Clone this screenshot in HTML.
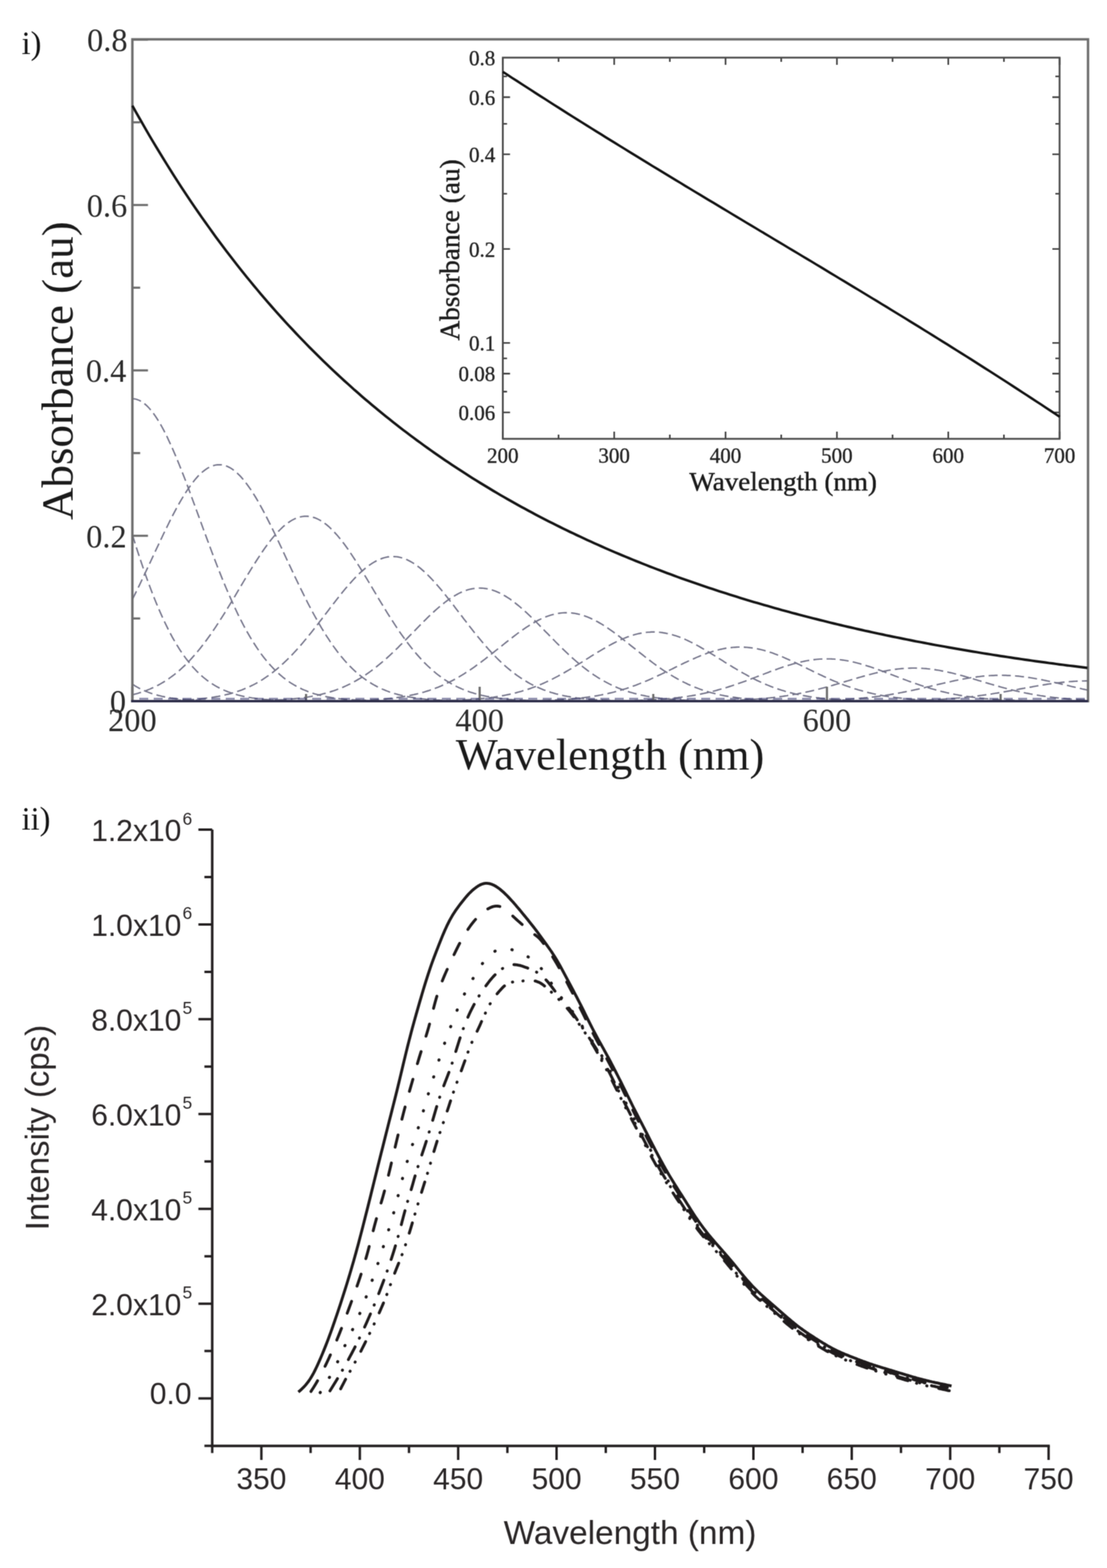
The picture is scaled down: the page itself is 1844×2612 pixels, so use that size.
<!DOCTYPE html><html><head><meta charset="utf-8"><title>Absorbance and emission spectra</title>
<style>html,body{margin:0;padding:0;background:#fff;overflow:hidden;}svg{display:block;}.sf{font-family:'Liberation Serif','Times New Roman',serif;}.ss{font-family:'Liberation Sans',Arial,sans-serif;}</style></head><body>
<svg width="1844" height="2612" viewBox="0 0 1844 2612">
<defs><filter id="soft" x="0" y="0" width="1844" height="2612" filterUnits="userSpaceOnUse" color-interpolation-filters="sRGB"><feConvolveMatrix order="3" kernelMatrix="1 2 1 2 6 2 1 2 1" divisor="18" edgeMode="duplicate"/></filter></defs>
<g filter="url(#soft)">
<rect x="0" y="0" width="1844" height="2612" fill="#fff"/>
<text class="sf" x="36" y="90" font-size="54" fill="#111">i)</text>
<g fill="none" stroke="#74748a" stroke-width="2.4" stroke-dasharray="15 7">
<path d="M220.5 1139.8L223.4 1141.6L226.3 1143.4L229.2 1145L232.1 1146.6L235 1148L237.9 1149.4L240.7 1150.7L243.6 1151.9L246.5 1153L249.4 1154.1L252.3 1155.1L255.2 1156L258.1 1156.9L261 1157.7L263.9 1158.5L266.8 1159.2L269.7 1159.9L272.6 1160.5L275.5 1161.1L278.4 1161.6L281.2 1162.1L284.1 1162.6L287 1163L289.9 1163.4L292.8 1163.8L295.7 1164.1L298.6 1164.4L301.5 1164.7L304.4 1165L307.3 1165.2L310.2 1165.5L313.1 1165.7L316 1165.9L318.8 1166.1L321.7 1166.2L324.6 1166.4L327.5 1166.5L330.4 1166.7L333.3 1166.8L336.2 1166.9L339.1 1167L342 1167.1L344.9 1167.2L347.8 1167.2L350.7 1167.3L353.6 1167.4L356.4 1167.4L359.3 1167.5L362.2 1167.5L365.1 1167.6L368 1167.6L370.9 1167.7L373.8 1167.7L376.7 1167.7L379.6 1167.8L382.5 1167.8L385.4 1167.8L388.3 1167.8L391.2 1167.8L394.1 1167.9L396.9 1167.9L399.8 1167.9L402.7 1167.9L405.6 1167.9L408.5 1167.9L411.4 1167.9L414.3 1167.9L417.2 1167.9L420.1 1167.9L423 1168L425.9 1168L428.8 1168L431.7 1168L434.5 1168L437.4 1168L440.3 1168L443.2 1168L446.1 1168L449 1168L451.9 1168L454.8 1168L457.7 1168L460.6 1168L463.5 1168L466.4 1168L469.3 1168L472.1 1168L475 1168L477.9 1168L480.8 1168L483.7 1168L486.6 1168L489.5 1168L492.4 1168L495.3 1168L498.2 1168L501.1 1168L504 1168L506.9 1168L509.8 1168L512.6 1168L515.5 1168L518.4 1168L521.3 1168L524.2 1168L527.1 1168L530 1168L532.9 1168L535.8 1168L538.7 1168L541.6 1168L544.5 1168L547.4 1168L550.2 1168L553.1 1168L556 1168L558.9 1168L561.8 1168L564.7 1168L567.6 1168L570.5 1168L573.4 1168L576.3 1168L579.2 1168L582.1 1168L585 1168L587.8 1168L590.7 1168L593.6 1168L596.5 1168L599.4 1168L602.3 1168L605.2 1168L608.1 1168L611 1168L613.9 1168L616.8 1168L619.7 1168L622.6 1168L625.5 1168L628.3 1168L631.2 1168L634.1 1168L637 1168L639.9 1168L642.8 1168L645.7 1168L648.6 1168L651.5 1168L654.4 1168L657.3 1168L660.2 1168L663.1 1168L665.9 1168L668.8 1168L671.7 1168L674.6 1168L677.5 1168L680.4 1168L683.3 1168L686.2 1168L689.1 1168L692 1168L694.9 1168L697.8 1168L700.7 1168L703.5 1168L706.4 1168L709.3 1168L712.2 1168L715.1 1168L718 1168L720.9 1168L723.8 1168L726.7 1168L729.6 1168L732.5 1168L735.4 1168L738.3 1168L741.1 1168L744 1168L746.9 1168L749.8 1168L752.7 1168L755.6 1168L758.5 1168L761.4 1168L764.3 1168L767.2 1168L770.1 1168L773 1168L775.9 1168L778.8 1168L781.6 1168L784.5 1168L787.4 1168L790.3 1168L793.2 1168L796.1 1168L799 1168L801.9 1168L804.8 1168L807.7 1168L810.6 1168L813.5 1168L816.4 1168L819.2 1168L822.1 1168L825 1168L827.9 1168L830.8 1168L833.7 1168L836.6 1168L839.5 1168L842.4 1168L845.3 1168L848.2 1168L851.1 1168L854 1168L856.9 1168L859.7 1168L862.6 1168L865.5 1168L868.4 1168L871.3 1168L874.2 1168L877.1 1168L880 1168L882.9 1168L885.8 1168L888.7 1168L891.6 1168L894.5 1168L897.3 1168L900.2 1168L903.1 1168L906 1168L908.9 1168L911.8 1168L914.7 1168L917.6 1168L920.5 1168L923.4 1168L926.3 1168L929.2 1168L932.1 1168L934.9 1168L937.8 1168L940.7 1168L943.6 1168L946.5 1168L949.4 1168L952.3 1168L955.2 1168L958.1 1168L961 1168L963.9 1168L966.8 1168L969.7 1168L972.6 1168L975.4 1168L978.3 1168L981.2 1168L984.1 1168L987 1168L989.9 1168L992.8 1168L995.7 1168L998.6 1168L1001.5 1168L1004.4 1168L1007.3 1168L1010.2 1168L1013 1168L1015.9 1168L1018.8 1168L1021.7 1168L1024.6 1168L1027.5 1168L1030.4 1168L1033.3 1168L1036.2 1168L1039.1 1168L1042 1168L1044.9 1168L1047.8 1168L1050.6 1168L1053.5 1168L1056.4 1168L1059.3 1168L1062.2 1168L1065.1 1168L1068 1168L1070.9 1168L1073.8 1168L1076.7 1168L1079.6 1168L1082.5 1168L1085.4 1168L1088.2 1168L1091.1 1168L1094 1168L1096.9 1168L1099.8 1168L1102.7 1168L1105.6 1168L1108.5 1168L1111.4 1168L1114.3 1168L1117.2 1168L1120.1 1168L1123 1168L1125.9 1168L1128.7 1168L1131.6 1168L1134.5 1168L1137.4 1168L1140.3 1168L1143.2 1168L1146.1 1168L1149 1168L1151.9 1168L1154.8 1168L1157.7 1168L1160.6 1168L1163.5 1168L1166.3 1168L1169.2 1168L1172.1 1168L1175 1168L1177.9 1168L1180.8 1168L1183.7 1168L1186.6 1168L1189.5 1168L1192.4 1168L1195.3 1168L1198.2 1168L1201.1 1168L1204 1168L1206.8 1168L1209.7 1168L1212.6 1168L1215.5 1168L1218.4 1168L1221.3 1168L1224.2 1168L1227.1 1168L1230 1168L1232.9 1168L1235.8 1168L1238.7 1168L1241.6 1168L1244.4 1168L1247.3 1168L1250.2 1168L1253.1 1168L1256 1168L1258.9 1168L1261.8 1168L1264.7 1168L1267.6 1168L1270.5 1168L1273.4 1168L1276.3 1168L1279.2 1168L1282 1168L1284.9 1168L1287.8 1168L1290.7 1168L1293.6 1168L1296.5 1168L1299.4 1168L1302.3 1168L1305.2 1168L1308.1 1168L1311 1168L1313.9 1168L1316.8 1168L1319.7 1168L1322.5 1168L1325.4 1168L1328.3 1168L1331.2 1168L1334.1 1168L1337 1168L1339.9 1168L1342.8 1168L1345.7 1168L1348.6 1168L1351.5 1168L1354.4 1168L1357.3 1168L1360.1 1168L1363 1168L1365.9 1168L1368.8 1168L1371.7 1168L1374.6 1168L1377.5 1168L1380.4 1168L1383.3 1168L1386.2 1168L1389.1 1168L1392 1168L1394.9 1168L1397.7 1168L1400.6 1168L1403.5 1168L1406.4 1168L1409.3 1168L1412.2 1168L1415.1 1168L1418 1168L1420.9 1168L1423.8 1168L1426.7 1168L1429.6 1168L1432.5 1168L1435.4 1168L1438.2 1168L1441.1 1168L1444 1168L1446.9 1168L1449.8 1168L1452.7 1168L1455.6 1168L1458.5 1168L1461.4 1168L1464.3 1168L1467.2 1168L1470.1 1168L1473 1168L1475.8 1168L1478.7 1168L1481.6 1168L1484.5 1168L1487.4 1168L1490.3 1168L1493.2 1168L1496.1 1168L1499 1168L1501.9 1168L1504.8 1168L1507.7 1168L1510.6 1168L1513.4 1168L1516.3 1168L1519.2 1168L1522.1 1168L1525 1168L1527.9 1168L1530.8 1168L1533.7 1168L1536.6 1168L1539.5 1168L1542.4 1168L1545.3 1168L1548.2 1168L1551 1168L1553.9 1168L1556.8 1168L1559.7 1168L1562.6 1168L1565.5 1168L1568.4 1168L1571.3 1168L1574.2 1168L1577.1 1168L1580 1168L1582.9 1168L1585.8 1168L1588.7 1168L1591.5 1168L1594.4 1168L1597.3 1168L1600.2 1168L1603.1 1168L1606 1168L1608.9 1168L1611.8 1168L1614.7 1168L1617.6 1168L1620.5 1168L1623.4 1168L1626.3 1168L1629.1 1168L1632 1168L1634.9 1168L1637.8 1168L1640.7 1168L1643.6 1168L1646.5 1168L1649.4 1168L1652.3 1168L1655.2 1168L1658.1 1168L1661 1168L1663.9 1168L1666.8 1168L1669.6 1168L1672.5 1168L1675.4 1168L1678.3 1168L1681.2 1168L1684.1 1168L1687 1168L1689.9 1168L1692.8 1168L1695.7 1168L1698.6 1168L1701.5 1168L1704.4 1168L1707.2 1168L1710.1 1168L1713 1168L1715.9 1168L1718.8 1168L1721.7 1168L1724.6 1168L1727.5 1168L1730.4 1168L1733.3 1168L1736.2 1168L1739.1 1168L1742 1168L1744.8 1168L1747.7 1168L1750.6 1168L1753.5 1168L1756.4 1168L1759.3 1168L1762.2 1168L1765.1 1168L1768 1168L1770.9 1168L1773.8 1168L1776.7 1168L1779.6 1168L1782.5 1168L1785.3 1168L1788.2 1168L1791.1 1168L1794 1168L1796.9 1168L1799.8 1168L1802.7 1168L1805.6 1168L1808.5 1168L1811.4 1168"/>
<path d="M220.5 890.8L223.4 900.1L226.3 909.3L229.2 918.3L232.1 927.1L235 935.8L237.9 944.3L240.7 952.7L243.6 960.9L246.5 968.9L249.4 976.7L252.3 984.4L255.2 991.9L258.1 999.1L261 1006.2L263.9 1013.1L266.8 1019.8L269.7 1026.3L272.6 1032.6L275.5 1038.7L278.4 1044.6L281.2 1050.4L284.1 1055.9L287 1061.3L289.9 1066.4L292.8 1071.4L295.7 1076.2L298.6 1080.8L301.5 1085.3L304.4 1089.5L307.3 1093.6L310.2 1097.6L313.1 1101.3L316 1104.9L318.8 1108.4L321.7 1111.7L324.6 1114.8L327.5 1117.9L330.4 1120.7L333.3 1123.5L336.2 1126.1L339.1 1128.6L342 1130.9L344.9 1133.2L347.8 1135.3L350.7 1137.3L353.6 1139.2L356.4 1141L359.3 1142.8L362.2 1144.4L365.1 1145.9L368 1147.4L370.9 1148.7L373.8 1150L376.7 1151.2L379.6 1152.4L382.5 1153.4L385.4 1154.5L388.3 1155.4L391.2 1156.3L394.1 1157.1L396.9 1157.9L399.8 1158.6L402.7 1159.3L405.6 1160L408.5 1160.6L411.4 1161.1L414.3 1161.6L417.2 1162.1L420.1 1162.6L423 1163L425.9 1163.4L428.8 1163.7L431.7 1164.1L434.5 1164.4L437.4 1164.7L440.3 1165L443.2 1165.2L446.1 1165.4L449 1165.6L451.9 1165.8L454.8 1166L457.7 1166.2L460.6 1166.3L463.5 1166.5L466.4 1166.6L469.3 1166.7L472.1 1166.9L475 1167L477.9 1167L480.8 1167.1L483.7 1167.2L486.6 1167.3L489.5 1167.3L492.4 1167.4L495.3 1167.5L498.2 1167.5L501.1 1167.6L504 1167.6L506.9 1167.6L509.8 1167.7L512.6 1167.7L515.5 1167.7L518.4 1167.8L521.3 1167.8L524.2 1167.8L527.1 1167.8L530 1167.8L532.9 1167.9L535.8 1167.9L538.7 1167.9L541.6 1167.9L544.5 1167.9L547.4 1167.9L550.2 1167.9L553.1 1167.9L556 1167.9L558.9 1167.9L561.8 1168L564.7 1168L567.6 1168L570.5 1168L573.4 1168L576.3 1168L579.2 1168L582.1 1168L585 1168L587.8 1168L590.7 1168L593.6 1168L596.5 1168L599.4 1168L602.3 1168L605.2 1168L608.1 1168L611 1168L613.9 1168L616.8 1168L619.7 1168L622.6 1168L625.5 1168L628.3 1168L631.2 1168L634.1 1168L637 1168L639.9 1168L642.8 1168L645.7 1168L648.6 1168L651.5 1168L654.4 1168L657.3 1168L660.2 1168L663.1 1168L665.9 1168L668.8 1168L671.7 1168L674.6 1168L677.5 1168L680.4 1168L683.3 1168L686.2 1168L689.1 1168L692 1168L694.9 1168L697.8 1168L700.7 1168L703.5 1168L706.4 1168L709.3 1168L712.2 1168L715.1 1168L718 1168L720.9 1168L723.8 1168L726.7 1168L729.6 1168L732.5 1168L735.4 1168L738.3 1168L741.1 1168L744 1168L746.9 1168L749.8 1168L752.7 1168L755.6 1168L758.5 1168L761.4 1168L764.3 1168L767.2 1168L770.1 1168L773 1168L775.9 1168L778.8 1168L781.6 1168L784.5 1168L787.4 1168L790.3 1168L793.2 1168L796.1 1168L799 1168L801.9 1168L804.8 1168L807.7 1168L810.6 1168L813.5 1168L816.4 1168L819.2 1168L822.1 1168L825 1168L827.9 1168L830.8 1168L833.7 1168L836.6 1168L839.5 1168L842.4 1168L845.3 1168L848.2 1168L851.1 1168L854 1168L856.9 1168L859.7 1168L862.6 1168L865.5 1168L868.4 1168L871.3 1168L874.2 1168L877.1 1168L880 1168L882.9 1168L885.8 1168L888.7 1168L891.6 1168L894.5 1168L897.3 1168L900.2 1168L903.1 1168L906 1168L908.9 1168L911.8 1168L914.7 1168L917.6 1168L920.5 1168L923.4 1168L926.3 1168L929.2 1168L932.1 1168L934.9 1168L937.8 1168L940.7 1168L943.6 1168L946.5 1168L949.4 1168L952.3 1168L955.2 1168L958.1 1168L961 1168L963.9 1168L966.8 1168L969.7 1168L972.6 1168L975.4 1168L978.3 1168L981.2 1168L984.1 1168L987 1168L989.9 1168L992.8 1168L995.7 1168L998.6 1168L1001.5 1168L1004.4 1168L1007.3 1168L1010.2 1168L1013 1168L1015.9 1168L1018.8 1168L1021.7 1168L1024.6 1168L1027.5 1168L1030.4 1168L1033.3 1168L1036.2 1168L1039.1 1168L1042 1168L1044.9 1168L1047.8 1168L1050.6 1168L1053.5 1168L1056.4 1168L1059.3 1168L1062.2 1168L1065.1 1168L1068 1168L1070.9 1168L1073.8 1168L1076.7 1168L1079.6 1168L1082.5 1168L1085.4 1168L1088.2 1168L1091.1 1168L1094 1168L1096.9 1168L1099.8 1168L1102.7 1168L1105.6 1168L1108.5 1168L1111.4 1168L1114.3 1168L1117.2 1168L1120.1 1168L1123 1168L1125.9 1168L1128.7 1168L1131.6 1168L1134.5 1168L1137.4 1168L1140.3 1168L1143.2 1168L1146.1 1168L1149 1168L1151.9 1168L1154.8 1168L1157.7 1168L1160.6 1168L1163.5 1168L1166.3 1168L1169.2 1168L1172.1 1168L1175 1168L1177.9 1168L1180.8 1168L1183.7 1168L1186.6 1168L1189.5 1168L1192.4 1168L1195.3 1168L1198.2 1168L1201.1 1168L1204 1168L1206.8 1168L1209.7 1168L1212.6 1168L1215.5 1168L1218.4 1168L1221.3 1168L1224.2 1168L1227.1 1168L1230 1168L1232.9 1168L1235.8 1168L1238.7 1168L1241.6 1168L1244.4 1168L1247.3 1168L1250.2 1168L1253.1 1168L1256 1168L1258.9 1168L1261.8 1168L1264.7 1168L1267.6 1168L1270.5 1168L1273.4 1168L1276.3 1168L1279.2 1168L1282 1168L1284.9 1168L1287.8 1168L1290.7 1168L1293.6 1168L1296.5 1168L1299.4 1168L1302.3 1168L1305.2 1168L1308.1 1168L1311 1168L1313.9 1168L1316.8 1168L1319.7 1168L1322.5 1168L1325.4 1168L1328.3 1168L1331.2 1168L1334.1 1168L1337 1168L1339.9 1168L1342.8 1168L1345.7 1168L1348.6 1168L1351.5 1168L1354.4 1168L1357.3 1168L1360.1 1168L1363 1168L1365.9 1168L1368.8 1168L1371.7 1168L1374.6 1168L1377.5 1168L1380.4 1168L1383.3 1168L1386.2 1168L1389.1 1168L1392 1168L1394.9 1168L1397.7 1168L1400.6 1168L1403.5 1168L1406.4 1168L1409.3 1168L1412.2 1168L1415.1 1168L1418 1168L1420.9 1168L1423.8 1168L1426.7 1168L1429.6 1168L1432.5 1168L1435.4 1168L1438.2 1168L1441.1 1168L1444 1168L1446.9 1168L1449.8 1168L1452.7 1168L1455.6 1168L1458.5 1168L1461.4 1168L1464.3 1168L1467.2 1168L1470.1 1168L1473 1168L1475.8 1168L1478.7 1168L1481.6 1168L1484.5 1168L1487.4 1168L1490.3 1168L1493.2 1168L1496.1 1168L1499 1168L1501.9 1168L1504.8 1168L1507.7 1168L1510.6 1168L1513.4 1168L1516.3 1168L1519.2 1168L1522.1 1168L1525 1168L1527.9 1168L1530.8 1168L1533.7 1168L1536.6 1168L1539.5 1168L1542.4 1168L1545.3 1168L1548.2 1168L1551 1168L1553.9 1168L1556.8 1168L1559.7 1168L1562.6 1168L1565.5 1168L1568.4 1168L1571.3 1168L1574.2 1168L1577.1 1168L1580 1168L1582.9 1168L1585.8 1168L1588.7 1168L1591.5 1168L1594.4 1168L1597.3 1168L1600.2 1168L1603.1 1168L1606 1168L1608.9 1168L1611.8 1168L1614.7 1168L1617.6 1168L1620.5 1168L1623.4 1168L1626.3 1168L1629.1 1168L1632 1168L1634.9 1168L1637.8 1168L1640.7 1168L1643.6 1168L1646.5 1168L1649.4 1168L1652.3 1168L1655.2 1168L1658.1 1168L1661 1168L1663.9 1168L1666.8 1168L1669.6 1168L1672.5 1168L1675.4 1168L1678.3 1168L1681.2 1168L1684.1 1168L1687 1168L1689.9 1168L1692.8 1168L1695.7 1168L1698.6 1168L1701.5 1168L1704.4 1168L1707.2 1168L1710.1 1168L1713 1168L1715.9 1168L1718.8 1168L1721.7 1168L1724.6 1168L1727.5 1168L1730.4 1168L1733.3 1168L1736.2 1168L1739.1 1168L1742 1168L1744.8 1168L1747.7 1168L1750.6 1168L1753.5 1168L1756.4 1168L1759.3 1168L1762.2 1168L1765.1 1168L1768 1168L1770.9 1168L1773.8 1168L1776.7 1168L1779.6 1168L1782.5 1168L1785.3 1168L1788.2 1168L1791.1 1168L1794 1168L1796.9 1168L1799.8 1168L1802.7 1168L1805.6 1168L1808.5 1168L1811.4 1168"/>
<path d="M220.5 664.2L223.4 664.4L226.3 664.9L229.2 665.8L232.1 667L235 668.5L237.9 670.3L240.7 672.5L243.6 675L246.5 677.8L249.4 681L252.3 684.4L255.2 688.1L258.1 692.2L261 696.5L263.9 701.1L266.8 705.9L269.7 711L272.6 716.4L275.5 722L278.4 727.8L281.2 733.9L284.1 740.1L287 746.6L289.9 753.2L292.8 760L295.7 767L298.6 774.1L301.5 781.3L304.4 788.7L307.3 796.1L310.2 803.7L313.1 811.4L316 819.1L318.8 826.9L321.7 834.8L324.6 842.6L327.5 850.6L330.4 858.5L333.3 866.4L336.2 874.4L339.1 882.3L342 890.2L344.9 898L347.8 905.8L350.7 913.6L353.6 921.3L356.4 928.9L359.3 936.4L362.2 943.9L365.1 951.2L368 958.5L370.9 965.7L373.8 972.7L376.7 979.6L379.6 986.4L382.5 993.1L385.4 999.6L388.3 1006L391.2 1012.3L394.1 1018.4L396.9 1024.4L399.8 1030.3L402.7 1035.9L405.6 1041.5L408.5 1046.9L411.4 1052.1L414.3 1057.2L417.2 1062.1L420.1 1066.9L423 1071.5L425.9 1076L428.8 1080.3L431.7 1084.5L434.5 1088.6L437.4 1092.5L440.3 1096.2L443.2 1099.8L446.1 1103.3L449 1106.6L451.9 1109.8L454.8 1112.9L457.7 1115.9L460.6 1118.7L463.5 1121.4L466.4 1124L469.3 1126.4L472.1 1128.8L475 1131L477.9 1133.2L480.8 1135.2L483.7 1137.2L486.6 1139L489.5 1140.8L492.4 1142.4L495.3 1144L498.2 1145.5L501.1 1146.9L504 1148.3L506.9 1149.5L509.8 1150.7L512.6 1151.9L515.5 1152.9L518.4 1153.9L521.3 1154.9L524.2 1155.8L527.1 1156.6L530 1157.4L532.9 1158.1L535.8 1158.8L538.7 1159.5L541.6 1160.1L544.5 1160.7L547.4 1161.2L550.2 1161.7L553.1 1162.2L556 1162.6L558.9 1163L561.8 1163.4L564.7 1163.8L567.6 1164.1L570.5 1164.4L573.4 1164.7L576.3 1164.9L579.2 1165.2L582.1 1165.4L585 1165.6L587.8 1165.8L590.7 1166L593.6 1166.2L596.5 1166.3L599.4 1166.5L602.3 1166.6L605.2 1166.7L608.1 1166.8L611 1166.9L613.9 1167L616.8 1167.1L619.7 1167.2L622.6 1167.3L625.5 1167.3L628.3 1167.4L631.2 1167.4L634.1 1167.5L637 1167.5L639.9 1167.6L642.8 1167.6L645.7 1167.7L648.6 1167.7L651.5 1167.7L654.4 1167.7L657.3 1167.8L660.2 1167.8L663.1 1167.8L665.9 1167.8L668.8 1167.8L671.7 1167.9L674.6 1167.9L677.5 1167.9L680.4 1167.9L683.3 1167.9L686.2 1167.9L689.1 1167.9L692 1167.9L694.9 1167.9L697.8 1167.9L700.7 1168L703.5 1168L706.4 1168L709.3 1168L712.2 1168L715.1 1168L718 1168L720.9 1168L723.8 1168L726.7 1168L729.6 1168L732.5 1168L735.4 1168L738.3 1168L741.1 1168L744 1168L746.9 1168L749.8 1168L752.7 1168L755.6 1168L758.5 1168L761.4 1168L764.3 1168L767.2 1168L770.1 1168L773 1168L775.9 1168L778.8 1168L781.6 1168L784.5 1168L787.4 1168L790.3 1168L793.2 1168L796.1 1168L799 1168L801.9 1168L804.8 1168L807.7 1168L810.6 1168L813.5 1168L816.4 1168L819.2 1168L822.1 1168L825 1168L827.9 1168L830.8 1168L833.7 1168L836.6 1168L839.5 1168L842.4 1168L845.3 1168L848.2 1168L851.1 1168L854 1168L856.9 1168L859.7 1168L862.6 1168L865.5 1168L868.4 1168L871.3 1168L874.2 1168L877.1 1168L880 1168L882.9 1168L885.8 1168L888.7 1168L891.6 1168L894.5 1168L897.3 1168L900.2 1168L903.1 1168L906 1168L908.9 1168L911.8 1168L914.7 1168L917.6 1168L920.5 1168L923.4 1168L926.3 1168L929.2 1168L932.1 1168L934.9 1168L937.8 1168L940.7 1168L943.6 1168L946.5 1168L949.4 1168L952.3 1168L955.2 1168L958.1 1168L961 1168L963.9 1168L966.8 1168L969.7 1168L972.6 1168L975.4 1168L978.3 1168L981.2 1168L984.1 1168L987 1168L989.9 1168L992.8 1168L995.7 1168L998.6 1168L1001.5 1168L1004.4 1168L1007.3 1168L1010.2 1168L1013 1168L1015.9 1168L1018.8 1168L1021.7 1168L1024.6 1168L1027.5 1168L1030.4 1168L1033.3 1168L1036.2 1168L1039.1 1168L1042 1168L1044.9 1168L1047.8 1168L1050.6 1168L1053.5 1168L1056.4 1168L1059.3 1168L1062.2 1168L1065.1 1168L1068 1168L1070.9 1168L1073.8 1168L1076.7 1168L1079.6 1168L1082.5 1168L1085.4 1168L1088.2 1168L1091.1 1168L1094 1168L1096.9 1168L1099.8 1168L1102.7 1168L1105.6 1168L1108.5 1168L1111.4 1168L1114.3 1168L1117.2 1168L1120.1 1168L1123 1168L1125.9 1168L1128.7 1168L1131.6 1168L1134.5 1168L1137.4 1168L1140.3 1168L1143.2 1168L1146.1 1168L1149 1168L1151.9 1168L1154.8 1168L1157.7 1168L1160.6 1168L1163.5 1168L1166.3 1168L1169.2 1168L1172.1 1168L1175 1168L1177.9 1168L1180.8 1168L1183.7 1168L1186.6 1168L1189.5 1168L1192.4 1168L1195.3 1168L1198.2 1168L1201.1 1168L1204 1168L1206.8 1168L1209.7 1168L1212.6 1168L1215.5 1168L1218.4 1168L1221.3 1168L1224.2 1168L1227.1 1168L1230 1168L1232.9 1168L1235.8 1168L1238.7 1168L1241.6 1168L1244.4 1168L1247.3 1168L1250.2 1168L1253.1 1168L1256 1168L1258.9 1168L1261.8 1168L1264.7 1168L1267.6 1168L1270.5 1168L1273.4 1168L1276.3 1168L1279.2 1168L1282 1168L1284.9 1168L1287.8 1168L1290.7 1168L1293.6 1168L1296.5 1168L1299.4 1168L1302.3 1168L1305.2 1168L1308.1 1168L1311 1168L1313.9 1168L1316.8 1168L1319.7 1168L1322.5 1168L1325.4 1168L1328.3 1168L1331.2 1168L1334.1 1168L1337 1168L1339.9 1168L1342.8 1168L1345.7 1168L1348.6 1168L1351.5 1168L1354.4 1168L1357.3 1168L1360.1 1168L1363 1168L1365.9 1168L1368.8 1168L1371.7 1168L1374.6 1168L1377.5 1168L1380.4 1168L1383.3 1168L1386.2 1168L1389.1 1168L1392 1168L1394.9 1168L1397.7 1168L1400.6 1168L1403.5 1168L1406.4 1168L1409.3 1168L1412.2 1168L1415.1 1168L1418 1168L1420.9 1168L1423.8 1168L1426.7 1168L1429.6 1168L1432.5 1168L1435.4 1168L1438.2 1168L1441.1 1168L1444 1168L1446.9 1168L1449.8 1168L1452.7 1168L1455.6 1168L1458.5 1168L1461.4 1168L1464.3 1168L1467.2 1168L1470.1 1168L1473 1168L1475.8 1168L1478.7 1168L1481.6 1168L1484.5 1168L1487.4 1168L1490.3 1168L1493.2 1168L1496.1 1168L1499 1168L1501.9 1168L1504.8 1168L1507.7 1168L1510.6 1168L1513.4 1168L1516.3 1168L1519.2 1168L1522.1 1168L1525 1168L1527.9 1168L1530.8 1168L1533.7 1168L1536.6 1168L1539.5 1168L1542.4 1168L1545.3 1168L1548.2 1168L1551 1168L1553.9 1168L1556.8 1168L1559.7 1168L1562.6 1168L1565.5 1168L1568.4 1168L1571.3 1168L1574.2 1168L1577.1 1168L1580 1168L1582.9 1168L1585.8 1168L1588.7 1168L1591.5 1168L1594.4 1168L1597.3 1168L1600.2 1168L1603.1 1168L1606 1168L1608.9 1168L1611.8 1168L1614.7 1168L1617.6 1168L1620.5 1168L1623.4 1168L1626.3 1168L1629.1 1168L1632 1168L1634.9 1168L1637.8 1168L1640.7 1168L1643.6 1168L1646.5 1168L1649.4 1168L1652.3 1168L1655.2 1168L1658.1 1168L1661 1168L1663.9 1168L1666.8 1168L1669.6 1168L1672.5 1168L1675.4 1168L1678.3 1168L1681.2 1168L1684.1 1168L1687 1168L1689.9 1168L1692.8 1168L1695.7 1168L1698.6 1168L1701.5 1168L1704.4 1168L1707.2 1168L1710.1 1168L1713 1168L1715.9 1168L1718.8 1168L1721.7 1168L1724.6 1168L1727.5 1168L1730.4 1168L1733.3 1168L1736.2 1168L1739.1 1168L1742 1168L1744.8 1168L1747.7 1168L1750.6 1168L1753.5 1168L1756.4 1168L1759.3 1168L1762.2 1168L1765.1 1168L1768 1168L1770.9 1168L1773.8 1168L1776.7 1168L1779.6 1168L1782.5 1168L1785.3 1168L1788.2 1168L1791.1 1168L1794 1168L1796.9 1168L1799.8 1168L1802.7 1168L1805.6 1168L1808.5 1168L1811.4 1168"/>
<path d="M220.5 998.5L223.4 992.7L226.3 986.9L229.2 981L232.1 975.1L235 969L237.9 963L240.7 956.9L243.6 950.7L246.5 944.6L249.4 938.4L252.3 932.2L255.2 926L258.1 919.8L261 913.6L263.9 907.4L266.8 901.3L269.7 895.2L272.6 889.1L275.5 883.1L278.4 877.2L281.2 871.4L284.1 865.6L287 859.9L289.9 854.4L292.8 848.9L295.7 843.6L298.6 838.4L301.5 833.4L304.4 828.5L307.3 823.8L310.2 819.2L313.1 814.9L316 810.7L318.8 806.7L321.7 802.9L324.6 799.3L327.5 795.9L330.4 792.7L333.3 789.8L336.2 787.1L339.1 784.7L342 782.5L344.9 780.5L347.8 778.8L350.7 777.4L353.6 776.2L356.4 775.3L359.3 774.6L362.2 774.2L365.1 774.1L368 774.2L370.9 774.6L373.8 775.3L376.7 776.2L379.6 777.4L382.5 778.8L385.4 780.5L388.3 782.5L391.2 784.7L394.1 787.1L396.9 789.8L399.8 792.7L402.7 795.9L405.6 799.3L408.5 802.9L411.4 806.7L414.3 810.7L417.2 814.9L420.1 819.2L423 823.8L425.9 828.5L428.8 833.4L431.7 838.4L434.5 843.6L437.4 848.9L440.3 854.4L443.2 859.9L446.1 865.6L449 871.4L451.9 877.2L454.8 883.1L457.7 889.1L460.6 895.2L463.5 901.3L466.4 907.4L469.3 913.6L472.1 919.8L475 926L477.9 932.2L480.8 938.4L483.7 944.6L486.6 950.7L489.5 956.9L492.4 963L495.3 969L498.2 975.1L501.1 981L504 986.9L506.9 992.7L509.8 998.5L512.6 1004.2L515.5 1009.8L518.4 1015.3L521.3 1020.7L524.2 1026L527.1 1031.2L530 1036.3L532.9 1041.4L535.8 1046.3L538.7 1051L541.6 1055.7L544.5 1060.3L547.4 1064.7L550.2 1069.1L553.1 1073.3L556 1077.4L558.9 1081.3L561.8 1085.2L564.7 1088.9L567.6 1092.6L570.5 1096.1L573.4 1099.5L576.3 1102.7L579.2 1105.9L582.1 1108.9L585 1111.9L587.8 1114.7L590.7 1117.4L593.6 1120L596.5 1122.5L599.4 1124.9L602.3 1127.2L605.2 1129.4L608.1 1131.5L611 1133.6L613.9 1135.5L616.8 1137.3L619.7 1139.1L622.6 1140.8L625.5 1142.4L628.3 1143.9L631.2 1145.3L634.1 1146.7L637 1148L639.9 1149.2L642.8 1150.4L645.7 1151.5L648.6 1152.6L651.5 1153.6L654.4 1154.5L657.3 1155.4L660.2 1156.2L663.1 1157L665.9 1157.7L668.8 1158.4L671.7 1159.1L674.6 1159.7L677.5 1160.3L680.4 1160.8L683.3 1161.4L686.2 1161.8L689.1 1162.3L692 1162.7L694.9 1163.1L697.8 1163.5L700.7 1163.8L703.5 1164.1L706.4 1164.4L709.3 1164.7L712.2 1164.9L715.1 1165.2L718 1165.4L720.9 1165.6L723.8 1165.8L726.7 1166L729.6 1166.1L732.5 1166.3L735.4 1166.4L738.3 1166.6L741.1 1166.7L744 1166.8L746.9 1166.9L749.8 1167L752.7 1167.1L755.6 1167.2L758.5 1167.2L761.4 1167.3L764.3 1167.4L767.2 1167.4L770.1 1167.5L773 1167.5L775.9 1167.6L778.8 1167.6L781.6 1167.6L784.5 1167.7L787.4 1167.7L790.3 1167.7L793.2 1167.8L796.1 1167.8L799 1167.8L801.9 1167.8L804.8 1167.8L807.7 1167.9L810.6 1167.9L813.5 1167.9L816.4 1167.9L819.2 1167.9L822.1 1167.9L825 1167.9L827.9 1167.9L830.8 1167.9L833.7 1167.9L836.6 1167.9L839.5 1168L842.4 1168L845.3 1168L848.2 1168L851.1 1168L854 1168L856.9 1168L859.7 1168L862.6 1168L865.5 1168L868.4 1168L871.3 1168L874.2 1168L877.1 1168L880 1168L882.9 1168L885.8 1168L888.7 1168L891.6 1168L894.5 1168L897.3 1168L900.2 1168L903.1 1168L906 1168L908.9 1168L911.8 1168L914.7 1168L917.6 1168L920.5 1168L923.4 1168L926.3 1168L929.2 1168L932.1 1168L934.9 1168L937.8 1168L940.7 1168L943.6 1168L946.5 1168L949.4 1168L952.3 1168L955.2 1168L958.1 1168L961 1168L963.9 1168L966.8 1168L969.7 1168L972.6 1168L975.4 1168L978.3 1168L981.2 1168L984.1 1168L987 1168L989.9 1168L992.8 1168L995.7 1168L998.6 1168L1001.5 1168L1004.4 1168L1007.3 1168L1010.2 1168L1013 1168L1015.9 1168L1018.8 1168L1021.7 1168L1024.6 1168L1027.5 1168L1030.4 1168L1033.3 1168L1036.2 1168L1039.1 1168L1042 1168L1044.9 1168L1047.8 1168L1050.6 1168L1053.5 1168L1056.4 1168L1059.3 1168L1062.2 1168L1065.1 1168L1068 1168L1070.9 1168L1073.8 1168L1076.7 1168L1079.6 1168L1082.5 1168L1085.4 1168L1088.2 1168L1091.1 1168L1094 1168L1096.9 1168L1099.8 1168L1102.7 1168L1105.6 1168L1108.5 1168L1111.4 1168L1114.3 1168L1117.2 1168L1120.1 1168L1123 1168L1125.9 1168L1128.7 1168L1131.6 1168L1134.5 1168L1137.4 1168L1140.3 1168L1143.2 1168L1146.1 1168L1149 1168L1151.9 1168L1154.8 1168L1157.7 1168L1160.6 1168L1163.5 1168L1166.3 1168L1169.2 1168L1172.1 1168L1175 1168L1177.9 1168L1180.8 1168L1183.7 1168L1186.6 1168L1189.5 1168L1192.4 1168L1195.3 1168L1198.2 1168L1201.1 1168L1204 1168L1206.8 1168L1209.7 1168L1212.6 1168L1215.5 1168L1218.4 1168L1221.3 1168L1224.2 1168L1227.1 1168L1230 1168L1232.9 1168L1235.8 1168L1238.7 1168L1241.6 1168L1244.4 1168L1247.3 1168L1250.2 1168L1253.1 1168L1256 1168L1258.9 1168L1261.8 1168L1264.7 1168L1267.6 1168L1270.5 1168L1273.4 1168L1276.3 1168L1279.2 1168L1282 1168L1284.9 1168L1287.8 1168L1290.7 1168L1293.6 1168L1296.5 1168L1299.4 1168L1302.3 1168L1305.2 1168L1308.1 1168L1311 1168L1313.9 1168L1316.8 1168L1319.7 1168L1322.5 1168L1325.4 1168L1328.3 1168L1331.2 1168L1334.1 1168L1337 1168L1339.9 1168L1342.8 1168L1345.7 1168L1348.6 1168L1351.5 1168L1354.4 1168L1357.3 1168L1360.1 1168L1363 1168L1365.9 1168L1368.8 1168L1371.7 1168L1374.6 1168L1377.5 1168L1380.4 1168L1383.3 1168L1386.2 1168L1389.1 1168L1392 1168L1394.9 1168L1397.7 1168L1400.6 1168L1403.5 1168L1406.4 1168L1409.3 1168L1412.2 1168L1415.1 1168L1418 1168L1420.9 1168L1423.8 1168L1426.7 1168L1429.6 1168L1432.5 1168L1435.4 1168L1438.2 1168L1441.1 1168L1444 1168L1446.9 1168L1449.8 1168L1452.7 1168L1455.6 1168L1458.5 1168L1461.4 1168L1464.3 1168L1467.2 1168L1470.1 1168L1473 1168L1475.8 1168L1478.7 1168L1481.6 1168L1484.5 1168L1487.4 1168L1490.3 1168L1493.2 1168L1496.1 1168L1499 1168L1501.9 1168L1504.8 1168L1507.7 1168L1510.6 1168L1513.4 1168L1516.3 1168L1519.2 1168L1522.1 1168L1525 1168L1527.9 1168L1530.8 1168L1533.7 1168L1536.6 1168L1539.5 1168L1542.4 1168L1545.3 1168L1548.2 1168L1551 1168L1553.9 1168L1556.8 1168L1559.7 1168L1562.6 1168L1565.5 1168L1568.4 1168L1571.3 1168L1574.2 1168L1577.1 1168L1580 1168L1582.9 1168L1585.8 1168L1588.7 1168L1591.5 1168L1594.4 1168L1597.3 1168L1600.2 1168L1603.1 1168L1606 1168L1608.9 1168L1611.8 1168L1614.7 1168L1617.6 1168L1620.5 1168L1623.4 1168L1626.3 1168L1629.1 1168L1632 1168L1634.9 1168L1637.8 1168L1640.7 1168L1643.6 1168L1646.5 1168L1649.4 1168L1652.3 1168L1655.2 1168L1658.1 1168L1661 1168L1663.9 1168L1666.8 1168L1669.6 1168L1672.5 1168L1675.4 1168L1678.3 1168L1681.2 1168L1684.1 1168L1687 1168L1689.9 1168L1692.8 1168L1695.7 1168L1698.6 1168L1701.5 1168L1704.4 1168L1707.2 1168L1710.1 1168L1713 1168L1715.9 1168L1718.8 1168L1721.7 1168L1724.6 1168L1727.5 1168L1730.4 1168L1733.3 1168L1736.2 1168L1739.1 1168L1742 1168L1744.8 1168L1747.7 1168L1750.6 1168L1753.5 1168L1756.4 1168L1759.3 1168L1762.2 1168L1765.1 1168L1768 1168L1770.9 1168L1773.8 1168L1776.7 1168L1779.6 1168L1782.5 1168L1785.3 1168L1788.2 1168L1791.1 1168L1794 1168L1796.9 1168L1799.8 1168L1802.7 1168L1805.6 1168L1808.5 1168L1811.4 1168"/>
<path d="M220.5 1157.4L223.4 1156.7L226.3 1155.9L229.2 1155.1L232.1 1154.2L235 1153.3L237.9 1152.4L240.7 1151.3L243.6 1150.3L246.5 1149.1L249.4 1148L252.3 1146.7L255.2 1145.4L258.1 1144L261 1142.6L263.9 1141.1L266.8 1139.5L269.7 1137.8L272.6 1136.1L275.5 1134.3L278.4 1132.4L281.2 1130.5L284.1 1128.4L287 1126.3L289.9 1124.1L292.8 1121.8L295.7 1119.4L298.6 1117L301.5 1114.4L304.4 1111.7L307.3 1109L310.2 1106.2L313.1 1103.3L316 1100.2L318.8 1097.1L321.7 1093.9L324.6 1090.6L327.5 1087.2L330.4 1083.8L333.3 1080.2L336.2 1076.5L339.1 1072.8L342 1069L344.9 1065L347.8 1061L350.7 1057L353.6 1052.8L356.4 1048.6L359.3 1044.3L362.2 1039.9L365.1 1035.4L368 1030.9L370.9 1026.4L373.8 1021.8L376.7 1017.1L379.6 1012.4L382.5 1007.7L385.4 1002.9L388.3 998.1L391.2 993.3L394.1 988.4L396.9 983.6L399.8 978.7L402.7 973.9L405.6 969L408.5 964.2L411.4 959.4L414.3 954.6L417.2 949.9L420.1 945.2L423 940.6L425.9 936L428.8 931.5L431.7 927.1L434.5 922.8L437.4 918.5L440.3 914.3L443.2 910.3L446.1 906.3L449 902.5L451.9 898.8L454.8 895.3L457.7 891.8L460.6 888.6L463.5 885.4L466.4 882.5L469.3 879.7L472.1 877L475 874.5L477.9 872.3L480.8 870.2L483.7 868.2L486.6 866.5L489.5 865L492.4 863.7L495.3 862.5L498.2 861.6L501.1 860.9L504 860.4L506.9 860L509.8 859.9L512.6 860L515.5 860.4L518.4 860.9L521.3 861.6L524.2 862.5L527.1 863.7L530 865L532.9 866.5L535.8 868.2L538.7 870.2L541.6 872.3L544.5 874.5L547.4 877L550.2 879.7L553.1 882.5L556 885.4L558.9 888.6L561.8 891.8L564.7 895.3L567.6 898.8L570.5 902.5L573.4 906.3L576.3 910.3L579.2 914.3L582.1 918.5L585 922.8L587.8 927.1L590.7 931.5L593.6 936L596.5 940.6L599.4 945.2L602.3 949.9L605.2 954.6L608.1 959.4L611 964.2L613.9 969L616.8 973.9L619.7 978.7L622.6 983.6L625.5 988.4L628.3 993.3L631.2 998.1L634.1 1002.9L637 1007.7L639.9 1012.4L642.8 1017.1L645.7 1021.8L648.6 1026.4L651.5 1030.9L654.4 1035.4L657.3 1039.9L660.2 1044.3L663.1 1048.6L665.9 1052.8L668.8 1057L671.7 1061L674.6 1065L677.5 1069L680.4 1072.8L683.3 1076.5L686.2 1080.2L689.1 1083.8L692 1087.2L694.9 1090.6L697.8 1093.9L700.7 1097.1L703.5 1100.2L706.4 1103.3L709.3 1106.2L712.2 1109L715.1 1111.7L718 1114.4L720.9 1117L723.8 1119.4L726.7 1121.8L729.6 1124.1L732.5 1126.3L735.4 1128.4L738.3 1130.5L741.1 1132.4L744 1134.3L746.9 1136.1L749.8 1137.8L752.7 1139.5L755.6 1141.1L758.5 1142.6L761.4 1144L764.3 1145.4L767.2 1146.7L770.1 1148L773 1149.1L775.9 1150.3L778.8 1151.3L781.6 1152.4L784.5 1153.3L787.4 1154.2L790.3 1155.1L793.2 1155.9L796.1 1156.7L799 1157.4L801.9 1158.1L804.8 1158.8L807.7 1159.4L810.6 1160L813.5 1160.5L816.4 1161L819.2 1161.5L822.1 1162L825 1162.4L827.9 1162.8L830.8 1163.2L833.7 1163.5L836.6 1163.9L839.5 1164.2L842.4 1164.4L845.3 1164.7L848.2 1165L851.1 1165.2L854 1165.4L856.9 1165.6L859.7 1165.8L862.6 1166L865.5 1166.1L868.4 1166.3L871.3 1166.4L874.2 1166.5L877.1 1166.7L880 1166.8L882.9 1166.9L885.8 1167L888.7 1167.1L891.6 1167.1L894.5 1167.2L897.3 1167.3L900.2 1167.3L903.1 1167.4L906 1167.5L908.9 1167.5L911.8 1167.5L914.7 1167.6L917.6 1167.6L920.5 1167.7L923.4 1167.7L926.3 1167.7L929.2 1167.7L932.1 1167.8L934.9 1167.8L937.8 1167.8L940.7 1167.8L943.6 1167.8L946.5 1167.9L949.4 1167.9L952.3 1167.9L955.2 1167.9L958.1 1167.9L961 1167.9L963.9 1167.9L966.8 1167.9L969.7 1167.9L972.6 1167.9L975.4 1168L978.3 1168L981.2 1168L984.1 1168L987 1168L989.9 1168L992.8 1168L995.7 1168L998.6 1168L1001.5 1168L1004.4 1168L1007.3 1168L1010.2 1168L1013 1168L1015.9 1168L1018.8 1168L1021.7 1168L1024.6 1168L1027.5 1168L1030.4 1168L1033.3 1168L1036.2 1168L1039.1 1168L1042 1168L1044.9 1168L1047.8 1168L1050.6 1168L1053.5 1168L1056.4 1168L1059.3 1168L1062.2 1168L1065.1 1168L1068 1168L1070.9 1168L1073.8 1168L1076.7 1168L1079.6 1168L1082.5 1168L1085.4 1168L1088.2 1168L1091.1 1168L1094 1168L1096.9 1168L1099.8 1168L1102.7 1168L1105.6 1168L1108.5 1168L1111.4 1168L1114.3 1168L1117.2 1168L1120.1 1168L1123 1168L1125.9 1168L1128.7 1168L1131.6 1168L1134.5 1168L1137.4 1168L1140.3 1168L1143.2 1168L1146.1 1168L1149 1168L1151.9 1168L1154.8 1168L1157.7 1168L1160.6 1168L1163.5 1168L1166.3 1168L1169.2 1168L1172.1 1168L1175 1168L1177.9 1168L1180.8 1168L1183.7 1168L1186.6 1168L1189.5 1168L1192.4 1168L1195.3 1168L1198.2 1168L1201.1 1168L1204 1168L1206.8 1168L1209.7 1168L1212.6 1168L1215.5 1168L1218.4 1168L1221.3 1168L1224.2 1168L1227.1 1168L1230 1168L1232.9 1168L1235.8 1168L1238.7 1168L1241.6 1168L1244.4 1168L1247.3 1168L1250.2 1168L1253.1 1168L1256 1168L1258.9 1168L1261.8 1168L1264.7 1168L1267.6 1168L1270.5 1168L1273.4 1168L1276.3 1168L1279.2 1168L1282 1168L1284.9 1168L1287.8 1168L1290.7 1168L1293.6 1168L1296.5 1168L1299.4 1168L1302.3 1168L1305.2 1168L1308.1 1168L1311 1168L1313.9 1168L1316.8 1168L1319.7 1168L1322.5 1168L1325.4 1168L1328.3 1168L1331.2 1168L1334.1 1168L1337 1168L1339.9 1168L1342.8 1168L1345.7 1168L1348.6 1168L1351.5 1168L1354.4 1168L1357.3 1168L1360.1 1168L1363 1168L1365.9 1168L1368.8 1168L1371.7 1168L1374.6 1168L1377.5 1168L1380.4 1168L1383.3 1168L1386.2 1168L1389.1 1168L1392 1168L1394.9 1168L1397.7 1168L1400.6 1168L1403.5 1168L1406.4 1168L1409.3 1168L1412.2 1168L1415.1 1168L1418 1168L1420.9 1168L1423.8 1168L1426.7 1168L1429.6 1168L1432.5 1168L1435.4 1168L1438.2 1168L1441.1 1168L1444 1168L1446.9 1168L1449.8 1168L1452.7 1168L1455.6 1168L1458.5 1168L1461.4 1168L1464.3 1168L1467.2 1168L1470.1 1168L1473 1168L1475.8 1168L1478.7 1168L1481.6 1168L1484.5 1168L1487.4 1168L1490.3 1168L1493.2 1168L1496.1 1168L1499 1168L1501.9 1168L1504.8 1168L1507.7 1168L1510.6 1168L1513.4 1168L1516.3 1168L1519.2 1168L1522.1 1168L1525 1168L1527.9 1168L1530.8 1168L1533.7 1168L1536.6 1168L1539.5 1168L1542.4 1168L1545.3 1168L1548.2 1168L1551 1168L1553.9 1168L1556.8 1168L1559.7 1168L1562.6 1168L1565.5 1168L1568.4 1168L1571.3 1168L1574.2 1168L1577.1 1168L1580 1168L1582.9 1168L1585.8 1168L1588.7 1168L1591.5 1168L1594.4 1168L1597.3 1168L1600.2 1168L1603.1 1168L1606 1168L1608.9 1168L1611.8 1168L1614.7 1168L1617.6 1168L1620.5 1168L1623.4 1168L1626.3 1168L1629.1 1168L1632 1168L1634.9 1168L1637.8 1168L1640.7 1168L1643.6 1168L1646.5 1168L1649.4 1168L1652.3 1168L1655.2 1168L1658.1 1168L1661 1168L1663.9 1168L1666.8 1168L1669.6 1168L1672.5 1168L1675.4 1168L1678.3 1168L1681.2 1168L1684.1 1168L1687 1168L1689.9 1168L1692.8 1168L1695.7 1168L1698.6 1168L1701.5 1168L1704.4 1168L1707.2 1168L1710.1 1168L1713 1168L1715.9 1168L1718.8 1168L1721.7 1168L1724.6 1168L1727.5 1168L1730.4 1168L1733.3 1168L1736.2 1168L1739.1 1168L1742 1168L1744.8 1168L1747.7 1168L1750.6 1168L1753.5 1168L1756.4 1168L1759.3 1168L1762.2 1168L1765.1 1168L1768 1168L1770.9 1168L1773.8 1168L1776.7 1168L1779.6 1168L1782.5 1168L1785.3 1168L1788.2 1168L1791.1 1168L1794 1168L1796.9 1168L1799.8 1168L1802.7 1168L1805.6 1168L1808.5 1168L1811.4 1168"/>
<path d="M220.5 1167.9L223.4 1167.9L226.3 1167.9L229.2 1167.8L232.1 1167.8L235 1167.8L237.9 1167.8L240.7 1167.8L243.6 1167.7L246.5 1167.7L249.4 1167.7L252.3 1167.6L255.2 1167.6L258.1 1167.6L261 1167.5L263.9 1167.5L266.8 1167.4L269.7 1167.4L272.6 1167.3L275.5 1167.3L278.4 1167.2L281.2 1167.1L284.1 1167L287 1167L289.9 1166.9L292.8 1166.8L295.7 1166.7L298.6 1166.5L301.5 1166.4L304.4 1166.3L307.3 1166.1L310.2 1166L313.1 1165.8L316 1165.6L318.8 1165.4L321.7 1165.2L324.6 1165L327.5 1164.8L330.4 1164.5L333.3 1164.2L336.2 1163.9L339.1 1163.6L342 1163.3L344.9 1162.9L347.8 1162.6L350.7 1162.2L353.6 1161.7L356.4 1161.3L359.3 1160.8L362.2 1160.3L365.1 1159.7L368 1159.2L370.9 1158.6L373.8 1157.9L376.7 1157.2L379.6 1156.5L382.5 1155.8L385.4 1155L388.3 1154.1L391.2 1153.3L394.1 1152.3L396.9 1151.3L399.8 1150.3L402.7 1149.3L405.6 1148.1L408.5 1146.9L411.4 1145.7L414.3 1144.4L417.2 1143.1L420.1 1141.7L423 1140.2L425.9 1138.7L428.8 1137.1L431.7 1135.4L434.5 1133.7L437.4 1131.9L440.3 1130L443.2 1128.1L446.1 1126.1L449 1124L451.9 1121.9L454.8 1119.7L457.7 1117.4L460.6 1115L463.5 1112.6L466.4 1110.1L469.3 1107.5L472.1 1104.8L475 1102.1L477.9 1099.3L480.8 1096.5L483.7 1093.5L486.6 1090.6L489.5 1087.5L492.4 1084.4L495.3 1081.2L498.2 1077.9L501.1 1074.6L504 1071.2L506.9 1067.8L509.8 1064.3L512.6 1060.8L515.5 1057.3L518.4 1053.7L521.3 1050L524.2 1046.3L527.1 1042.6L530 1038.9L532.9 1035.1L535.8 1031.4L538.7 1027.6L541.6 1023.8L544.5 1020L547.4 1016.2L550.2 1012.4L553.1 1008.6L556 1004.9L558.9 1001.2L561.8 997.5L564.7 993.8L567.6 990.2L570.5 986.6L573.4 983.1L576.3 979.6L579.2 976.2L582.1 972.9L585 969.6L587.8 966.5L590.7 963.4L593.6 960.4L596.5 957.5L599.4 954.7L602.3 952L605.2 949.5L608.1 947L611 944.7L613.9 942.5L616.8 940.4L619.7 938.5L622.6 936.7L625.5 935.1L628.3 933.6L631.2 932.2L634.1 931L637 930L639.9 929.1L642.8 928.4L645.7 927.8L648.6 927.4L651.5 927.2L654.4 927.1L657.3 927.2L660.2 927.4L663.1 927.8L665.9 928.4L668.8 929.1L671.7 930L674.6 931L677.5 932.2L680.4 933.6L683.3 935.1L686.2 936.7L689.1 938.5L692 940.4L694.9 942.5L697.8 944.7L700.7 947L703.5 949.5L706.4 952L709.3 954.7L712.2 957.5L715.1 960.4L718 963.4L720.9 966.5L723.8 969.6L726.7 972.9L729.6 976.2L732.5 979.6L735.4 983.1L738.3 986.6L741.1 990.2L744 993.8L746.9 997.5L749.8 1001.2L752.7 1004.9L755.6 1008.6L758.5 1012.4L761.4 1016.2L764.3 1020L767.2 1023.8L770.1 1027.6L773 1031.4L775.9 1035.1L778.8 1038.9L781.6 1042.6L784.5 1046.3L787.4 1050L790.3 1053.7L793.2 1057.3L796.1 1060.8L799 1064.3L801.9 1067.8L804.8 1071.2L807.7 1074.6L810.6 1077.9L813.5 1081.2L816.4 1084.4L819.2 1087.5L822.1 1090.6L825 1093.5L827.9 1096.5L830.8 1099.3L833.7 1102.1L836.6 1104.8L839.5 1107.5L842.4 1110.1L845.3 1112.6L848.2 1115L851.1 1117.4L854 1119.7L856.9 1121.9L859.7 1124L862.6 1126.1L865.5 1128.1L868.4 1130L871.3 1131.9L874.2 1133.7L877.1 1135.4L880 1137.1L882.9 1138.7L885.8 1140.2L888.7 1141.7L891.6 1143.1L894.5 1144.4L897.3 1145.7L900.2 1146.9L903.1 1148.1L906 1149.3L908.9 1150.3L911.8 1151.3L914.7 1152.3L917.6 1153.3L920.5 1154.1L923.4 1155L926.3 1155.8L929.2 1156.5L932.1 1157.2L934.9 1157.9L937.8 1158.6L940.7 1159.2L943.6 1159.7L946.5 1160.3L949.4 1160.8L952.3 1161.3L955.2 1161.7L958.1 1162.2L961 1162.6L963.9 1162.9L966.8 1163.3L969.7 1163.6L972.6 1163.9L975.4 1164.2L978.3 1164.5L981.2 1164.8L984.1 1165L987 1165.2L989.9 1165.4L992.8 1165.6L995.7 1165.8L998.6 1166L1001.5 1166.1L1004.4 1166.3L1007.3 1166.4L1010.2 1166.5L1013 1166.7L1015.9 1166.8L1018.8 1166.9L1021.7 1167L1024.6 1167L1027.5 1167.1L1030.4 1167.2L1033.3 1167.3L1036.2 1167.3L1039.1 1167.4L1042 1167.4L1044.9 1167.5L1047.8 1167.5L1050.6 1167.6L1053.5 1167.6L1056.4 1167.6L1059.3 1167.7L1062.2 1167.7L1065.1 1167.7L1068 1167.8L1070.9 1167.8L1073.8 1167.8L1076.7 1167.8L1079.6 1167.8L1082.5 1167.9L1085.4 1167.9L1088.2 1167.9L1091.1 1167.9L1094 1167.9L1096.9 1167.9L1099.8 1167.9L1102.7 1167.9L1105.6 1167.9L1108.5 1167.9L1111.4 1167.9L1114.3 1168L1117.2 1168L1120.1 1168L1123 1168L1125.9 1168L1128.7 1168L1131.6 1168L1134.5 1168L1137.4 1168L1140.3 1168L1143.2 1168L1146.1 1168L1149 1168L1151.9 1168L1154.8 1168L1157.7 1168L1160.6 1168L1163.5 1168L1166.3 1168L1169.2 1168L1172.1 1168L1175 1168L1177.9 1168L1180.8 1168L1183.7 1168L1186.6 1168L1189.5 1168L1192.4 1168L1195.3 1168L1198.2 1168L1201.1 1168L1204 1168L1206.8 1168L1209.7 1168L1212.6 1168L1215.5 1168L1218.4 1168L1221.3 1168L1224.2 1168L1227.1 1168L1230 1168L1232.9 1168L1235.8 1168L1238.7 1168L1241.6 1168L1244.4 1168L1247.3 1168L1250.2 1168L1253.1 1168L1256 1168L1258.9 1168L1261.8 1168L1264.7 1168L1267.6 1168L1270.5 1168L1273.4 1168L1276.3 1168L1279.2 1168L1282 1168L1284.9 1168L1287.8 1168L1290.7 1168L1293.6 1168L1296.5 1168L1299.4 1168L1302.3 1168L1305.2 1168L1308.1 1168L1311 1168L1313.9 1168L1316.8 1168L1319.7 1168L1322.5 1168L1325.4 1168L1328.3 1168L1331.2 1168L1334.1 1168L1337 1168L1339.9 1168L1342.8 1168L1345.7 1168L1348.6 1168L1351.5 1168L1354.4 1168L1357.3 1168L1360.1 1168L1363 1168L1365.9 1168L1368.8 1168L1371.7 1168L1374.6 1168L1377.5 1168L1380.4 1168L1383.3 1168L1386.2 1168L1389.1 1168L1392 1168L1394.9 1168L1397.7 1168L1400.6 1168L1403.5 1168L1406.4 1168L1409.3 1168L1412.2 1168L1415.1 1168L1418 1168L1420.9 1168L1423.8 1168L1426.7 1168L1429.6 1168L1432.5 1168L1435.4 1168L1438.2 1168L1441.1 1168L1444 1168L1446.9 1168L1449.8 1168L1452.7 1168L1455.6 1168L1458.5 1168L1461.4 1168L1464.3 1168L1467.2 1168L1470.1 1168L1473 1168L1475.8 1168L1478.7 1168L1481.6 1168L1484.5 1168L1487.4 1168L1490.3 1168L1493.2 1168L1496.1 1168L1499 1168L1501.9 1168L1504.8 1168L1507.7 1168L1510.6 1168L1513.4 1168L1516.3 1168L1519.2 1168L1522.1 1168L1525 1168L1527.9 1168L1530.8 1168L1533.7 1168L1536.6 1168L1539.5 1168L1542.4 1168L1545.3 1168L1548.2 1168L1551 1168L1553.9 1168L1556.8 1168L1559.7 1168L1562.6 1168L1565.5 1168L1568.4 1168L1571.3 1168L1574.2 1168L1577.1 1168L1580 1168L1582.9 1168L1585.8 1168L1588.7 1168L1591.5 1168L1594.4 1168L1597.3 1168L1600.2 1168L1603.1 1168L1606 1168L1608.9 1168L1611.8 1168L1614.7 1168L1617.6 1168L1620.5 1168L1623.4 1168L1626.3 1168L1629.1 1168L1632 1168L1634.9 1168L1637.8 1168L1640.7 1168L1643.6 1168L1646.5 1168L1649.4 1168L1652.3 1168L1655.2 1168L1658.1 1168L1661 1168L1663.9 1168L1666.8 1168L1669.6 1168L1672.5 1168L1675.4 1168L1678.3 1168L1681.2 1168L1684.1 1168L1687 1168L1689.9 1168L1692.8 1168L1695.7 1168L1698.6 1168L1701.5 1168L1704.4 1168L1707.2 1168L1710.1 1168L1713 1168L1715.9 1168L1718.8 1168L1721.7 1168L1724.6 1168L1727.5 1168L1730.4 1168L1733.3 1168L1736.2 1168L1739.1 1168L1742 1168L1744.8 1168L1747.7 1168L1750.6 1168L1753.5 1168L1756.4 1168L1759.3 1168L1762.2 1168L1765.1 1168L1768 1168L1770.9 1168L1773.8 1168L1776.7 1168L1779.6 1168L1782.5 1168L1785.3 1168L1788.2 1168L1791.1 1168L1794 1168L1796.9 1168L1799.8 1168L1802.7 1168L1805.6 1168L1808.5 1168L1811.4 1168"/>
<path d="M220.5 1168L223.4 1168L226.3 1168L229.2 1168L232.1 1168L235 1168L237.9 1168L240.7 1168L243.6 1168L246.5 1168L249.4 1168L252.3 1168L255.2 1168L258.1 1168L261 1168L263.9 1168L266.8 1168L269.7 1168L272.6 1168L275.5 1168L278.4 1168L281.2 1168L284.1 1168L287 1168L289.9 1168L292.8 1168L295.7 1168L298.6 1168L301.5 1168L304.4 1168L307.3 1168L310.2 1168L313.1 1168L316 1168L318.8 1168L321.7 1168L324.6 1168L327.5 1168L330.4 1168L333.3 1168L336.2 1168L339.1 1168L342 1168L344.9 1168L347.8 1167.9L350.7 1167.9L353.6 1167.9L356.4 1167.9L359.3 1167.9L362.2 1167.9L365.1 1167.9L368 1167.9L370.9 1167.9L373.8 1167.9L376.7 1167.9L379.6 1167.8L382.5 1167.8L385.4 1167.8L388.3 1167.8L391.2 1167.8L394.1 1167.7L396.9 1167.7L399.8 1167.7L402.7 1167.7L405.6 1167.6L408.5 1167.6L411.4 1167.6L414.3 1167.5L417.2 1167.5L420.1 1167.4L423 1167.4L425.9 1167.3L428.8 1167.3L431.7 1167.2L434.5 1167.1L437.4 1167L440.3 1166.9L443.2 1166.9L446.1 1166.8L449 1166.7L451.9 1166.5L454.8 1166.4L457.7 1166.3L460.6 1166.1L463.5 1166L466.4 1165.8L469.3 1165.6L472.1 1165.5L475 1165.3L477.9 1165L480.8 1164.8L483.7 1164.6L486.6 1164.3L489.5 1164L492.4 1163.7L495.3 1163.4L498.2 1163.1L501.1 1162.7L504 1162.4L506.9 1162L509.8 1161.5L512.6 1161.1L515.5 1160.6L518.4 1160.1L521.3 1159.6L524.2 1159L527.1 1158.4L530 1157.8L532.9 1157.2L535.8 1156.5L538.7 1155.7L541.6 1155L544.5 1154.2L547.4 1153.3L550.2 1152.5L553.1 1151.5L556 1150.6L558.9 1149.6L561.8 1148.5L564.7 1147.4L567.6 1146.3L570.5 1145.1L573.4 1143.8L576.3 1142.5L579.2 1141.2L582.1 1139.8L585 1138.3L587.8 1136.8L590.7 1135.2L593.6 1133.6L596.5 1131.9L599.4 1130.2L602.3 1128.4L605.2 1126.6L608.1 1124.7L611 1122.7L613.9 1120.7L616.8 1118.6L619.7 1116.5L622.6 1114.3L625.5 1112.1L628.3 1109.8L631.2 1107.4L634.1 1105L637 1102.6L639.9 1100.1L642.8 1097.6L645.7 1095L648.6 1092.3L651.5 1089.7L654.4 1086.9L657.3 1084.2L660.2 1081.4L663.1 1078.6L665.9 1075.7L668.8 1072.9L671.7 1070L674.6 1067L677.5 1064.1L680.4 1061.1L683.3 1058.2L686.2 1055.2L689.1 1052.3L692 1049.3L694.9 1046.3L697.8 1043.4L700.7 1040.4L703.5 1037.5L706.4 1034.6L709.3 1031.8L712.2 1028.9L715.1 1026.1L718 1023.4L720.9 1020.7L723.8 1018L726.7 1015.4L729.6 1012.9L732.5 1010.4L735.4 1008L738.3 1005.7L741.1 1003.4L744 1001.2L746.9 999.1L749.8 997.1L752.7 995.2L755.6 993.4L758.5 991.7L761.4 990.1L764.3 988.5L767.2 987.2L770.1 985.9L773 984.7L775.9 983.6L778.8 982.7L781.6 981.9L784.5 981.2L787.4 980.6L790.3 980.2L793.2 979.9L796.1 979.7L799 979.6L801.9 979.7L804.8 979.9L807.7 980.2L810.6 980.6L813.5 981.2L816.4 981.9L819.2 982.7L822.1 983.6L825 984.7L827.9 985.9L830.8 987.2L833.7 988.5L836.6 990.1L839.5 991.7L842.4 993.4L845.3 995.2L848.2 997.1L851.1 999.1L854 1001.2L856.9 1003.4L859.7 1005.7L862.6 1008L865.5 1010.4L868.4 1012.9L871.3 1015.4L874.2 1018L877.1 1020.7L880 1023.4L882.9 1026.1L885.8 1028.9L888.7 1031.8L891.6 1034.6L894.5 1037.5L897.3 1040.4L900.2 1043.4L903.1 1046.3L906 1049.3L908.9 1052.3L911.8 1055.2L914.7 1058.2L917.6 1061.1L920.5 1064.1L923.4 1067L926.3 1070L929.2 1072.9L932.1 1075.7L934.9 1078.6L937.8 1081.4L940.7 1084.2L943.6 1086.9L946.5 1089.7L949.4 1092.3L952.3 1095L955.2 1097.6L958.1 1100.1L961 1102.6L963.9 1105L966.8 1107.4L969.7 1109.8L972.6 1112.1L975.4 1114.3L978.3 1116.5L981.2 1118.6L984.1 1120.7L987 1122.7L989.9 1124.7L992.8 1126.6L995.7 1128.4L998.6 1130.2L1001.5 1131.9L1004.4 1133.6L1007.3 1135.2L1010.2 1136.8L1013 1138.3L1015.9 1139.8L1018.8 1141.2L1021.7 1142.5L1024.6 1143.8L1027.5 1145.1L1030.4 1146.3L1033.3 1147.4L1036.2 1148.5L1039.1 1149.6L1042 1150.6L1044.9 1151.5L1047.8 1152.5L1050.6 1153.3L1053.5 1154.2L1056.4 1155L1059.3 1155.7L1062.2 1156.5L1065.1 1157.2L1068 1157.8L1070.9 1158.4L1073.8 1159L1076.7 1159.6L1079.6 1160.1L1082.5 1160.6L1085.4 1161.1L1088.2 1161.5L1091.1 1162L1094 1162.4L1096.9 1162.7L1099.8 1163.1L1102.7 1163.4L1105.6 1163.7L1108.5 1164L1111.4 1164.3L1114.3 1164.6L1117.2 1164.8L1120.1 1165L1123 1165.3L1125.9 1165.5L1128.7 1165.6L1131.6 1165.8L1134.5 1166L1137.4 1166.1L1140.3 1166.3L1143.2 1166.4L1146.1 1166.5L1149 1166.7L1151.9 1166.8L1154.8 1166.9L1157.7 1166.9L1160.6 1167L1163.5 1167.1L1166.3 1167.2L1169.2 1167.3L1172.1 1167.3L1175 1167.4L1177.9 1167.4L1180.8 1167.5L1183.7 1167.5L1186.6 1167.6L1189.5 1167.6L1192.4 1167.6L1195.3 1167.7L1198.2 1167.7L1201.1 1167.7L1204 1167.7L1206.8 1167.8L1209.7 1167.8L1212.6 1167.8L1215.5 1167.8L1218.4 1167.8L1221.3 1167.9L1224.2 1167.9L1227.1 1167.9L1230 1167.9L1232.9 1167.9L1235.8 1167.9L1238.7 1167.9L1241.6 1167.9L1244.4 1167.9L1247.3 1167.9L1250.2 1167.9L1253.1 1168L1256 1168L1258.9 1168L1261.8 1168L1264.7 1168L1267.6 1168L1270.5 1168L1273.4 1168L1276.3 1168L1279.2 1168L1282 1168L1284.9 1168L1287.8 1168L1290.7 1168L1293.6 1168L1296.5 1168L1299.4 1168L1302.3 1168L1305.2 1168L1308.1 1168L1311 1168L1313.9 1168L1316.8 1168L1319.7 1168L1322.5 1168L1325.4 1168L1328.3 1168L1331.2 1168L1334.1 1168L1337 1168L1339.9 1168L1342.8 1168L1345.7 1168L1348.6 1168L1351.5 1168L1354.4 1168L1357.3 1168L1360.1 1168L1363 1168L1365.9 1168L1368.8 1168L1371.7 1168L1374.6 1168L1377.5 1168L1380.4 1168L1383.3 1168L1386.2 1168L1389.1 1168L1392 1168L1394.9 1168L1397.7 1168L1400.6 1168L1403.5 1168L1406.4 1168L1409.3 1168L1412.2 1168L1415.1 1168L1418 1168L1420.9 1168L1423.8 1168L1426.7 1168L1429.6 1168L1432.5 1168L1435.4 1168L1438.2 1168L1441.1 1168L1444 1168L1446.9 1168L1449.8 1168L1452.7 1168L1455.6 1168L1458.5 1168L1461.4 1168L1464.3 1168L1467.2 1168L1470.1 1168L1473 1168L1475.8 1168L1478.7 1168L1481.6 1168L1484.5 1168L1487.4 1168L1490.3 1168L1493.2 1168L1496.1 1168L1499 1168L1501.9 1168L1504.8 1168L1507.7 1168L1510.6 1168L1513.4 1168L1516.3 1168L1519.2 1168L1522.1 1168L1525 1168L1527.9 1168L1530.8 1168L1533.7 1168L1536.6 1168L1539.5 1168L1542.4 1168L1545.3 1168L1548.2 1168L1551 1168L1553.9 1168L1556.8 1168L1559.7 1168L1562.6 1168L1565.5 1168L1568.4 1168L1571.3 1168L1574.2 1168L1577.1 1168L1580 1168L1582.9 1168L1585.8 1168L1588.7 1168L1591.5 1168L1594.4 1168L1597.3 1168L1600.2 1168L1603.1 1168L1606 1168L1608.9 1168L1611.8 1168L1614.7 1168L1617.6 1168L1620.5 1168L1623.4 1168L1626.3 1168L1629.1 1168L1632 1168L1634.9 1168L1637.8 1168L1640.7 1168L1643.6 1168L1646.5 1168L1649.4 1168L1652.3 1168L1655.2 1168L1658.1 1168L1661 1168L1663.9 1168L1666.8 1168L1669.6 1168L1672.5 1168L1675.4 1168L1678.3 1168L1681.2 1168L1684.1 1168L1687 1168L1689.9 1168L1692.8 1168L1695.7 1168L1698.6 1168L1701.5 1168L1704.4 1168L1707.2 1168L1710.1 1168L1713 1168L1715.9 1168L1718.8 1168L1721.7 1168L1724.6 1168L1727.5 1168L1730.4 1168L1733.3 1168L1736.2 1168L1739.1 1168L1742 1168L1744.8 1168L1747.7 1168L1750.6 1168L1753.5 1168L1756.4 1168L1759.3 1168L1762.2 1168L1765.1 1168L1768 1168L1770.9 1168L1773.8 1168L1776.7 1168L1779.6 1168L1782.5 1168L1785.3 1168L1788.2 1168L1791.1 1168L1794 1168L1796.9 1168L1799.8 1168L1802.7 1168L1805.6 1168L1808.5 1168L1811.4 1168"/>
<path d="M220.5 1168L223.4 1168L226.3 1168L229.2 1168L232.1 1168L235 1168L237.9 1168L240.7 1168L243.6 1168L246.5 1168L249.4 1168L252.3 1168L255.2 1168L258.1 1168L261 1168L263.9 1168L266.8 1168L269.7 1168L272.6 1168L275.5 1168L278.4 1168L281.2 1168L284.1 1168L287 1168L289.9 1168L292.8 1168L295.7 1168L298.6 1168L301.5 1168L304.4 1168L307.3 1168L310.2 1168L313.1 1168L316 1168L318.8 1168L321.7 1168L324.6 1168L327.5 1168L330.4 1168L333.3 1168L336.2 1168L339.1 1168L342 1168L344.9 1168L347.8 1168L350.7 1168L353.6 1168L356.4 1168L359.3 1168L362.2 1168L365.1 1168L368 1168L370.9 1168L373.8 1168L376.7 1168L379.6 1168L382.5 1168L385.4 1168L388.3 1168L391.2 1168L394.1 1168L396.9 1168L399.8 1168L402.7 1168L405.6 1168L408.5 1168L411.4 1168L414.3 1168L417.2 1168L420.1 1168L423 1168L425.9 1168L428.8 1168L431.7 1168L434.5 1168L437.4 1168L440.3 1168L443.2 1168L446.1 1168L449 1168L451.9 1168L454.8 1168L457.7 1168L460.6 1168L463.5 1168L466.4 1168L469.3 1168L472.1 1168L475 1168L477.9 1168L480.8 1168L483.7 1168L486.6 1168L489.5 1168L492.4 1168L495.3 1168L498.2 1168L501.1 1167.9L504 1167.9L506.9 1167.9L509.8 1167.9L512.6 1167.9L515.5 1167.9L518.4 1167.9L521.3 1167.9L524.2 1167.9L527.1 1167.9L530 1167.9L532.9 1167.8L535.8 1167.8L538.7 1167.8L541.6 1167.8L544.5 1167.8L547.4 1167.7L550.2 1167.7L553.1 1167.7L556 1167.7L558.9 1167.6L561.8 1167.6L564.7 1167.5L567.6 1167.5L570.5 1167.5L573.4 1167.4L576.3 1167.4L579.2 1167.3L582.1 1167.2L585 1167.2L587.8 1167.1L590.7 1167L593.6 1166.9L596.5 1166.9L599.4 1166.8L602.3 1166.7L605.2 1166.5L608.1 1166.4L611 1166.3L613.9 1166.2L616.8 1166L619.7 1165.9L622.6 1165.7L625.5 1165.5L628.3 1165.3L631.2 1165.1L634.1 1164.9L637 1164.7L639.9 1164.4L642.8 1164.2L645.7 1163.9L648.6 1163.6L651.5 1163.3L654.4 1163L657.3 1162.6L660.2 1162.2L663.1 1161.8L665.9 1161.4L668.8 1161L671.7 1160.5L674.6 1160L677.5 1159.5L680.4 1159L683.3 1158.4L686.2 1157.8L689.1 1157.2L692 1156.5L694.9 1155.8L697.8 1155.1L700.7 1154.4L703.5 1153.6L706.4 1152.8L709.3 1151.9L712.2 1151L715.1 1150.1L718 1149.1L720.9 1148.1L723.8 1147L726.7 1145.9L729.6 1144.8L732.5 1143.6L735.4 1142.4L738.3 1141.1L741.1 1139.8L744 1138.4L746.9 1137L749.8 1135.6L752.7 1134.1L755.6 1132.6L758.5 1131L761.4 1129.4L764.3 1127.7L767.2 1126L770.1 1124.3L773 1122.5L775.9 1120.6L778.8 1118.8L781.6 1116.9L784.5 1114.9L787.4 1112.9L790.3 1110.9L793.2 1108.8L796.1 1106.7L799 1104.6L801.9 1102.5L804.8 1100.3L807.7 1098.1L810.6 1095.8L813.5 1093.6L816.4 1091.3L819.2 1089L822.1 1086.7L825 1084.4L827.9 1082.1L830.8 1079.8L833.7 1077.5L836.6 1075.2L839.5 1072.9L842.4 1070.5L845.3 1068.3L848.2 1066L851.1 1063.7L854 1061.5L856.9 1059.3L859.7 1057.1L862.6 1054.9L865.5 1052.8L868.4 1050.7L871.3 1048.7L874.2 1046.7L877.1 1044.8L880 1042.9L882.9 1041L885.8 1039.3L888.7 1037.6L891.6 1035.9L894.5 1034.4L897.3 1032.9L900.2 1031.5L903.1 1030.1L906 1028.8L908.9 1027.7L911.8 1026.6L914.7 1025.6L917.6 1024.7L920.5 1023.8L923.4 1023.1L926.3 1022.5L929.2 1021.9L932.1 1021.5L934.9 1021.1L937.8 1020.9L940.7 1020.7L943.6 1020.7L946.5 1020.7L949.4 1020.9L952.3 1021.1L955.2 1021.5L958.1 1021.9L961 1022.5L963.9 1023.1L966.8 1023.8L969.7 1024.7L972.6 1025.6L975.4 1026.6L978.3 1027.7L981.2 1028.8L984.1 1030.1L987 1031.5L989.9 1032.9L992.8 1034.4L995.7 1035.9L998.6 1037.6L1001.5 1039.3L1004.4 1041L1007.3 1042.9L1010.2 1044.8L1013 1046.7L1015.9 1048.7L1018.8 1050.7L1021.7 1052.8L1024.6 1054.9L1027.5 1057.1L1030.4 1059.3L1033.3 1061.5L1036.2 1063.7L1039.1 1066L1042 1068.3L1044.9 1070.5L1047.8 1072.9L1050.6 1075.2L1053.5 1077.5L1056.4 1079.8L1059.3 1082.1L1062.2 1084.4L1065.1 1086.7L1068 1089L1070.9 1091.3L1073.8 1093.6L1076.7 1095.8L1079.6 1098.1L1082.5 1100.3L1085.4 1102.5L1088.2 1104.6L1091.1 1106.7L1094 1108.8L1096.9 1110.9L1099.8 1112.9L1102.7 1114.9L1105.6 1116.9L1108.5 1118.8L1111.4 1120.6L1114.3 1122.5L1117.2 1124.3L1120.1 1126L1123 1127.7L1125.9 1129.4L1128.7 1131L1131.6 1132.6L1134.5 1134.1L1137.4 1135.6L1140.3 1137L1143.2 1138.4L1146.1 1139.8L1149 1141.1L1151.9 1142.4L1154.8 1143.6L1157.7 1144.8L1160.6 1145.9L1163.5 1147L1166.3 1148.1L1169.2 1149.1L1172.1 1150.1L1175 1151L1177.9 1151.9L1180.8 1152.8L1183.7 1153.6L1186.6 1154.4L1189.5 1155.1L1192.4 1155.8L1195.3 1156.5L1198.2 1157.2L1201.1 1157.8L1204 1158.4L1206.8 1159L1209.7 1159.5L1212.6 1160L1215.5 1160.5L1218.4 1161L1221.3 1161.4L1224.2 1161.8L1227.1 1162.2L1230 1162.6L1232.9 1163L1235.8 1163.3L1238.7 1163.6L1241.6 1163.9L1244.4 1164.2L1247.3 1164.4L1250.2 1164.7L1253.1 1164.9L1256 1165.1L1258.9 1165.3L1261.8 1165.5L1264.7 1165.7L1267.6 1165.9L1270.5 1166L1273.4 1166.2L1276.3 1166.3L1279.2 1166.4L1282 1166.5L1284.9 1166.7L1287.8 1166.8L1290.7 1166.9L1293.6 1166.9L1296.5 1167L1299.4 1167.1L1302.3 1167.2L1305.2 1167.2L1308.1 1167.3L1311 1167.4L1313.9 1167.4L1316.8 1167.5L1319.7 1167.5L1322.5 1167.5L1325.4 1167.6L1328.3 1167.6L1331.2 1167.7L1334.1 1167.7L1337 1167.7L1339.9 1167.7L1342.8 1167.8L1345.7 1167.8L1348.6 1167.8L1351.5 1167.8L1354.4 1167.8L1357.3 1167.9L1360.1 1167.9L1363 1167.9L1365.9 1167.9L1368.8 1167.9L1371.7 1167.9L1374.6 1167.9L1377.5 1167.9L1380.4 1167.9L1383.3 1167.9L1386.2 1167.9L1389.1 1168L1392 1168L1394.9 1168L1397.7 1168L1400.6 1168L1403.5 1168L1406.4 1168L1409.3 1168L1412.2 1168L1415.1 1168L1418 1168L1420.9 1168L1423.8 1168L1426.7 1168L1429.6 1168L1432.5 1168L1435.4 1168L1438.2 1168L1441.1 1168L1444 1168L1446.9 1168L1449.8 1168L1452.7 1168L1455.6 1168L1458.5 1168L1461.4 1168L1464.3 1168L1467.2 1168L1470.1 1168L1473 1168L1475.8 1168L1478.7 1168L1481.6 1168L1484.5 1168L1487.4 1168L1490.3 1168L1493.2 1168L1496.1 1168L1499 1168L1501.9 1168L1504.8 1168L1507.7 1168L1510.6 1168L1513.4 1168L1516.3 1168L1519.2 1168L1522.1 1168L1525 1168L1527.9 1168L1530.8 1168L1533.7 1168L1536.6 1168L1539.5 1168L1542.4 1168L1545.3 1168L1548.2 1168L1551 1168L1553.9 1168L1556.8 1168L1559.7 1168L1562.6 1168L1565.5 1168L1568.4 1168L1571.3 1168L1574.2 1168L1577.1 1168L1580 1168L1582.9 1168L1585.8 1168L1588.7 1168L1591.5 1168L1594.4 1168L1597.3 1168L1600.2 1168L1603.1 1168L1606 1168L1608.9 1168L1611.8 1168L1614.7 1168L1617.6 1168L1620.5 1168L1623.4 1168L1626.3 1168L1629.1 1168L1632 1168L1634.9 1168L1637.8 1168L1640.7 1168L1643.6 1168L1646.5 1168L1649.4 1168L1652.3 1168L1655.2 1168L1658.1 1168L1661 1168L1663.9 1168L1666.8 1168L1669.6 1168L1672.5 1168L1675.4 1168L1678.3 1168L1681.2 1168L1684.1 1168L1687 1168L1689.9 1168L1692.8 1168L1695.7 1168L1698.6 1168L1701.5 1168L1704.4 1168L1707.2 1168L1710.1 1168L1713 1168L1715.9 1168L1718.8 1168L1721.7 1168L1724.6 1168L1727.5 1168L1730.4 1168L1733.3 1168L1736.2 1168L1739.1 1168L1742 1168L1744.8 1168L1747.7 1168L1750.6 1168L1753.5 1168L1756.4 1168L1759.3 1168L1762.2 1168L1765.1 1168L1768 1168L1770.9 1168L1773.8 1168L1776.7 1168L1779.6 1168L1782.5 1168L1785.3 1168L1788.2 1168L1791.1 1168L1794 1168L1796.9 1168L1799.8 1168L1802.7 1168L1805.6 1168L1808.5 1168L1811.4 1168"/>
<path d="M220.5 1168L223.4 1168L226.3 1168L229.2 1168L232.1 1168L235 1168L237.9 1168L240.7 1168L243.6 1168L246.5 1168L249.4 1168L252.3 1168L255.2 1168L258.1 1168L261 1168L263.9 1168L266.8 1168L269.7 1168L272.6 1168L275.5 1168L278.4 1168L281.2 1168L284.1 1168L287 1168L289.9 1168L292.8 1168L295.7 1168L298.6 1168L301.5 1168L304.4 1168L307.3 1168L310.2 1168L313.1 1168L316 1168L318.8 1168L321.7 1168L324.6 1168L327.5 1168L330.4 1168L333.3 1168L336.2 1168L339.1 1168L342 1168L344.9 1168L347.8 1168L350.7 1168L353.6 1168L356.4 1168L359.3 1168L362.2 1168L365.1 1168L368 1168L370.9 1168L373.8 1168L376.7 1168L379.6 1168L382.5 1168L385.4 1168L388.3 1168L391.2 1168L394.1 1168L396.9 1168L399.8 1168L402.7 1168L405.6 1168L408.5 1168L411.4 1168L414.3 1168L417.2 1168L420.1 1168L423 1168L425.9 1168L428.8 1168L431.7 1168L434.5 1168L437.4 1168L440.3 1168L443.2 1168L446.1 1168L449 1168L451.9 1168L454.8 1168L457.7 1168L460.6 1168L463.5 1168L466.4 1168L469.3 1168L472.1 1168L475 1168L477.9 1168L480.8 1168L483.7 1168L486.6 1168L489.5 1168L492.4 1168L495.3 1168L498.2 1168L501.1 1168L504 1168L506.9 1168L509.8 1168L512.6 1168L515.5 1168L518.4 1168L521.3 1168L524.2 1168L527.1 1168L530 1168L532.9 1168L535.8 1168L538.7 1168L541.6 1168L544.5 1168L547.4 1168L550.2 1168L553.1 1168L556 1168L558.9 1168L561.8 1168L564.7 1168L567.6 1168L570.5 1168L573.4 1168L576.3 1168L579.2 1168L582.1 1168L585 1168L587.8 1168L590.7 1168L593.6 1168L596.5 1168L599.4 1168L602.3 1168L605.2 1168L608.1 1168L611 1168L613.9 1168L616.8 1168L619.7 1168L622.6 1168L625.5 1168L628.3 1168L631.2 1168L634.1 1168L637 1168L639.9 1168L642.8 1168L645.7 1168L648.6 1168L651.5 1167.9L654.4 1167.9L657.3 1167.9L660.2 1167.9L663.1 1167.9L665.9 1167.9L668.8 1167.9L671.7 1167.9L674.6 1167.9L677.5 1167.9L680.4 1167.9L683.3 1167.8L686.2 1167.8L689.1 1167.8L692 1167.8L694.9 1167.8L697.8 1167.8L700.7 1167.7L703.5 1167.7L706.4 1167.7L709.3 1167.6L712.2 1167.6L715.1 1167.6L718 1167.5L720.9 1167.5L723.8 1167.5L726.7 1167.4L729.6 1167.4L732.5 1167.3L735.4 1167.2L738.3 1167.2L741.1 1167.1L744 1167L746.9 1166.9L749.8 1166.9L752.7 1166.8L755.6 1166.7L758.5 1166.6L761.4 1166.4L764.3 1166.3L767.2 1166.2L770.1 1166.1L773 1165.9L775.9 1165.7L778.8 1165.6L781.6 1165.4L784.5 1165.2L787.4 1165L790.3 1164.8L793.2 1164.6L796.1 1164.3L799 1164.1L801.9 1163.8L804.8 1163.5L807.7 1163.2L810.6 1162.9L813.5 1162.5L816.4 1162.2L819.2 1161.8L822.1 1161.4L825 1160.9L827.9 1160.5L830.8 1160L833.7 1159.5L836.6 1159L839.5 1158.5L842.4 1157.9L845.3 1157.3L848.2 1156.7L851.1 1156.1L854 1155.4L856.9 1154.7L859.7 1154L862.6 1153.2L865.5 1152.4L868.4 1151.6L871.3 1150.7L874.2 1149.8L877.1 1148.9L880 1148L882.9 1147L885.8 1145.9L888.7 1144.9L891.6 1143.8L894.5 1142.7L897.3 1141.5L900.2 1140.3L903.1 1139.1L906 1137.8L908.9 1136.5L911.8 1135.2L914.7 1133.8L917.6 1132.4L920.5 1131L923.4 1129.5L926.3 1128L929.2 1126.5L932.1 1124.9L934.9 1123.3L937.8 1121.7L940.7 1120.1L943.6 1118.4L946.5 1116.7L949.4 1115L952.3 1113.3L955.2 1111.6L958.1 1109.8L961 1108L963.9 1106.3L966.8 1104.5L969.7 1102.7L972.6 1100.8L975.4 1099L978.3 1097.2L981.2 1095.4L984.1 1093.6L987 1091.8L989.9 1090L992.8 1088.2L995.7 1086.4L998.6 1084.7L1001.5 1083L1004.4 1081.3L1007.3 1079.6L1010.2 1077.9L1013 1076.3L1015.9 1074.7L1018.8 1073.1L1021.7 1071.6L1024.6 1070.2L1027.5 1068.7L1030.4 1067.3L1033.3 1066L1036.2 1064.7L1039.1 1063.5L1042 1062.3L1044.9 1061.2L1047.8 1060.2L1050.6 1059.2L1053.5 1058.3L1056.4 1057.4L1059.3 1056.6L1062.2 1055.9L1065.1 1055.3L1068 1054.7L1070.9 1054.2L1073.8 1053.8L1076.7 1053.4L1079.6 1053.1L1082.5 1053L1085.4 1052.8L1088.2 1052.8L1091.1 1052.8L1094 1053L1096.9 1053.1L1099.8 1053.4L1102.7 1053.8L1105.6 1054.2L1108.5 1054.7L1111.4 1055.3L1114.3 1055.9L1117.2 1056.6L1120.1 1057.4L1123 1058.3L1125.9 1059.2L1128.7 1060.2L1131.6 1061.2L1134.5 1062.3L1137.4 1063.5L1140.3 1064.7L1143.2 1066L1146.1 1067.3L1149 1068.7L1151.9 1070.2L1154.8 1071.6L1157.7 1073.1L1160.6 1074.7L1163.5 1076.3L1166.3 1077.9L1169.2 1079.6L1172.1 1081.3L1175 1083L1177.9 1084.7L1180.8 1086.4L1183.7 1088.2L1186.6 1090L1189.5 1091.8L1192.4 1093.6L1195.3 1095.4L1198.2 1097.2L1201.1 1099L1204 1100.8L1206.8 1102.7L1209.7 1104.5L1212.6 1106.3L1215.5 1108L1218.4 1109.8L1221.3 1111.6L1224.2 1113.3L1227.1 1115L1230 1116.7L1232.9 1118.4L1235.8 1120.1L1238.7 1121.7L1241.6 1123.3L1244.4 1124.9L1247.3 1126.5L1250.2 1128L1253.1 1129.5L1256 1131L1258.9 1132.4L1261.8 1133.8L1264.7 1135.2L1267.6 1136.5L1270.5 1137.8L1273.4 1139.1L1276.3 1140.3L1279.2 1141.5L1282 1142.7L1284.9 1143.8L1287.8 1144.9L1290.7 1145.9L1293.6 1147L1296.5 1148L1299.4 1148.9L1302.3 1149.8L1305.2 1150.7L1308.1 1151.6L1311 1152.4L1313.9 1153.2L1316.8 1154L1319.7 1154.7L1322.5 1155.4L1325.4 1156.1L1328.3 1156.7L1331.2 1157.3L1334.1 1157.9L1337 1158.5L1339.9 1159L1342.8 1159.5L1345.7 1160L1348.6 1160.5L1351.5 1160.9L1354.4 1161.4L1357.3 1161.8L1360.1 1162.2L1363 1162.5L1365.9 1162.9L1368.8 1163.2L1371.7 1163.5L1374.6 1163.8L1377.5 1164.1L1380.4 1164.3L1383.3 1164.6L1386.2 1164.8L1389.1 1165L1392 1165.2L1394.9 1165.4L1397.7 1165.6L1400.6 1165.7L1403.5 1165.9L1406.4 1166.1L1409.3 1166.2L1412.2 1166.3L1415.1 1166.4L1418 1166.6L1420.9 1166.7L1423.8 1166.8L1426.7 1166.9L1429.6 1166.9L1432.5 1167L1435.4 1167.1L1438.2 1167.2L1441.1 1167.2L1444 1167.3L1446.9 1167.4L1449.8 1167.4L1452.7 1167.5L1455.6 1167.5L1458.5 1167.5L1461.4 1167.6L1464.3 1167.6L1467.2 1167.6L1470.1 1167.7L1473 1167.7L1475.8 1167.7L1478.7 1167.8L1481.6 1167.8L1484.5 1167.8L1487.4 1167.8L1490.3 1167.8L1493.2 1167.8L1496.1 1167.9L1499 1167.9L1501.9 1167.9L1504.8 1167.9L1507.7 1167.9L1510.6 1167.9L1513.4 1167.9L1516.3 1167.9L1519.2 1167.9L1522.1 1167.9L1525 1167.9L1527.9 1168L1530.8 1168L1533.7 1168L1536.6 1168L1539.5 1168L1542.4 1168L1545.3 1168L1548.2 1168L1551 1168L1553.9 1168L1556.8 1168L1559.7 1168L1562.6 1168L1565.5 1168L1568.4 1168L1571.3 1168L1574.2 1168L1577.1 1168L1580 1168L1582.9 1168L1585.8 1168L1588.7 1168L1591.5 1168L1594.4 1168L1597.3 1168L1600.2 1168L1603.1 1168L1606 1168L1608.9 1168L1611.8 1168L1614.7 1168L1617.6 1168L1620.5 1168L1623.4 1168L1626.3 1168L1629.1 1168L1632 1168L1634.9 1168L1637.8 1168L1640.7 1168L1643.6 1168L1646.5 1168L1649.4 1168L1652.3 1168L1655.2 1168L1658.1 1168L1661 1168L1663.9 1168L1666.8 1168L1669.6 1168L1672.5 1168L1675.4 1168L1678.3 1168L1681.2 1168L1684.1 1168L1687 1168L1689.9 1168L1692.8 1168L1695.7 1168L1698.6 1168L1701.5 1168L1704.4 1168L1707.2 1168L1710.1 1168L1713 1168L1715.9 1168L1718.8 1168L1721.7 1168L1724.6 1168L1727.5 1168L1730.4 1168L1733.3 1168L1736.2 1168L1739.1 1168L1742 1168L1744.8 1168L1747.7 1168L1750.6 1168L1753.5 1168L1756.4 1168L1759.3 1168L1762.2 1168L1765.1 1168L1768 1168L1770.9 1168L1773.8 1168L1776.7 1168L1779.6 1168L1782.5 1168L1785.3 1168L1788.2 1168L1791.1 1168L1794 1168L1796.9 1168L1799.8 1168L1802.7 1168L1805.6 1168L1808.5 1168L1811.4 1168"/>
<path d="M220.5 1168L223.4 1168L226.3 1168L229.2 1168L232.1 1168L235 1168L237.9 1168L240.7 1168L243.6 1168L246.5 1168L249.4 1168L252.3 1168L255.2 1168L258.1 1168L261 1168L263.9 1168L266.8 1168L269.7 1168L272.6 1168L275.5 1168L278.4 1168L281.2 1168L284.1 1168L287 1168L289.9 1168L292.8 1168L295.7 1168L298.6 1168L301.5 1168L304.4 1168L307.3 1168L310.2 1168L313.1 1168L316 1168L318.8 1168L321.7 1168L324.6 1168L327.5 1168L330.4 1168L333.3 1168L336.2 1168L339.1 1168L342 1168L344.9 1168L347.8 1168L350.7 1168L353.6 1168L356.4 1168L359.3 1168L362.2 1168L365.1 1168L368 1168L370.9 1168L373.8 1168L376.7 1168L379.6 1168L382.5 1168L385.4 1168L388.3 1168L391.2 1168L394.1 1168L396.9 1168L399.8 1168L402.7 1168L405.6 1168L408.5 1168L411.4 1168L414.3 1168L417.2 1168L420.1 1168L423 1168L425.9 1168L428.8 1168L431.7 1168L434.5 1168L437.4 1168L440.3 1168L443.2 1168L446.1 1168L449 1168L451.9 1168L454.8 1168L457.7 1168L460.6 1168L463.5 1168L466.4 1168L469.3 1168L472.1 1168L475 1168L477.9 1168L480.8 1168L483.7 1168L486.6 1168L489.5 1168L492.4 1168L495.3 1168L498.2 1168L501.1 1168L504 1168L506.9 1168L509.8 1168L512.6 1168L515.5 1168L518.4 1168L521.3 1168L524.2 1168L527.1 1168L530 1168L532.9 1168L535.8 1168L538.7 1168L541.6 1168L544.5 1168L547.4 1168L550.2 1168L553.1 1168L556 1168L558.9 1168L561.8 1168L564.7 1168L567.6 1168L570.5 1168L573.4 1168L576.3 1168L579.2 1168L582.1 1168L585 1168L587.8 1168L590.7 1168L593.6 1168L596.5 1168L599.4 1168L602.3 1168L605.2 1168L608.1 1168L611 1168L613.9 1168L616.8 1168L619.7 1168L622.6 1168L625.5 1168L628.3 1168L631.2 1168L634.1 1168L637 1168L639.9 1168L642.8 1168L645.7 1168L648.6 1168L651.5 1168L654.4 1168L657.3 1168L660.2 1168L663.1 1168L665.9 1168L668.8 1168L671.7 1168L674.6 1168L677.5 1168L680.4 1168L683.3 1168L686.2 1168L689.1 1168L692 1168L694.9 1168L697.8 1168L700.7 1168L703.5 1168L706.4 1168L709.3 1168L712.2 1168L715.1 1168L718 1168L720.9 1168L723.8 1168L726.7 1168L729.6 1168L732.5 1168L735.4 1168L738.3 1168L741.1 1168L744 1168L746.9 1168L749.8 1168L752.7 1168L755.6 1168L758.5 1168L761.4 1168L764.3 1168L767.2 1168L770.1 1168L773 1168L775.9 1168L778.8 1168L781.6 1168L784.5 1168L787.4 1168L790.3 1168L793.2 1168L796.1 1168L799 1168L801.9 1167.9L804.8 1167.9L807.7 1167.9L810.6 1167.9L813.5 1167.9L816.4 1167.9L819.2 1167.9L822.1 1167.9L825 1167.9L827.9 1167.9L830.8 1167.9L833.7 1167.9L836.6 1167.8L839.5 1167.8L842.4 1167.8L845.3 1167.8L848.2 1167.8L851.1 1167.7L854 1167.7L856.9 1167.7L859.7 1167.7L862.6 1167.6L865.5 1167.6L868.4 1167.6L871.3 1167.5L874.2 1167.5L877.1 1167.5L880 1167.4L882.9 1167.4L885.8 1167.3L888.7 1167.2L891.6 1167.2L894.5 1167.1L897.3 1167L900.2 1167L903.1 1166.9L906 1166.8L908.9 1166.7L911.8 1166.6L914.7 1166.5L917.6 1166.4L920.5 1166.2L923.4 1166.1L926.3 1166L929.2 1165.8L932.1 1165.7L934.9 1165.5L937.8 1165.3L940.7 1165.1L943.6 1164.9L946.5 1164.7L949.4 1164.5L952.3 1164.2L955.2 1164L958.1 1163.7L961 1163.4L963.9 1163.1L966.8 1162.8L969.7 1162.5L972.6 1162.1L975.4 1161.8L978.3 1161.4L981.2 1161L984.1 1160.6L987 1160.1L989.9 1159.7L992.8 1159.2L995.7 1158.7L998.6 1158.1L1001.5 1157.6L1004.4 1157L1007.3 1156.4L1010.2 1155.8L1013 1155.2L1015.9 1154.5L1018.8 1153.8L1021.7 1153.1L1024.6 1152.3L1027.5 1151.6L1030.4 1150.7L1033.3 1149.9L1036.2 1149.1L1039.1 1148.2L1042 1147.3L1044.9 1146.3L1047.8 1145.4L1050.6 1144.4L1053.5 1143.4L1056.4 1142.3L1059.3 1141.3L1062.2 1140.2L1065.1 1139L1068 1137.9L1070.9 1136.7L1073.8 1135.5L1076.7 1134.3L1079.6 1133.1L1082.5 1131.8L1085.4 1130.5L1088.2 1129.2L1091.1 1127.9L1094 1126.6L1096.9 1125.2L1099.8 1123.9L1102.7 1122.5L1105.6 1121.1L1108.5 1119.7L1111.4 1118.3L1114.3 1116.9L1117.2 1115.5L1120.1 1114.1L1123 1112.6L1125.9 1111.2L1128.7 1109.8L1131.6 1108.4L1134.5 1107L1137.4 1105.6L1140.3 1104.2L1143.2 1102.9L1146.1 1101.5L1149 1100.2L1151.9 1098.8L1154.8 1097.6L1157.7 1096.3L1160.6 1095L1163.5 1093.8L1166.3 1092.6L1169.2 1091.5L1172.1 1090.4L1175 1089.3L1177.9 1088.2L1180.8 1087.2L1183.7 1086.3L1186.6 1085.4L1189.5 1084.5L1192.4 1083.7L1195.3 1082.9L1198.2 1082.2L1201.1 1081.5L1204 1080.9L1206.8 1080.3L1209.7 1079.8L1212.6 1079.4L1215.5 1079L1218.4 1078.7L1221.3 1078.4L1224.2 1078.2L1227.1 1078L1230 1077.9L1232.9 1077.9L1235.8 1077.9L1238.7 1078L1241.6 1078.2L1244.4 1078.4L1247.3 1078.7L1250.2 1079L1253.1 1079.4L1256 1079.8L1258.9 1080.3L1261.8 1080.9L1264.7 1081.5L1267.6 1082.2L1270.5 1082.9L1273.4 1083.7L1276.3 1084.5L1279.2 1085.4L1282 1086.3L1284.9 1087.2L1287.8 1088.2L1290.7 1089.3L1293.6 1090.4L1296.5 1091.5L1299.4 1092.6L1302.3 1093.8L1305.2 1095L1308.1 1096.3L1311 1097.6L1313.9 1098.8L1316.8 1100.2L1319.7 1101.5L1322.5 1102.9L1325.4 1104.2L1328.3 1105.6L1331.2 1107L1334.1 1108.4L1337 1109.8L1339.9 1111.2L1342.8 1112.6L1345.7 1114.1L1348.6 1115.5L1351.5 1116.9L1354.4 1118.3L1357.3 1119.7L1360.1 1121.1L1363 1122.5L1365.9 1123.9L1368.8 1125.2L1371.7 1126.6L1374.6 1127.9L1377.5 1129.2L1380.4 1130.5L1383.3 1131.8L1386.2 1133.1L1389.1 1134.3L1392 1135.5L1394.9 1136.7L1397.7 1137.9L1400.6 1139L1403.5 1140.2L1406.4 1141.3L1409.3 1142.3L1412.2 1143.4L1415.1 1144.4L1418 1145.4L1420.9 1146.3L1423.8 1147.3L1426.7 1148.2L1429.6 1149.1L1432.5 1149.9L1435.4 1150.7L1438.2 1151.6L1441.1 1152.3L1444 1153.1L1446.9 1153.8L1449.8 1154.5L1452.7 1155.2L1455.6 1155.8L1458.5 1156.4L1461.4 1157L1464.3 1157.6L1467.2 1158.1L1470.1 1158.7L1473 1159.2L1475.8 1159.7L1478.7 1160.1L1481.6 1160.6L1484.5 1161L1487.4 1161.4L1490.3 1161.8L1493.2 1162.1L1496.1 1162.5L1499 1162.8L1501.9 1163.1L1504.8 1163.4L1507.7 1163.7L1510.6 1164L1513.4 1164.2L1516.3 1164.5L1519.2 1164.7L1522.1 1164.9L1525 1165.1L1527.9 1165.3L1530.8 1165.5L1533.7 1165.7L1536.6 1165.8L1539.5 1166L1542.4 1166.1L1545.3 1166.2L1548.2 1166.4L1551 1166.5L1553.9 1166.6L1556.8 1166.7L1559.7 1166.8L1562.6 1166.9L1565.5 1167L1568.4 1167L1571.3 1167.1L1574.2 1167.2L1577.1 1167.2L1580 1167.3L1582.9 1167.4L1585.8 1167.4L1588.7 1167.5L1591.5 1167.5L1594.4 1167.5L1597.3 1167.6L1600.2 1167.6L1603.1 1167.6L1606 1167.7L1608.9 1167.7L1611.8 1167.7L1614.7 1167.7L1617.6 1167.8L1620.5 1167.8L1623.4 1167.8L1626.3 1167.8L1629.1 1167.8L1632 1167.9L1634.9 1167.9L1637.8 1167.9L1640.7 1167.9L1643.6 1167.9L1646.5 1167.9L1649.4 1167.9L1652.3 1167.9L1655.2 1167.9L1658.1 1167.9L1661 1167.9L1663.9 1167.9L1666.8 1168L1669.6 1168L1672.5 1168L1675.4 1168L1678.3 1168L1681.2 1168L1684.1 1168L1687 1168L1689.9 1168L1692.8 1168L1695.7 1168L1698.6 1168L1701.5 1168L1704.4 1168L1707.2 1168L1710.1 1168L1713 1168L1715.9 1168L1718.8 1168L1721.7 1168L1724.6 1168L1727.5 1168L1730.4 1168L1733.3 1168L1736.2 1168L1739.1 1168L1742 1168L1744.8 1168L1747.7 1168L1750.6 1168L1753.5 1168L1756.4 1168L1759.3 1168L1762.2 1168L1765.1 1168L1768 1168L1770.9 1168L1773.8 1168L1776.7 1168L1779.6 1168L1782.5 1168L1785.3 1168L1788.2 1168L1791.1 1168L1794 1168L1796.9 1168L1799.8 1168L1802.7 1168L1805.6 1168L1808.5 1168L1811.4 1168"/>
<path d="M220.5 1168L223.4 1168L226.3 1168L229.2 1168L232.1 1168L235 1168L237.9 1168L240.7 1168L243.6 1168L246.5 1168L249.4 1168L252.3 1168L255.2 1168L258.1 1168L261 1168L263.9 1168L266.8 1168L269.7 1168L272.6 1168L275.5 1168L278.4 1168L281.2 1168L284.1 1168L287 1168L289.9 1168L292.8 1168L295.7 1168L298.6 1168L301.5 1168L304.4 1168L307.3 1168L310.2 1168L313.1 1168L316 1168L318.8 1168L321.7 1168L324.6 1168L327.5 1168L330.4 1168L333.3 1168L336.2 1168L339.1 1168L342 1168L344.9 1168L347.8 1168L350.7 1168L353.6 1168L356.4 1168L359.3 1168L362.2 1168L365.1 1168L368 1168L370.9 1168L373.8 1168L376.7 1168L379.6 1168L382.5 1168L385.4 1168L388.3 1168L391.2 1168L394.1 1168L396.9 1168L399.8 1168L402.7 1168L405.6 1168L408.5 1168L411.4 1168L414.3 1168L417.2 1168L420.1 1168L423 1168L425.9 1168L428.8 1168L431.7 1168L434.5 1168L437.4 1168L440.3 1168L443.2 1168L446.1 1168L449 1168L451.9 1168L454.8 1168L457.7 1168L460.6 1168L463.5 1168L466.4 1168L469.3 1168L472.1 1168L475 1168L477.9 1168L480.8 1168L483.7 1168L486.6 1168L489.5 1168L492.4 1168L495.3 1168L498.2 1168L501.1 1168L504 1168L506.9 1168L509.8 1168L512.6 1168L515.5 1168L518.4 1168L521.3 1168L524.2 1168L527.1 1168L530 1168L532.9 1168L535.8 1168L538.7 1168L541.6 1168L544.5 1168L547.4 1168L550.2 1168L553.1 1168L556 1168L558.9 1168L561.8 1168L564.7 1168L567.6 1168L570.5 1168L573.4 1168L576.3 1168L579.2 1168L582.1 1168L585 1168L587.8 1168L590.7 1168L593.6 1168L596.5 1168L599.4 1168L602.3 1168L605.2 1168L608.1 1168L611 1168L613.9 1168L616.8 1168L619.7 1168L622.6 1168L625.5 1168L628.3 1168L631.2 1168L634.1 1168L637 1168L639.9 1168L642.8 1168L645.7 1168L648.6 1168L651.5 1168L654.4 1168L657.3 1168L660.2 1168L663.1 1168L665.9 1168L668.8 1168L671.7 1168L674.6 1168L677.5 1168L680.4 1168L683.3 1168L686.2 1168L689.1 1168L692 1168L694.9 1168L697.8 1168L700.7 1168L703.5 1168L706.4 1168L709.3 1168L712.2 1168L715.1 1168L718 1168L720.9 1168L723.8 1168L726.7 1168L729.6 1168L732.5 1168L735.4 1168L738.3 1168L741.1 1168L744 1168L746.9 1168L749.8 1168L752.7 1168L755.6 1168L758.5 1168L761.4 1168L764.3 1168L767.2 1168L770.1 1168L773 1168L775.9 1168L778.8 1168L781.6 1168L784.5 1168L787.4 1168L790.3 1168L793.2 1168L796.1 1168L799 1168L801.9 1168L804.8 1168L807.7 1168L810.6 1168L813.5 1168L816.4 1168L819.2 1168L822.1 1168L825 1168L827.9 1168L830.8 1168L833.7 1168L836.6 1168L839.5 1168L842.4 1168L845.3 1168L848.2 1168L851.1 1168L854 1168L856.9 1168L859.7 1168L862.6 1168L865.5 1168L868.4 1168L871.3 1168L874.2 1168L877.1 1168L880 1168L882.9 1168L885.8 1168L888.7 1168L891.6 1168L894.5 1168L897.3 1168L900.2 1168L903.1 1168L906 1168L908.9 1168L911.8 1168L914.7 1168L917.6 1168L920.5 1168L923.4 1168L926.3 1168L929.2 1168L932.1 1168L934.9 1168L937.8 1168L940.7 1168L943.6 1168L946.5 1168L949.4 1168L952.3 1168L955.2 1167.9L958.1 1167.9L961 1167.9L963.9 1167.9L966.8 1167.9L969.7 1167.9L972.6 1167.9L975.4 1167.9L978.3 1167.9L981.2 1167.9L984.1 1167.9L987 1167.8L989.9 1167.8L992.8 1167.8L995.7 1167.8L998.6 1167.8L1001.5 1167.8L1004.4 1167.7L1007.3 1167.7L1010.2 1167.7L1013 1167.7L1015.9 1167.6L1018.8 1167.6L1021.7 1167.6L1024.6 1167.5L1027.5 1167.5L1030.4 1167.5L1033.3 1167.4L1036.2 1167.4L1039.1 1167.3L1042 1167.2L1044.9 1167.2L1047.8 1167.1L1050.6 1167.1L1053.5 1167L1056.4 1166.9L1059.3 1166.8L1062.2 1166.7L1065.1 1166.6L1068 1166.5L1070.9 1166.4L1073.8 1166.3L1076.7 1166.2L1079.6 1166L1082.5 1165.9L1085.4 1165.7L1088.2 1165.6L1091.1 1165.4L1094 1165.2L1096.9 1165.1L1099.8 1164.9L1102.7 1164.6L1105.6 1164.4L1108.5 1164.2L1111.4 1163.9L1114.3 1163.7L1117.2 1163.4L1120.1 1163.1L1123 1162.8L1125.9 1162.5L1128.7 1162.2L1131.6 1161.8L1134.5 1161.5L1137.4 1161.1L1140.3 1160.7L1143.2 1160.3L1146.1 1159.9L1149 1159.4L1151.9 1159L1154.8 1158.5L1157.7 1158L1160.6 1157.4L1163.5 1156.9L1166.3 1156.3L1169.2 1155.7L1172.1 1155.1L1175 1154.5L1177.9 1153.9L1180.8 1153.2L1183.7 1152.5L1186.6 1151.8L1189.5 1151.1L1192.4 1150.3L1195.3 1149.5L1198.2 1148.7L1201.1 1147.9L1204 1147.1L1206.8 1146.2L1209.7 1145.4L1212.6 1144.5L1215.5 1143.5L1218.4 1142.6L1221.3 1141.7L1224.2 1140.7L1227.1 1139.7L1230 1138.7L1232.9 1137.7L1235.8 1136.7L1238.7 1135.6L1241.6 1134.6L1244.4 1133.5L1247.3 1132.4L1250.2 1131.3L1253.1 1130.2L1256 1129.1L1258.9 1128L1261.8 1126.9L1264.7 1125.8L1267.6 1124.7L1270.5 1123.6L1273.4 1122.5L1276.3 1121.4L1279.2 1120.3L1282 1119.2L1284.9 1118.1L1287.8 1117.1L1290.7 1116L1293.6 1115L1296.5 1113.9L1299.4 1112.9L1302.3 1111.9L1305.2 1110.9L1308.1 1110L1311 1109.1L1313.9 1108.2L1316.8 1107.3L1319.7 1106.4L1322.5 1105.6L1325.4 1104.8L1328.3 1104.1L1331.2 1103.4L1334.1 1102.7L1337 1102.1L1339.9 1101.5L1342.8 1100.9L1345.7 1100.4L1348.6 1099.9L1351.5 1099.5L1354.4 1099.1L1357.3 1098.7L1360.1 1098.4L1363 1098.1L1365.9 1097.9L1368.8 1097.8L1371.7 1097.6L1374.6 1097.6L1377.5 1097.6L1380.4 1097.6L1383.3 1097.6L1386.2 1097.8L1389.1 1097.9L1392 1098.1L1394.9 1098.4L1397.7 1098.7L1400.6 1099.1L1403.5 1099.5L1406.4 1099.9L1409.3 1100.4L1412.2 1100.9L1415.1 1101.5L1418 1102.1L1420.9 1102.7L1423.8 1103.4L1426.7 1104.1L1429.6 1104.8L1432.5 1105.6L1435.4 1106.4L1438.2 1107.3L1441.1 1108.2L1444 1109.1L1446.9 1110L1449.8 1110.9L1452.7 1111.9L1455.6 1112.9L1458.5 1113.9L1461.4 1115L1464.3 1116L1467.2 1117.1L1470.1 1118.1L1473 1119.2L1475.8 1120.3L1478.7 1121.4L1481.6 1122.5L1484.5 1123.6L1487.4 1124.7L1490.3 1125.8L1493.2 1126.9L1496.1 1128L1499 1129.1L1501.9 1130.2L1504.8 1131.3L1507.7 1132.4L1510.6 1133.5L1513.4 1134.6L1516.3 1135.6L1519.2 1136.7L1522.1 1137.7L1525 1138.7L1527.9 1139.7L1530.8 1140.7L1533.7 1141.7L1536.6 1142.6L1539.5 1143.5L1542.4 1144.5L1545.3 1145.4L1548.2 1146.2L1551 1147.1L1553.9 1147.9L1556.8 1148.7L1559.7 1149.5L1562.6 1150.3L1565.5 1151.1L1568.4 1151.8L1571.3 1152.5L1574.2 1153.2L1577.1 1153.9L1580 1154.5L1582.9 1155.1L1585.8 1155.7L1588.7 1156.3L1591.5 1156.9L1594.4 1157.4L1597.3 1158L1600.2 1158.5L1603.1 1159L1606 1159.4L1608.9 1159.9L1611.8 1160.3L1614.7 1160.7L1617.6 1161.1L1620.5 1161.5L1623.4 1161.8L1626.3 1162.2L1629.1 1162.5L1632 1162.8L1634.9 1163.1L1637.8 1163.4L1640.7 1163.7L1643.6 1163.9L1646.5 1164.2L1649.4 1164.4L1652.3 1164.6L1655.2 1164.9L1658.1 1165.1L1661 1165.2L1663.9 1165.4L1666.8 1165.6L1669.6 1165.7L1672.5 1165.9L1675.4 1166L1678.3 1166.2L1681.2 1166.3L1684.1 1166.4L1687 1166.5L1689.9 1166.6L1692.8 1166.7L1695.7 1166.8L1698.6 1166.9L1701.5 1167L1704.4 1167.1L1707.2 1167.1L1710.1 1167.2L1713 1167.2L1715.9 1167.3L1718.8 1167.4L1721.7 1167.4L1724.6 1167.5L1727.5 1167.5L1730.4 1167.5L1733.3 1167.6L1736.2 1167.6L1739.1 1167.6L1742 1167.7L1744.8 1167.7L1747.7 1167.7L1750.6 1167.7L1753.5 1167.8L1756.4 1167.8L1759.3 1167.8L1762.2 1167.8L1765.1 1167.8L1768 1167.8L1770.9 1167.9L1773.8 1167.9L1776.7 1167.9L1779.6 1167.9L1782.5 1167.9L1785.3 1167.9L1788.2 1167.9L1791.1 1167.9L1794 1167.9L1796.9 1167.9L1799.8 1167.9L1802.7 1168L1805.6 1168L1808.5 1168L1811.4 1168"/>
<path d="M220.5 1168L223.4 1168L226.3 1168L229.2 1168L232.1 1168L235 1168L237.9 1168L240.7 1168L243.6 1168L246.5 1168L249.4 1168L252.3 1168L255.2 1168L258.1 1168L261 1168L263.9 1168L266.8 1168L269.7 1168L272.6 1168L275.5 1168L278.4 1168L281.2 1168L284.1 1168L287 1168L289.9 1168L292.8 1168L295.7 1168L298.6 1168L301.5 1168L304.4 1168L307.3 1168L310.2 1168L313.1 1168L316 1168L318.8 1168L321.7 1168L324.6 1168L327.5 1168L330.4 1168L333.3 1168L336.2 1168L339.1 1168L342 1168L344.9 1168L347.8 1168L350.7 1168L353.6 1168L356.4 1168L359.3 1168L362.2 1168L365.1 1168L368 1168L370.9 1168L373.8 1168L376.7 1168L379.6 1168L382.5 1168L385.4 1168L388.3 1168L391.2 1168L394.1 1168L396.9 1168L399.8 1168L402.7 1168L405.6 1168L408.5 1168L411.4 1168L414.3 1168L417.2 1168L420.1 1168L423 1168L425.9 1168L428.8 1168L431.7 1168L434.5 1168L437.4 1168L440.3 1168L443.2 1168L446.1 1168L449 1168L451.9 1168L454.8 1168L457.7 1168L460.6 1168L463.5 1168L466.4 1168L469.3 1168L472.1 1168L475 1168L477.9 1168L480.8 1168L483.7 1168L486.6 1168L489.5 1168L492.4 1168L495.3 1168L498.2 1168L501.1 1168L504 1168L506.9 1168L509.8 1168L512.6 1168L515.5 1168L518.4 1168L521.3 1168L524.2 1168L527.1 1168L530 1168L532.9 1168L535.8 1168L538.7 1168L541.6 1168L544.5 1168L547.4 1168L550.2 1168L553.1 1168L556 1168L558.9 1168L561.8 1168L564.7 1168L567.6 1168L570.5 1168L573.4 1168L576.3 1168L579.2 1168L582.1 1168L585 1168L587.8 1168L590.7 1168L593.6 1168L596.5 1168L599.4 1168L602.3 1168L605.2 1168L608.1 1168L611 1168L613.9 1168L616.8 1168L619.7 1168L622.6 1168L625.5 1168L628.3 1168L631.2 1168L634.1 1168L637 1168L639.9 1168L642.8 1168L645.7 1168L648.6 1168L651.5 1168L654.4 1168L657.3 1168L660.2 1168L663.1 1168L665.9 1168L668.8 1168L671.7 1168L674.6 1168L677.5 1168L680.4 1168L683.3 1168L686.2 1168L689.1 1168L692 1168L694.9 1168L697.8 1168L700.7 1168L703.5 1168L706.4 1168L709.3 1168L712.2 1168L715.1 1168L718 1168L720.9 1168L723.8 1168L726.7 1168L729.6 1168L732.5 1168L735.4 1168L738.3 1168L741.1 1168L744 1168L746.9 1168L749.8 1168L752.7 1168L755.6 1168L758.5 1168L761.4 1168L764.3 1168L767.2 1168L770.1 1168L773 1168L775.9 1168L778.8 1168L781.6 1168L784.5 1168L787.4 1168L790.3 1168L793.2 1168L796.1 1168L799 1168L801.9 1168L804.8 1168L807.7 1168L810.6 1168L813.5 1168L816.4 1168L819.2 1168L822.1 1168L825 1168L827.9 1168L830.8 1168L833.7 1168L836.6 1168L839.5 1168L842.4 1168L845.3 1168L848.2 1168L851.1 1168L854 1168L856.9 1168L859.7 1168L862.6 1168L865.5 1168L868.4 1168L871.3 1168L874.2 1168L877.1 1168L880 1168L882.9 1168L885.8 1168L888.7 1168L891.6 1168L894.5 1168L897.3 1168L900.2 1168L903.1 1168L906 1168L908.9 1168L911.8 1168L914.7 1168L917.6 1168L920.5 1168L923.4 1168L926.3 1168L929.2 1168L932.1 1168L934.9 1168L937.8 1168L940.7 1168L943.6 1168L946.5 1168L949.4 1168L952.3 1168L955.2 1168L958.1 1168L961 1168L963.9 1168L966.8 1168L969.7 1168L972.6 1168L975.4 1168L978.3 1168L981.2 1168L984.1 1168L987 1168L989.9 1168L992.8 1168L995.7 1168L998.6 1168L1001.5 1168L1004.4 1168L1007.3 1168L1010.2 1168L1013 1168L1015.9 1168L1018.8 1168L1021.7 1168L1024.6 1168L1027.5 1168L1030.4 1168L1033.3 1168L1036.2 1168L1039.1 1168L1042 1168L1044.9 1168L1047.8 1168L1050.6 1168L1053.5 1168L1056.4 1168L1059.3 1168L1062.2 1168L1065.1 1168L1068 1168L1070.9 1168L1073.8 1168L1076.7 1168L1079.6 1168L1082.5 1168L1085.4 1168L1088.2 1168L1091.1 1168L1094 1168L1096.9 1168L1099.8 1168L1102.7 1168L1105.6 1167.9L1108.5 1167.9L1111.4 1167.9L1114.3 1167.9L1117.2 1167.9L1120.1 1167.9L1123 1167.9L1125.9 1167.9L1128.7 1167.9L1131.6 1167.9L1134.5 1167.9L1137.4 1167.9L1140.3 1167.8L1143.2 1167.8L1146.1 1167.8L1149 1167.8L1151.9 1167.8L1154.8 1167.8L1157.7 1167.7L1160.6 1167.7L1163.5 1167.7L1166.3 1167.7L1169.2 1167.6L1172.1 1167.6L1175 1167.6L1177.9 1167.5L1180.8 1167.5L1183.7 1167.5L1186.6 1167.4L1189.5 1167.4L1192.4 1167.3L1195.3 1167.3L1198.2 1167.2L1201.1 1167.1L1204 1167.1L1206.8 1167L1209.7 1166.9L1212.6 1166.8L1215.5 1166.8L1218.4 1166.7L1221.3 1166.6L1224.2 1166.5L1227.1 1166.4L1230 1166.2L1232.9 1166.1L1235.8 1166L1238.7 1165.8L1241.6 1165.7L1244.4 1165.5L1247.3 1165.4L1250.2 1165.2L1253.1 1165L1256 1164.8L1258.9 1164.6L1261.8 1164.4L1264.7 1164.2L1267.6 1164L1270.5 1163.7L1273.4 1163.5L1276.3 1163.2L1279.2 1162.9L1282 1162.6L1284.9 1162.3L1287.8 1162L1290.7 1161.6L1293.6 1161.3L1296.5 1160.9L1299.4 1160.5L1302.3 1160.1L1305.2 1159.7L1308.1 1159.3L1311 1158.9L1313.9 1158.4L1316.8 1157.9L1319.7 1157.5L1322.5 1156.9L1325.4 1156.4L1328.3 1155.9L1331.2 1155.3L1334.1 1154.8L1337 1154.2L1339.9 1153.6L1342.8 1152.9L1345.7 1152.3L1348.6 1151.6L1351.5 1151L1354.4 1150.3L1357.3 1149.6L1360.1 1148.9L1363 1148.1L1365.9 1147.4L1368.8 1146.6L1371.7 1145.9L1374.6 1145.1L1377.5 1144.3L1380.4 1143.5L1383.3 1142.7L1386.2 1141.9L1389.1 1141L1392 1140.2L1394.9 1139.3L1397.7 1138.5L1400.6 1137.6L1403.5 1136.8L1406.4 1135.9L1409.3 1135L1412.2 1134.2L1415.1 1133.3L1418 1132.4L1420.9 1131.6L1423.8 1130.7L1426.7 1129.8L1429.6 1129L1432.5 1128.2L1435.4 1127.3L1438.2 1126.5L1441.1 1125.7L1444 1124.9L1446.9 1124.1L1449.8 1123.4L1452.7 1122.6L1455.6 1121.9L1458.5 1121.2L1461.4 1120.5L1464.3 1119.9L1467.2 1119.2L1470.1 1118.6L1473 1118L1475.8 1117.5L1478.7 1116.9L1481.6 1116.4L1484.5 1116L1487.4 1115.5L1490.3 1115.1L1493.2 1114.7L1496.1 1114.4L1499 1114.1L1501.9 1113.8L1504.8 1113.6L1507.7 1113.4L1510.6 1113.2L1513.4 1113.1L1516.3 1113L1519.2 1112.9L1522.1 1112.9L1525 1112.9L1527.9 1113L1530.8 1113.1L1533.7 1113.2L1536.6 1113.4L1539.5 1113.6L1542.4 1113.8L1545.3 1114.1L1548.2 1114.4L1551 1114.7L1553.9 1115.1L1556.8 1115.5L1559.7 1116L1562.6 1116.4L1565.5 1116.9L1568.4 1117.5L1571.3 1118L1574.2 1118.6L1577.1 1119.2L1580 1119.9L1582.9 1120.5L1585.8 1121.2L1588.7 1121.9L1591.5 1122.6L1594.4 1123.4L1597.3 1124.1L1600.2 1124.9L1603.1 1125.7L1606 1126.5L1608.9 1127.3L1611.8 1128.2L1614.7 1129L1617.6 1129.8L1620.5 1130.7L1623.4 1131.6L1626.3 1132.4L1629.1 1133.3L1632 1134.2L1634.9 1135L1637.8 1135.9L1640.7 1136.8L1643.6 1137.6L1646.5 1138.5L1649.4 1139.3L1652.3 1140.2L1655.2 1141L1658.1 1141.9L1661 1142.7L1663.9 1143.5L1666.8 1144.3L1669.6 1145.1L1672.5 1145.9L1675.4 1146.6L1678.3 1147.4L1681.2 1148.1L1684.1 1148.9L1687 1149.6L1689.9 1150.3L1692.8 1151L1695.7 1151.6L1698.6 1152.3L1701.5 1152.9L1704.4 1153.6L1707.2 1154.2L1710.1 1154.8L1713 1155.3L1715.9 1155.9L1718.8 1156.4L1721.7 1156.9L1724.6 1157.5L1727.5 1157.9L1730.4 1158.4L1733.3 1158.9L1736.2 1159.3L1739.1 1159.7L1742 1160.1L1744.8 1160.5L1747.7 1160.9L1750.6 1161.3L1753.5 1161.6L1756.4 1162L1759.3 1162.3L1762.2 1162.6L1765.1 1162.9L1768 1163.2L1770.9 1163.5L1773.8 1163.7L1776.7 1164L1779.6 1164.2L1782.5 1164.4L1785.3 1164.6L1788.2 1164.8L1791.1 1165L1794 1165.2L1796.9 1165.4L1799.8 1165.5L1802.7 1165.7L1805.6 1165.8L1808.5 1166L1811.4 1166.1"/>
<path d="M220.5 1168L223.4 1168L226.3 1168L229.2 1168L232.1 1168L235 1168L237.9 1168L240.7 1168L243.6 1168L246.5 1168L249.4 1168L252.3 1168L255.2 1168L258.1 1168L261 1168L263.9 1168L266.8 1168L269.7 1168L272.6 1168L275.5 1168L278.4 1168L281.2 1168L284.1 1168L287 1168L289.9 1168L292.8 1168L295.7 1168L298.6 1168L301.5 1168L304.4 1168L307.3 1168L310.2 1168L313.1 1168L316 1168L318.8 1168L321.7 1168L324.6 1168L327.5 1168L330.4 1168L333.3 1168L336.2 1168L339.1 1168L342 1168L344.9 1168L347.8 1168L350.7 1168L353.6 1168L356.4 1168L359.3 1168L362.2 1168L365.1 1168L368 1168L370.9 1168L373.8 1168L376.7 1168L379.6 1168L382.5 1168L385.4 1168L388.3 1168L391.2 1168L394.1 1168L396.9 1168L399.8 1168L402.7 1168L405.6 1168L408.5 1168L411.4 1168L414.3 1168L417.2 1168L420.1 1168L423 1168L425.9 1168L428.8 1168L431.7 1168L434.5 1168L437.4 1168L440.3 1168L443.2 1168L446.1 1168L449 1168L451.9 1168L454.8 1168L457.7 1168L460.6 1168L463.5 1168L466.4 1168L469.3 1168L472.1 1168L475 1168L477.9 1168L480.8 1168L483.7 1168L486.6 1168L489.5 1168L492.4 1168L495.3 1168L498.2 1168L501.1 1168L504 1168L506.9 1168L509.8 1168L512.6 1168L515.5 1168L518.4 1168L521.3 1168L524.2 1168L527.1 1168L530 1168L532.9 1168L535.8 1168L538.7 1168L541.6 1168L544.5 1168L547.4 1168L550.2 1168L553.1 1168L556 1168L558.9 1168L561.8 1168L564.7 1168L567.6 1168L570.5 1168L573.4 1168L576.3 1168L579.2 1168L582.1 1168L585 1168L587.8 1168L590.7 1168L593.6 1168L596.5 1168L599.4 1168L602.3 1168L605.2 1168L608.1 1168L611 1168L613.9 1168L616.8 1168L619.7 1168L622.6 1168L625.5 1168L628.3 1168L631.2 1168L634.1 1168L637 1168L639.9 1168L642.8 1168L645.7 1168L648.6 1168L651.5 1168L654.4 1168L657.3 1168L660.2 1168L663.1 1168L665.9 1168L668.8 1168L671.7 1168L674.6 1168L677.5 1168L680.4 1168L683.3 1168L686.2 1168L689.1 1168L692 1168L694.9 1168L697.8 1168L700.7 1168L703.5 1168L706.4 1168L709.3 1168L712.2 1168L715.1 1168L718 1168L720.9 1168L723.8 1168L726.7 1168L729.6 1168L732.5 1168L735.4 1168L738.3 1168L741.1 1168L744 1168L746.9 1168L749.8 1168L752.7 1168L755.6 1168L758.5 1168L761.4 1168L764.3 1168L767.2 1168L770.1 1168L773 1168L775.9 1168L778.8 1168L781.6 1168L784.5 1168L787.4 1168L790.3 1168L793.2 1168L796.1 1168L799 1168L801.9 1168L804.8 1168L807.7 1168L810.6 1168L813.5 1168L816.4 1168L819.2 1168L822.1 1168L825 1168L827.9 1168L830.8 1168L833.7 1168L836.6 1168L839.5 1168L842.4 1168L845.3 1168L848.2 1168L851.1 1168L854 1168L856.9 1168L859.7 1168L862.6 1168L865.5 1168L868.4 1168L871.3 1168L874.2 1168L877.1 1168L880 1168L882.9 1168L885.8 1168L888.7 1168L891.6 1168L894.5 1168L897.3 1168L900.2 1168L903.1 1168L906 1168L908.9 1168L911.8 1168L914.7 1168L917.6 1168L920.5 1168L923.4 1168L926.3 1168L929.2 1168L932.1 1168L934.9 1168L937.8 1168L940.7 1168L943.6 1168L946.5 1168L949.4 1168L952.3 1168L955.2 1168L958.1 1168L961 1168L963.9 1168L966.8 1168L969.7 1168L972.6 1168L975.4 1168L978.3 1168L981.2 1168L984.1 1168L987 1168L989.9 1168L992.8 1168L995.7 1168L998.6 1168L1001.5 1168L1004.4 1168L1007.3 1168L1010.2 1168L1013 1168L1015.9 1168L1018.8 1168L1021.7 1168L1024.6 1168L1027.5 1168L1030.4 1168L1033.3 1168L1036.2 1168L1039.1 1168L1042 1168L1044.9 1168L1047.8 1168L1050.6 1168L1053.5 1168L1056.4 1168L1059.3 1168L1062.2 1168L1065.1 1168L1068 1168L1070.9 1168L1073.8 1168L1076.7 1168L1079.6 1168L1082.5 1168L1085.4 1168L1088.2 1168L1091.1 1168L1094 1168L1096.9 1168L1099.8 1168L1102.7 1168L1105.6 1168L1108.5 1168L1111.4 1168L1114.3 1168L1117.2 1168L1120.1 1168L1123 1168L1125.9 1168L1128.7 1168L1131.6 1168L1134.5 1168L1137.4 1168L1140.3 1168L1143.2 1168L1146.1 1168L1149 1168L1151.9 1168L1154.8 1168L1157.7 1168L1160.6 1168L1163.5 1168L1166.3 1168L1169.2 1168L1172.1 1168L1175 1168L1177.9 1168L1180.8 1168L1183.7 1168L1186.6 1168L1189.5 1168L1192.4 1168L1195.3 1168L1198.2 1168L1201.1 1168L1204 1168L1206.8 1168L1209.7 1168L1212.6 1168L1215.5 1168L1218.4 1168L1221.3 1168L1224.2 1168L1227.1 1168L1230 1168L1232.9 1168L1235.8 1168L1238.7 1168L1241.6 1168L1244.4 1168L1247.3 1168L1250.2 1168L1253.1 1168L1256 1168L1258.9 1167.9L1261.8 1167.9L1264.7 1167.9L1267.6 1167.9L1270.5 1167.9L1273.4 1167.9L1276.3 1167.9L1279.2 1167.9L1282 1167.9L1284.9 1167.9L1287.8 1167.9L1290.7 1167.9L1293.6 1167.8L1296.5 1167.8L1299.4 1167.8L1302.3 1167.8L1305.2 1167.8L1308.1 1167.8L1311 1167.7L1313.9 1167.7L1316.8 1167.7L1319.7 1167.7L1322.5 1167.6L1325.4 1167.6L1328.3 1167.6L1331.2 1167.5L1334.1 1167.5L1337 1167.5L1339.9 1167.4L1342.8 1167.4L1345.7 1167.3L1348.6 1167.3L1351.5 1167.2L1354.4 1167.2L1357.3 1167.1L1360.1 1167L1363 1167L1365.9 1166.9L1368.8 1166.8L1371.7 1166.7L1374.6 1166.6L1377.5 1166.5L1380.4 1166.4L1383.3 1166.3L1386.2 1166.2L1389.1 1166.1L1392 1165.9L1394.9 1165.8L1397.7 1165.7L1400.6 1165.5L1403.5 1165.4L1406.4 1165.2L1409.3 1165L1412.2 1164.8L1415.1 1164.6L1418 1164.4L1420.9 1164.2L1423.8 1164L1426.7 1163.8L1429.6 1163.5L1432.5 1163.3L1435.4 1163L1438.2 1162.8L1441.1 1162.5L1444 1162.2L1446.9 1161.9L1449.8 1161.5L1452.7 1161.2L1455.6 1160.9L1458.5 1160.5L1461.4 1160.1L1464.3 1159.8L1467.2 1159.4L1470.1 1158.9L1473 1158.5L1475.8 1158.1L1478.7 1157.6L1481.6 1157.2L1484.5 1156.7L1487.4 1156.2L1490.3 1155.7L1493.2 1155.2L1496.1 1154.7L1499 1154.1L1501.9 1153.6L1504.8 1153L1507.7 1152.5L1510.6 1151.9L1513.4 1151.3L1516.3 1150.7L1519.2 1150.1L1522.1 1149.5L1525 1148.8L1527.9 1148.2L1530.8 1147.6L1533.7 1146.9L1536.6 1146.2L1539.5 1145.6L1542.4 1144.9L1545.3 1144.2L1548.2 1143.6L1551 1142.9L1553.9 1142.2L1556.8 1141.5L1559.7 1140.9L1562.6 1140.2L1565.5 1139.5L1568.4 1138.8L1571.3 1138.2L1574.2 1137.5L1577.1 1136.8L1580 1136.2L1582.9 1135.6L1585.8 1134.9L1588.7 1134.3L1591.5 1133.7L1594.4 1133.1L1597.3 1132.5L1600.2 1132L1603.1 1131.4L1606 1130.9L1608.9 1130.4L1611.8 1129.9L1614.7 1129.4L1617.6 1128.9L1620.5 1128.5L1623.4 1128.1L1626.3 1127.7L1629.1 1127.3L1632 1127L1634.9 1126.6L1637.8 1126.3L1640.7 1126.1L1643.6 1125.8L1646.5 1125.6L1649.4 1125.4L1652.3 1125.3L1655.2 1125.2L1658.1 1125L1661 1125L1663.9 1124.9L1666.8 1124.9L1669.6 1124.9L1672.5 1125L1675.4 1125L1678.3 1125.2L1681.2 1125.3L1684.1 1125.4L1687 1125.6L1689.9 1125.8L1692.8 1126.1L1695.7 1126.3L1698.6 1126.6L1701.5 1127L1704.4 1127.3L1707.2 1127.7L1710.1 1128.1L1713 1128.5L1715.9 1128.9L1718.8 1129.4L1721.7 1129.9L1724.6 1130.4L1727.5 1130.9L1730.4 1131.4L1733.3 1132L1736.2 1132.5L1739.1 1133.1L1742 1133.7L1744.8 1134.3L1747.7 1134.9L1750.6 1135.6L1753.5 1136.2L1756.4 1136.8L1759.3 1137.5L1762.2 1138.2L1765.1 1138.8L1768 1139.5L1770.9 1140.2L1773.8 1140.9L1776.7 1141.5L1779.6 1142.2L1782.5 1142.9L1785.3 1143.6L1788.2 1144.2L1791.1 1144.9L1794 1145.6L1796.9 1146.2L1799.8 1146.9L1802.7 1147.6L1805.6 1148.2L1808.5 1148.8L1811.4 1149.5"/>
<path d="M220.5 1168L223.4 1168L226.3 1168L229.2 1168L232.1 1168L235 1168L237.9 1168L240.7 1168L243.6 1168L246.5 1168L249.4 1168L252.3 1168L255.2 1168L258.1 1168L261 1168L263.9 1168L266.8 1168L269.7 1168L272.6 1168L275.5 1168L278.4 1168L281.2 1168L284.1 1168L287 1168L289.9 1168L292.8 1168L295.7 1168L298.6 1168L301.5 1168L304.4 1168L307.3 1168L310.2 1168L313.1 1168L316 1168L318.8 1168L321.7 1168L324.6 1168L327.5 1168L330.4 1168L333.3 1168L336.2 1168L339.1 1168L342 1168L344.9 1168L347.8 1168L350.7 1168L353.6 1168L356.4 1168L359.3 1168L362.2 1168L365.1 1168L368 1168L370.9 1168L373.8 1168L376.7 1168L379.6 1168L382.5 1168L385.4 1168L388.3 1168L391.2 1168L394.1 1168L396.9 1168L399.8 1168L402.7 1168L405.6 1168L408.5 1168L411.4 1168L414.3 1168L417.2 1168L420.1 1168L423 1168L425.9 1168L428.8 1168L431.7 1168L434.5 1168L437.4 1168L440.3 1168L443.2 1168L446.1 1168L449 1168L451.9 1168L454.8 1168L457.7 1168L460.6 1168L463.5 1168L466.4 1168L469.3 1168L472.1 1168L475 1168L477.9 1168L480.8 1168L483.7 1168L486.6 1168L489.5 1168L492.4 1168L495.3 1168L498.2 1168L501.1 1168L504 1168L506.9 1168L509.8 1168L512.6 1168L515.5 1168L518.4 1168L521.3 1168L524.2 1168L527.1 1168L530 1168L532.9 1168L535.8 1168L538.7 1168L541.6 1168L544.5 1168L547.4 1168L550.2 1168L553.1 1168L556 1168L558.9 1168L561.8 1168L564.7 1168L567.6 1168L570.5 1168L573.4 1168L576.3 1168L579.2 1168L582.1 1168L585 1168L587.8 1168L590.7 1168L593.6 1168L596.5 1168L599.4 1168L602.3 1168L605.2 1168L608.1 1168L611 1168L613.9 1168L616.8 1168L619.7 1168L622.6 1168L625.5 1168L628.3 1168L631.2 1168L634.1 1168L637 1168L639.9 1168L642.8 1168L645.7 1168L648.6 1168L651.5 1168L654.4 1168L657.3 1168L660.2 1168L663.1 1168L665.9 1168L668.8 1168L671.7 1168L674.6 1168L677.5 1168L680.4 1168L683.3 1168L686.2 1168L689.1 1168L692 1168L694.9 1168L697.8 1168L700.7 1168L703.5 1168L706.4 1168L709.3 1168L712.2 1168L715.1 1168L718 1168L720.9 1168L723.8 1168L726.7 1168L729.6 1168L732.5 1168L735.4 1168L738.3 1168L741.1 1168L744 1168L746.9 1168L749.8 1168L752.7 1168L755.6 1168L758.5 1168L761.4 1168L764.3 1168L767.2 1168L770.1 1168L773 1168L775.9 1168L778.8 1168L781.6 1168L784.5 1168L787.4 1168L790.3 1168L793.2 1168L796.1 1168L799 1168L801.9 1168L804.8 1168L807.7 1168L810.6 1168L813.5 1168L816.4 1168L819.2 1168L822.1 1168L825 1168L827.9 1168L830.8 1168L833.7 1168L836.6 1168L839.5 1168L842.4 1168L845.3 1168L848.2 1168L851.1 1168L854 1168L856.9 1168L859.7 1168L862.6 1168L865.5 1168L868.4 1168L871.3 1168L874.2 1168L877.1 1168L880 1168L882.9 1168L885.8 1168L888.7 1168L891.6 1168L894.5 1168L897.3 1168L900.2 1168L903.1 1168L906 1168L908.9 1168L911.8 1168L914.7 1168L917.6 1168L920.5 1168L923.4 1168L926.3 1168L929.2 1168L932.1 1168L934.9 1168L937.8 1168L940.7 1168L943.6 1168L946.5 1168L949.4 1168L952.3 1168L955.2 1168L958.1 1168L961 1168L963.9 1168L966.8 1168L969.7 1168L972.6 1168L975.4 1168L978.3 1168L981.2 1168L984.1 1168L987 1168L989.9 1168L992.8 1168L995.7 1168L998.6 1168L1001.5 1168L1004.4 1168L1007.3 1168L1010.2 1168L1013 1168L1015.9 1168L1018.8 1168L1021.7 1168L1024.6 1168L1027.5 1168L1030.4 1168L1033.3 1168L1036.2 1168L1039.1 1168L1042 1168L1044.9 1168L1047.8 1168L1050.6 1168L1053.5 1168L1056.4 1168L1059.3 1168L1062.2 1168L1065.1 1168L1068 1168L1070.9 1168L1073.8 1168L1076.7 1168L1079.6 1168L1082.5 1168L1085.4 1168L1088.2 1168L1091.1 1168L1094 1168L1096.9 1168L1099.8 1168L1102.7 1168L1105.6 1168L1108.5 1168L1111.4 1168L1114.3 1168L1117.2 1168L1120.1 1168L1123 1168L1125.9 1168L1128.7 1168L1131.6 1168L1134.5 1168L1137.4 1168L1140.3 1168L1143.2 1168L1146.1 1168L1149 1168L1151.9 1168L1154.8 1168L1157.7 1168L1160.6 1168L1163.5 1168L1166.3 1168L1169.2 1168L1172.1 1168L1175 1168L1177.9 1168L1180.8 1168L1183.7 1168L1186.6 1168L1189.5 1168L1192.4 1168L1195.3 1168L1198.2 1168L1201.1 1168L1204 1168L1206.8 1168L1209.7 1168L1212.6 1168L1215.5 1168L1218.4 1168L1221.3 1168L1224.2 1168L1227.1 1168L1230 1168L1232.9 1168L1235.8 1168L1238.7 1168L1241.6 1168L1244.4 1168L1247.3 1168L1250.2 1168L1253.1 1168L1256 1168L1258.9 1168L1261.8 1168L1264.7 1168L1267.6 1168L1270.5 1168L1273.4 1168L1276.3 1168L1279.2 1168L1282 1168L1284.9 1168L1287.8 1168L1290.7 1168L1293.6 1168L1296.5 1168L1299.4 1168L1302.3 1168L1305.2 1168L1308.1 1168L1311 1168L1313.9 1168L1316.8 1168L1319.7 1168L1322.5 1168L1325.4 1168L1328.3 1168L1331.2 1168L1334.1 1168L1337 1168L1339.9 1168L1342.8 1168L1345.7 1168L1348.6 1168L1351.5 1168L1354.4 1168L1357.3 1168L1360.1 1168L1363 1168L1365.9 1168L1368.8 1168L1371.7 1168L1374.6 1168L1377.5 1168L1380.4 1168L1383.3 1168L1386.2 1168L1389.1 1168L1392 1168L1394.9 1168L1397.7 1168L1400.6 1168L1403.5 1168L1406.4 1168L1409.3 1168L1412.2 1167.9L1415.1 1167.9L1418 1167.9L1420.9 1167.9L1423.8 1167.9L1426.7 1167.9L1429.6 1167.9L1432.5 1167.9L1435.4 1167.9L1438.2 1167.9L1441.1 1167.9L1444 1167.9L1446.9 1167.8L1449.8 1167.8L1452.7 1167.8L1455.6 1167.8L1458.5 1167.8L1461.4 1167.8L1464.3 1167.7L1467.2 1167.7L1470.1 1167.7L1473 1167.7L1475.8 1167.6L1478.7 1167.6L1481.6 1167.6L1484.5 1167.5L1487.4 1167.5L1490.3 1167.5L1493.2 1167.4L1496.1 1167.4L1499 1167.3L1501.9 1167.3L1504.8 1167.2L1507.7 1167.2L1510.6 1167.1L1513.4 1167.1L1516.3 1167L1519.2 1166.9L1522.1 1166.8L1525 1166.8L1527.9 1166.7L1530.8 1166.6L1533.7 1166.5L1536.6 1166.4L1539.5 1166.3L1542.4 1166.2L1545.3 1166.1L1548.2 1165.9L1551 1165.8L1553.9 1165.7L1556.8 1165.5L1559.7 1165.4L1562.6 1165.2L1565.5 1165.1L1568.4 1164.9L1571.3 1164.7L1574.2 1164.5L1577.1 1164.3L1580 1164.1L1582.9 1163.9L1585.8 1163.7L1588.7 1163.4L1591.5 1163.2L1594.4 1162.9L1597.3 1162.7L1600.2 1162.4L1603.1 1162.1L1606 1161.8L1608.9 1161.5L1611.8 1161.2L1614.7 1160.9L1617.6 1160.6L1620.5 1160.2L1623.4 1159.9L1626.3 1159.5L1629.1 1159.2L1632 1158.8L1634.9 1158.4L1637.8 1158L1640.7 1157.6L1643.6 1157.2L1646.5 1156.7L1649.4 1156.3L1652.3 1155.9L1655.2 1155.4L1658.1 1154.9L1661 1154.5L1663.9 1154L1666.8 1153.5L1669.6 1153L1672.5 1152.5L1675.4 1152L1678.3 1151.5L1681.2 1151L1684.1 1150.5L1687 1149.9L1689.9 1149.4L1692.8 1148.9L1695.7 1148.4L1698.6 1147.8L1701.5 1147.3L1704.4 1146.8L1707.2 1146.2L1710.1 1145.7L1713 1145.2L1715.9 1144.7L1718.8 1144.2L1721.7 1143.6L1724.6 1143.1L1727.5 1142.6L1730.4 1142.1L1733.3 1141.7L1736.2 1141.2L1739.1 1140.7L1742 1140.3L1744.8 1139.8L1747.7 1139.4L1750.6 1139L1753.5 1138.6L1756.4 1138.2L1759.3 1137.8L1762.2 1137.4L1765.1 1137.1L1768 1136.8L1770.9 1136.5L1773.8 1136.2L1776.7 1135.9L1779.6 1135.7L1782.5 1135.4L1785.3 1135.2L1788.2 1135L1791.1 1134.9L1794 1134.7L1796.9 1134.6L1799.8 1134.5L1802.7 1134.4L1805.6 1134.4L1808.5 1134.3L1811.4 1134.3"/>
</g>
<rect x="220.5" y="65.5" width="1591.9" height="1102.5" fill="none" stroke="#6c6c6c" stroke-width="4"/>
<path d="M220.5 1168 h26M220.5 1030.2 h13M220.5 892.5 h26M220.5 754.8 h13M220.5 617 h26M220.5 479.2 h13M220.5 341.5 h26M220.5 203.7 h13M220.5 66 h26M220.5 1168 v-24M509.8 1168 v-12M799 1168 v-24M1088.2 1168 v-12M1377.5 1168 v-24M1666.8 1168 v-12" stroke="#6c6c6c" stroke-width="3.6" fill="none"/>
<line x1="218.5" y1="1168" x2="1812.4" y2="1168" stroke="#2c2c48" stroke-width="4"/>
<path d="M232 1164 H1809" stroke="#35356c" stroke-width="3.2" stroke-dasharray="15 9" stroke-opacity="0.6" fill="none"/>
<text class="sf" x="212.5" y="85" font-size="54" fill="#2a2a2a" text-anchor="end">0.8</text>
<text class="sf" x="212" y="360.5" font-size="54" fill="#2a2a2a" text-anchor="end">0.6</text>
<text class="sf" x="210.5" y="636" font-size="54" fill="#2a2a2a" text-anchor="end">0.4</text>
<text class="sf" x="211" y="911.5" font-size="54" fill="#2a2a2a" text-anchor="end">0.2</text>
<text class="sf" x="210" y="1187" font-size="54" fill="#2a2a2a" text-anchor="end">0</text>
<text class="sf" x="220.5" y="1217.5" font-size="54" fill="#2a2a2a" text-anchor="middle">200</text>
<text class="sf" x="799" y="1217.5" font-size="54" fill="#2a2a2a" text-anchor="middle">400</text>
<text class="sf" x="1377.5" y="1217.5" font-size="54" fill="#2a2a2a" text-anchor="middle">600</text>
<text class="sf" x="1016.3" y="1282" font-size="74" fill="#1a1a1a" text-anchor="middle">Wavelength (nm)</text>
<text class="sf" transform="translate(121 617.5) rotate(-90)" x="0" y="0" font-size="75" fill="#1a1a1a" text-anchor="middle">Absorbance (au)</text>
<path d="M220.5 176L226.3 186.4L232.1 196.6L237.9 206.8L243.6 216.8L249.4 226.7L255.2 236.5L261 246.2L266.8 255.7L272.6 265.2L278.4 274.5L284.1 283.7L289.9 292.8L295.7 301.9L301.5 310.8L307.3 319.6L313.1 328.3L318.8 336.9L324.6 345.4L330.4 353.8L336.2 362.1L342 370.3L347.8 378.4L353.6 386.5L359.3 394.4L365.1 402.3L370.9 410L376.7 417.7L382.5 425.3L388.3 432.8L394.1 440.2L399.8 447.5L405.6 454.8L411.4 462L417.2 469L423 476.1L428.8 483L434.5 489.9L440.3 496.6L446.1 503.4L451.9 510L457.7 516.6L463.5 523.1L469.3 529.5L475 535.8L480.8 542.1L486.6 548.3L492.4 554.5L498.2 560.6L504 566.6L509.8 572.6L515.5 578.5L521.3 584.3L527.1 590.1L532.9 595.8L538.7 601.4L544.5 607L550.2 612.5L556 618L561.8 623.4L567.6 628.8L573.4 634.1L579.2 639.3L585 644.5L590.7 649.7L596.5 654.7L602.3 659.8L608.1 664.8L613.9 669.7L619.7 674.6L625.5 679.4L631.2 684.2L637 688.9L642.8 693.6L648.6 698.2L654.4 702.8L660.2 707.4L665.9 711.9L671.7 716.3L677.5 720.7L683.3 725.1L689.1 729.4L694.9 733.7L700.7 737.9L706.4 742.1L712.2 746.3L718 750.4L723.8 754.5L729.6 758.5L735.4 762.5L741.1 766.4L746.9 770.3L752.7 774.2L758.5 778L764.3 781.8L770.1 785.6L775.9 789.3L781.6 793L787.4 796.7L793.2 800.3L799 803.9L804.8 807.4L810.6 810.9L816.4 814.4L822.1 817.9L827.9 821.3L833.7 824.7L839.5 828L845.3 831.3L851.1 834.6L856.9 837.9L862.6 841.1L868.4 844.3L874.2 847.4L880 850.6L885.8 853.7L891.6 856.8L897.3 859.8L903.1 862.8L908.9 865.8L914.7 868.8L920.5 871.7L926.3 874.6L932.1 877.5L937.8 880.3L943.6 883.2L949.4 886L955.2 888.7L961 891.5L966.8 894.2L972.6 896.9L978.3 899.6L984.1 902.2L989.9 904.8L995.7 907.4L1001.5 910L1007.3 912.6L1013 915.1L1018.8 917.6L1024.6 920.1L1030.4 922.5L1036.2 925L1042 927.4L1047.8 929.8L1053.5 932.1L1059.3 934.5L1065.1 936.8L1070.9 939.1L1076.7 941.4L1082.5 943.7L1088.2 945.9L1094 948.1L1099.8 950.3L1105.6 952.5L1111.4 954.7L1117.2 956.8L1123 959L1128.7 961.1L1134.5 963.2L1140.3 965.2L1146.1 967.3L1151.9 969.3L1157.7 971.3L1163.5 973.3L1169.2 975.3L1175 977.2L1180.8 979.2L1186.6 981.1L1192.4 983L1198.2 984.9L1204 986.8L1209.7 988.6L1215.5 990.5L1221.3 992.3L1227.1 994.1L1232.9 995.9L1238.7 997.7L1244.4 999.4L1250.2 1001.2L1256 1002.9L1261.8 1004.6L1267.6 1006.3L1273.4 1008L1279.2 1009.6L1284.9 1011.3L1290.7 1012.9L1296.5 1014.5L1302.3 1016.2L1308.1 1017.7L1313.9 1019.3L1319.7 1020.9L1325.4 1022.4L1331.2 1024L1337 1025.5L1342.8 1027L1348.6 1028.5L1354.4 1030L1360.1 1031.4L1365.9 1032.9L1371.7 1034.3L1377.5 1035.8L1383.3 1037.2L1389.1 1038.6L1394.9 1040L1400.6 1041.4L1406.4 1042.7L1412.2 1044.1L1418 1045.4L1423.8 1046.7L1429.6 1048.1L1435.4 1049.4L1441.1 1050.7L1446.9 1051.9L1452.7 1053.2L1458.5 1054.5L1464.3 1055.7L1470.1 1056.9L1475.8 1058.2L1481.6 1059.4L1487.4 1060.6L1493.2 1061.8L1499 1062.9L1504.8 1064.1L1510.6 1065.3L1516.3 1066.4L1522.1 1067.6L1527.9 1068.7L1533.7 1069.8L1539.5 1070.9L1545.3 1072L1551 1073.1L1556.8 1074.2L1562.6 1075.2L1568.4 1076.3L1574.2 1077.3L1580 1078.4L1585.8 1079.4L1591.5 1080.4L1597.3 1081.4L1603.1 1082.4L1608.9 1083.4L1614.7 1084.4L1620.5 1085.3L1626.3 1086.3L1632 1087.2L1637.8 1088.2L1643.6 1089.1L1649.4 1090L1655.2 1091L1661 1091.9L1666.8 1092.8L1672.5 1093.6L1678.3 1094.5L1684.1 1095.4L1689.9 1096.3L1695.7 1097.1L1701.5 1098L1707.2 1098.8L1713 1099.6L1718.8 1100.5L1724.6 1101.3L1730.4 1102.1L1736.2 1102.9L1742 1103.7L1747.7 1104.5L1753.5 1105.2L1759.3 1106L1765.1 1106.8L1770.9 1107.5L1776.7 1108.3L1782.5 1109L1788.2 1109.7L1794 1110.4L1799.8 1111.2L1805.6 1111.9L1811.4 1112.6" fill="none" stroke="#141414" stroke-width="4.2" stroke-linejoin="round"/>
<rect x="837.6" y="96" width="927.4" height="635" fill="#fff" stroke="none"/>
<path d="M837.6 731 v-12M837.6 96 v12M930.4 731 v-7M930.4 96 v7M1023.1 731 v-12M1023.1 96 v12M1115.8 731 v-7M1115.8 96 v7M1208.6 731 v-12M1208.6 96 v12M1301.3 731 v-7M1301.3 96 v7M1394.1 731 v-12M1394.1 96 v12M1486.8 731 v-7M1486.8 96 v7M1579.6 731 v-12M1579.6 96 v12M1672.3 731 v-7M1672.3 96 v7M1765.1 731 v-12M1765.1 96 v12M837.6 127.2 h7M1765 127.2 h-7M837.6 161.9 h12M1765 161.9 h-12M837.6 206.2 h7M1765 206.2 h-7M837.6 257 h12M1765 257 h-12M837.6 322.8 h7M1765 322.8 h-7M837.6 414.7 h12M1765 414.7 h-12M837.6 571.3 h12M1765 571.3 h-12M837.6 597 h7M1765 597 h-7M837.6 622.4 h12M1765 622.4 h-12M837.6 652.4 h7M1765 652.4 h-7M837.6 687 h12M1765 687 h-12" stroke="#3a3a3a" stroke-width="2.6" fill="none"/>
<rect x="837.6" y="96" width="927.4" height="635" fill="none" stroke="#484848" stroke-width="3"/>
<text class="sf" x="825" y="109" font-size="35" fill="#222" text-anchor="end" stroke="#222" stroke-width="0.5">0.8</text>
<text class="sf" x="825" y="174.9" font-size="35" fill="#222" text-anchor="end" stroke="#222" stroke-width="0.5">0.6</text>
<text class="sf" x="825" y="270" font-size="35" fill="#222" text-anchor="end" stroke="#222" stroke-width="0.5">0.4</text>
<text class="sf" x="825" y="427.7" font-size="35" fill="#222" text-anchor="end" stroke="#222" stroke-width="0.5">0.2</text>
<text class="sf" x="825" y="584.3" font-size="35" fill="#222" text-anchor="end" stroke="#222" stroke-width="0.5">0.1</text>
<text class="sf" x="825" y="635.4" font-size="35" fill="#222" text-anchor="end" stroke="#222" stroke-width="0.5">0.08</text>
<text class="sf" x="825" y="700" font-size="35" fill="#222" text-anchor="end" stroke="#222" stroke-width="0.5">0.06</text>
<text class="sf" x="837.6" y="770.5" font-size="35" fill="#222" text-anchor="middle" stroke="#222" stroke-width="0.5">200</text>
<text class="sf" x="1023.1" y="770.5" font-size="35" fill="#222" text-anchor="middle" stroke="#222" stroke-width="0.5">300</text>
<text class="sf" x="1208.6" y="770.5" font-size="35" fill="#222" text-anchor="middle" stroke="#222" stroke-width="0.5">400</text>
<text class="sf" x="1394.1" y="770.5" font-size="35" fill="#222" text-anchor="middle" stroke="#222" stroke-width="0.5">500</text>
<text class="sf" x="1579.6" y="770.5" font-size="35" fill="#222" text-anchor="middle" stroke="#222" stroke-width="0.5">600</text>
<text class="sf" x="1765.1" y="770.5" font-size="35" fill="#222" text-anchor="middle" stroke="#222" stroke-width="0.5">700</text>
<text class="sf" x="1304.6" y="816.5" font-size="45" fill="#1a1a1a" text-anchor="middle" stroke="#1a1a1a" stroke-width="0.7">Wavelength (nm)</text>
<text class="sf" transform="translate(764.5 416.4) rotate(-90)" x="0" y="0" font-size="45.5" fill="#1a1a1a" text-anchor="middle" stroke="#1a1a1a" stroke-width="0.7">Absorbance (au)</text>
<path d="M837.6 119.6L845.4 124.7L853.2 129.8L861 134.8L868.8 139.9L876.6 144.9L884.4 149.9L892.2 155L900 160L907.8 164.9L915.5 169.9L923.3 174.9L931.1 179.8L938.9 184.8L946.7 189.7L954.5 194.6L962.3 199.5L970.1 204.4L977.9 209.3L985.7 214.1L993.5 219L1001.3 223.8L1009.1 228.7L1016.9 233.5L1024.7 238.3L1032.5 243.1L1040.3 247.9L1048.1 252.7L1055.9 257.5L1063.7 262.3L1071.4 267L1079.2 271.8L1087 276.6L1094.8 281.3L1102.6 286L1110.4 290.8L1118.2 295.5L1126 300.2L1133.8 304.9L1141.6 309.7L1149.4 314.4L1157.2 319.1L1165 323.8L1172.8 328.5L1180.6 333.2L1188.4 337.8L1196.2 342.5L1204 347.2L1211.8 351.9L1219.6 356.6L1227.3 361.2L1235.1 365.9L1242.9 370.6L1250.7 375.2L1258.5 379.9L1266.3 384.6L1274.1 389.2L1281.9 393.9L1289.7 398.6L1297.5 403.2L1305.3 407.9L1313.1 412.6L1320.9 417.2L1328.7 421.9L1336.5 426.6L1344.3 431.3L1352.1 435.9L1359.9 440.6L1367.7 445.3L1375.5 450L1383.2 454.7L1391 459.4L1398.8 464.1L1406.6 468.8L1414.4 473.5L1422.2 478.2L1430 482.9L1437.8 487.6L1445.6 492.4L1453.4 497.1L1461.2 501.8L1469 506.6L1476.8 511.3L1484.6 516.1L1492.4 520.9L1500.2 525.6L1508 530.4L1515.8 535.2L1523.6 540L1531.4 544.8L1539.1 549.6L1546.9 554.4L1554.7 559.3L1562.5 564.1L1570.3 569L1578.1 573.8L1585.9 578.7L1593.7 583.6L1601.5 588.5L1609.3 593.4L1617.1 598.3L1624.9 603.3L1632.7 608.2L1640.5 613.2L1648.3 618.1L1656.1 623.1L1663.9 628.1L1671.7 633.1L1679.5 638.2L1687.3 643.2L1695 648.2L1702.8 653.3L1710.6 658.4L1718.4 663.5L1726.2 668.6L1734 673.7L1741.8 678.9L1749.6 684L1757.4 689.2L1765.2 694.4" fill="none" stroke="#111" stroke-width="4" stroke-linejoin="round"/>
<text class="sf" x="36" y="1382" font-size="54" fill="#111">ii)</text>
<path d="M353.5 2408.6 h-13M353.5 2329.6 h-23M353.5 2250.6 h-13M353.5 2171.7 h-23M353.5 2092.7 h-13M353.5 2013.7 h-23M353.5 1934.8 h-13M353.5 1855.8 h-23M353.5 1776.8 h-13M353.5 1697.8 h-23M353.5 1618.9 h-13M353.5 1539.9 h-23M353.5 1460.9 h-13M353.5 1382 h-23M353.5 2408.6 v12M435.4 2408.6 v23.5M517.4 2408.6 v12M599.4 2408.6 v23.5M681.3 2408.6 v12M763.2 2408.6 v23.5M845.2 2408.6 v12M927.1 2408.6 v23.5M1009.1 2408.6 v12M1091 2408.6 v23.5M1173 2408.6 v12M1255 2408.6 v23.5M1336.9 2408.6 v12M1418.8 2408.6 v23.5M1500.8 2408.6 v12M1582.8 2408.6 v23.5M1664.7 2408.6 v12M1746.7 2408.6 v23.5" stroke="#231f20" stroke-width="4" fill="none"/>
<path d="M353.5 1382 V2408.6 M351.5 2408.6 H1748.7" stroke="#231f20" stroke-width="4.2" fill="none"/>
<text class="ss" x="302" y="1401" font-size="50" fill="#2a2627" text-anchor="end">1.2x10</text>
<text class="ss" x="304" y="1373.5" font-size="29" fill="#2a2627">6</text>
<text class="ss" x="302" y="1558.9" font-size="50" fill="#2a2627" text-anchor="end">1.0x10</text>
<text class="ss" x="304" y="1531.4" font-size="29" fill="#2a2627">6</text>
<text class="ss" x="302" y="1716.8" font-size="50" fill="#2a2627" text-anchor="end">8.0x10</text>
<text class="ss" x="304" y="1689.3" font-size="29" fill="#2a2627">5</text>
<text class="ss" x="302" y="1874.8" font-size="50" fill="#2a2627" text-anchor="end">6.0x10</text>
<text class="ss" x="304" y="1847.3" font-size="29" fill="#2a2627">5</text>
<text class="ss" x="302" y="2032.7" font-size="50" fill="#2a2627" text-anchor="end">4.0x10</text>
<text class="ss" x="304" y="2005.2" font-size="29" fill="#2a2627">5</text>
<text class="ss" x="302" y="2190.7" font-size="50" fill="#2a2627" text-anchor="end">2.0x10</text>
<text class="ss" x="304" y="2163.2" font-size="29" fill="#2a2627">5</text>
<text class="ss" x="319" y="2339.1" font-size="50" fill="#2a2627" text-anchor="end">0.0</text>
<text class="ss" x="435.4" y="2481" font-size="50" fill="#2a2627" text-anchor="middle">350</text>
<text class="ss" x="599.4" y="2481" font-size="50" fill="#2a2627" text-anchor="middle">400</text>
<text class="ss" x="763.2" y="2481" font-size="50" fill="#2a2627" text-anchor="middle">450</text>
<text class="ss" x="927.1" y="2481" font-size="50" fill="#2a2627" text-anchor="middle">500</text>
<text class="ss" x="1091" y="2481" font-size="50" fill="#2a2627" text-anchor="middle">550</text>
<text class="ss" x="1255" y="2481" font-size="50" fill="#2a2627" text-anchor="middle">600</text>
<text class="ss" x="1418.8" y="2481" font-size="50" fill="#2a2627" text-anchor="middle">650</text>
<text class="ss" x="1582.8" y="2481" font-size="50" fill="#2a2627" text-anchor="middle">700</text>
<text class="ss" x="1746.7" y="2481" font-size="50" fill="#2a2627" text-anchor="middle">750</text>
<text class="ss" x="1049.5" y="2571.5" font-size="55.6" fill="#2a2627" text-anchor="middle">Wavelength (nm)</text>
<text class="ss" transform="translate(80.5 1878.3) rotate(-90)" x="0" y="0" font-size="55" fill="#2a2627" text-anchor="middle">Intensity (cps)</text>
<g fill="none" stroke="#1f1b1c" stroke-linecap="round" stroke-linejoin="round">
<path d="M533.3 2319.9L535.3 2316.7L537.3 2313.5L539.3 2310.3L541.3 2307L543.3 2303.7L545.3 2300.4L547.3 2297L549.3 2293.5L551.3 2290L553.3 2286.3L555.3 2282.6L557.3 2278.8L559.3 2274.8L561.3 2270.8L563.3 2266.6L565.3 2262.2L567.3 2257.8L569.3 2253.3L571.3 2248.8L573.3 2244.3L575.3 2239.9L577.3 2235.6L579.3 2231.4L581.3 2227.2L583.3 2223.1L585.3 2219L587.3 2214.8L589.3 2210.6L591.3 2206.3L593.3 2202L595.3 2197.5L597.3 2192.9L599.3 2188.1L601.3 2183.2L603.3 2178.1L605.3 2172.9L607.3 2167.6L609.3 2162.2L611.3 2156.8L613.3 2151.3L615.3 2145.8L617.3 2140.3L619.3 2134.6L621.3 2129L623.3 2123.2L625.3 2117.4L627.3 2111.5L629.3 2105.5L631.3 2099.4L633.3 2093.2L635.3 2087L637.3 2080.7L639.3 2074.4L641.3 2068.2L643.3 2061.9L645.3 2055.5L647.3 2049.1L649.3 2042.7L651.3 2036L653.3 2029.2L655.3 2022.1L657.3 2014.8L659.3 2007.1L661.3 1999.2L663.3 1991.2L665.3 1983.2L667.3 1975.3L669.3 1967.5L671.3 1959.9L673.3 1952.5L675.3 1945.3L677.3 1938.3L679.3 1931.4L681.3 1924.8L683.3 1918.4L685.3 1912.2L687.3 1906.2L689.3 1900.4L691.3 1894.7L693.3 1889L695.3 1883.2L697.3 1877.1L699.3 1870.7L701.3 1864.1L703.3 1857.3L705.3 1850.4L707.3 1843.4L709.3 1836.4L711.3 1829.6L713.3 1822.9L715.3 1816.4L717.3 1810L719.3 1803.7L721.3 1797.4L723.3 1791L725.3 1784.6L727.3 1778.2L729.3 1771.8L731.3 1765.5L733.3 1759.4L735.3 1753.3L737.3 1747.4L739.3 1741.6L741.3 1735.9L743.3 1730.3L745.3 1724.8L747.3 1719.4L749.3 1714L751.3 1708.7L753.3 1703.4L755.3 1698.2L757.3 1693.1L759.3 1688L761.3 1683.1L763.3 1678.3L765.3 1673.7L767.3 1669.2L769.3 1664.8L771.3 1660.6L773.3 1656.6L775.3 1652.8L777.3 1649L779.3 1645.3L781.3 1641.7L783.3 1638.1L785.3 1634.6L787.3 1631.1L789.3 1627.6L791.3 1624.1L793.3 1620.8L795.3 1617.5L797.3 1614.3L799.3 1611.3L801.3 1608.4L803.3 1605.6L805.3 1602.9L807.3 1600.4L809.3 1598L811.3 1595.7L813.3 1593.6L815.3 1591.7L817.3 1589.8L819.3 1588.2L821.3 1586.6L823.3 1585.3L825.3 1584L827.3 1583L829.3 1582L831.3 1581.3L833.3 1580.7L835.3 1580.2L837.3 1579.9L839.3 1579.8L841.3 1579.8L843.3 1580L845.3 1580.2L847.3 1580.6L849.3 1581.1L851.3 1581.6L853.3 1582.2L855.3 1582.9L857.3 1583.6L859.3 1584.4L861.3 1585.2L863.3 1586L865.3 1586.9L867.3 1587.7L869.3 1588.6L871.3 1589.6L873.3 1590.5L875.3 1591.6L877.3 1592.6L879.3 1593.8L881.3 1595L883.3 1596.3L885.3 1597.7L887.3 1599.1L889.3 1600.7L891.3 1602.4L893.3 1604.2L895.3 1606.1L897.3 1608.2L899.3 1610.5L901.3 1612.9L903.3 1615.5L905.3 1618.2L907.3 1621L909.3 1624L911.3 1627L913.3 1630L915.3 1633.1L917.3 1636.3L919.3 1639.4L921.3 1642.5L923.3 1645.6L925.3 1648.6L927.3 1651.6L929.3 1654.4L931.3 1657.1L933.3 1659.7L935.3 1662.2L937.3 1664.7L939.3 1667.1L941.3 1669.5L943.3 1671.9L945.3 1674.3L947.3 1676.8L949.3 1679.3L951.3 1682L953.3 1684.7L955.3 1687.6L957.3 1690.5L959.3 1693.4L961.3 1696.5L963.3 1699.5L965.3 1702.6L967.3 1705.7L969.3 1708.8L971.3 1711.8L973.3 1714.8L975.3 1717.8L977.3 1720.8L979.3 1723.8L981.3 1726.8L983.3 1729.7L985.3 1732.6L987.3 1735.5L989.3 1738.4L991.3 1741.3L993.3 1744.2L995.3 1747.1L997.3 1750.2L999.3 1753.4L1001.3 1756.8L1003.3 1760.2L1005.3 1763.8L1007.3 1767.4L1009.3 1771.1L1011.3 1774.9L1013.3 1778.8L1015.3 1782.6L1017.3 1786.6L1019.3 1790.5L1021.3 1794.5L1023.3 1798.5L1025.3 1802.5L1027.3 1806.5L1029.3 1810.5L1031.3 1814.6L1033.3 1818.6L1035.3 1822.6L1037.3 1826.7L1039.3 1830.7L1041.3 1834.7L1043.3 1838.7L1045.3 1842.6L1047.3 1846.6L1049.3 1850.5L1051.3 1854.3L1053.3 1858.2L1055.3 1862L1057.3 1865.8L1059.3 1869.6L1061.3 1873.3L1063.3 1877.1L1065.3 1880.9L1067.3 1884.7L1069.3 1888.5L1071.3 1892.3L1073.3 1896.1L1075.3 1899.9L1077.3 1903.7L1079.3 1907.5L1081.3 1911.3L1083.3 1915L1085.3 1918.8L1087.3 1922.5L1089.3 1926.2L1091.3 1929.9L1093.3 1933.5L1095.3 1937.1L1097.3 1940.7L1099.3 1944.2L1101.3 1947.7L1103.3 1951.1L1105.3 1954.5L1107.3 1957.8L1109.3 1961.1L1111.3 1964.4L1113.3 1967.6L1115.3 1970.8L1117.3 1973.9L1119.3 1977.1L1121.3 1980.2L1123.3 1983.3L1125.3 1986.3L1127.3 1989.4L1129.3 1992.5L1131.3 1995.5L1133.3 1998.6L1135.3 2001.7L1137.3 2004.8L1139.3 2007.8L1141.3 2010.9L1143.3 2014L1145.3 2017.1L1147.3 2020.1L1149.3 2023.1L1151.3 2026.1L1153.3 2029L1155.3 2031.9L1157.3 2034.8L1159.3 2037.6L1161.3 2040.3L1163.3 2043L1165.3 2045.7L1167.3 2048.3L1169.3 2050.8L1171.3 2053.3L1173.3 2055.8L1175.3 2058.2L1177.3 2060.6L1179.3 2063L1181.3 2065.3L1183.3 2067.6L1185.3 2069.9L1187.3 2072.1L1189.3 2074.4L1191.3 2076.6L1193.3 2078.9L1195.3 2081.1L1197.3 2083.3L1199.3 2085.6L1201.3 2087.8L1203.3 2090.1L1205.3 2092.4L1207.3 2094.7L1209.3 2097L1211.3 2099.3L1213.3 2101.7L1215.3 2104.1L1217.3 2106.5L1219.3 2109L1221.3 2111.4L1223.3 2113.9L1225.3 2116.4L1227.3 2118.8L1229.3 2121.3L1231.3 2123.7L1233.3 2126.1L1235.3 2128.5L1237.3 2130.9L1239.3 2133.2L1241.3 2135.5L1243.3 2137.8L1245.3 2140L1247.3 2142.2L1249.3 2144.4L1251.3 2146.5L1253.3 2148.5L1255.3 2150.6L1257.3 2152.6L1259.3 2154.5L1261.3 2156.5L1263.3 2158.3L1265.3 2160.2L1267.3 2162L1269.3 2163.9L1271.3 2165.7L1273.3 2167.4L1275.3 2169.2L1277.3 2170.9L1279.3 2172.7L1281.3 2174.4L1283.3 2176.2L1285.3 2177.9L1287.3 2179.6L1289.3 2181.4L1291.3 2183.1L1293.3 2184.9L1295.3 2186.6L1297.3 2188.3L1299.3 2190.1L1301.3 2191.8L1303.3 2193.6L1305.3 2195.3L1307.3 2197.1L1309.3 2198.8L1311.3 2200.5L1313.3 2202.2L1315.3 2203.8L1317.3 2205.5L1319.3 2207.1L1321.3 2208.7L1323.3 2210.3L1325.3 2211.9L1327.3 2213.4L1329.3 2214.9L1331.3 2216.4L1333.3 2217.8L1335.3 2219.3L1337.3 2220.7L1339.3 2222.1L1341.3 2223.5L1343.3 2224.8L1345.3 2226.2L1347.3 2227.5L1349.3 2228.8L1351.3 2230.1L1353.3 2231.4L1355.3 2232.7L1357.3 2234L1359.3 2235.2L1361.3 2236.5L1363.3 2237.7L1365.3 2239L1367.3 2240.2L1369.3 2241.4L1371.3 2242.6L1373.3 2243.8L1375.3 2245L1377.3 2246.2L1379.3 2247.3L1381.3 2248.4L1383.3 2249.5L1385.3 2250.5L1387.3 2251.6L1389.3 2252.6L1391.3 2253.6L1393.3 2254.5L1395.3 2255.5L1397.3 2256.4L1399.3 2257.3L1401.3 2258.2L1403.3 2259L1405.3 2259.9L1407.3 2260.7L1409.3 2261.5L1411.3 2262.3L1413.3 2263.1L1415.3 2263.9L1417.3 2264.7L1419.3 2265.5L1421.3 2266.3L1423.3 2267L1425.3 2267.8L1427.3 2268.6L1429.3 2269.3L1431.3 2270.1L1433.3 2270.8L1435.3 2271.6L1437.3 2272.3L1439.3 2273L1441.3 2273.7L1443.3 2274.4L1445.3 2275.1L1447.3 2275.8L1449.3 2276.5L1451.3 2277.2L1453.3 2277.8L1455.3 2278.5L1457.3 2279.1L1459.3 2279.8L1461.3 2280.4L1463.3 2281L1465.3 2281.6L1467.3 2282.3L1469.3 2282.9L1471.3 2283.5L1473.3 2284.1L1475.3 2284.7L1477.3 2285.3L1479.3 2285.9L1481.3 2286.5L1483.3 2287.1L1485.3 2287.7L1487.3 2288.3L1489.3 2288.9L1491.3 2289.6L1493.3 2290.2L1495.3 2290.8L1497.3 2291.4L1499.3 2292L1501.3 2292.6L1503.3 2293.2L1505.3 2293.8L1507.3 2294.4L1509.3 2295L1511.3 2295.6L1513.3 2296.2L1515.3 2296.8L1517.3 2297.4L1519.3 2298L1521.3 2298.5L1523.3 2299.1L1525.3 2299.7L1527.3 2300.2L1529.3 2300.8L1531.3 2301.3L1533.3 2301.8L1535.3 2302.4L1537.3 2302.9L1539.3 2303.4L1541.3 2303.9L1543.3 2304.4L1545.3 2304.8L1547.3 2305.3L1549.3 2305.8L1551.3 2306.2L1553.3 2306.7L1555.3 2307.1L1557.3 2307.5L1559.3 2308L1561.3 2308.4L1563.3 2308.8L1565.3 2309.2L1567.3 2309.6L1569.3 2310.1L1571.3 2310.5L1573.3 2310.9L1575.3 2311.3L1577.3 2311.7L1579.3 2312.1L1581.3 2312.6L1583.3 2313" stroke-width="5" stroke-dasharray="0.5 29"/>
<path d="M549.6 2316.9L551.6 2313.7L553.6 2310.4L555.6 2307.2L557.6 2303.9L559.6 2300.7L561.6 2297.4L563.6 2294L565.6 2290.7L567.6 2287.3L569.6 2283.8L571.6 2280.4L573.6 2276.9L575.6 2273.3L577.6 2269.7L579.6 2266.1L581.6 2262.4L583.6 2258.7L585.6 2255L587.6 2251.1L589.6 2247.3L591.6 2243.4L593.6 2239.4L595.6 2235.4L597.6 2231.3L599.6 2227.2L601.6 2223L603.6 2218.7L605.6 2214.4L607.6 2210.1L609.6 2205.7L611.6 2201.2L613.6 2196.6L615.6 2192.1L617.6 2187.4L619.6 2182.7L621.6 2177.9L623.6 2173.1L625.6 2168.2L627.6 2163.2L629.6 2158.2L631.6 2153.1L633.6 2147.9L635.6 2142.7L637.6 2137.4L639.6 2132L641.6 2126.6L643.6 2121.1L645.6 2115.5L647.6 2109.8L649.6 2103.9L651.6 2097.9L653.6 2091.8L655.6 2085.5L657.6 2079L659.6 2072.2L661.6 2065.3L663.6 2058.1L665.6 2050.8L667.6 2043.3L669.6 2035.7L671.6 2028L673.6 2020.5L675.6 2013.1L677.6 2006.1L679.6 1999.3L681.6 1992.7L683.6 1986.1L685.6 1979.3L687.6 1972.3L689.6 1965.2L691.6 1958.3L693.6 1951.6L695.6 1945.3L697.6 1939.1L699.6 1933.1L701.6 1927.1L703.6 1921.1L705.6 1915L707.6 1908.9L709.6 1902.7L711.6 1896.4L713.6 1890L715.6 1883.5L717.6 1876.9L719.6 1870.2L721.6 1863.4L723.6 1856.5L725.6 1849.6L727.6 1842.8L729.6 1836.4L731.6 1830.1L733.6 1824.2L735.6 1818.4L737.6 1812.9L739.6 1807.6L741.6 1802.4L743.6 1797.3L745.6 1792.1L747.6 1786.9L749.6 1781.4L751.6 1775.7L753.6 1769.6L755.6 1763.4L757.6 1757L759.6 1750.5L761.6 1744L763.6 1737.6L765.6 1731.3L767.6 1725.2L769.6 1719.4L771.6 1713.9L773.6 1708.6L775.6 1703.5L777.6 1698.6L779.6 1694L781.6 1689.6L783.6 1685.3L785.6 1681.2L787.6 1677.3L789.6 1673.5L791.6 1669.9L793.6 1666.3L795.6 1662.9L797.6 1659.6L799.6 1656.5L801.6 1653.4L803.6 1650.4L805.6 1647.4L807.6 1644.6L809.6 1641.9L811.6 1639.2L813.6 1636.6L815.6 1634.1L817.6 1631.6L819.6 1629.3L821.6 1627L823.6 1624.9L825.6 1622.9L827.6 1620.9L829.6 1619.1L831.6 1617.4L833.6 1615.8L835.6 1614.3L837.6 1613L839.6 1611.8L841.6 1610.7L843.6 1609.7L845.6 1608.9L847.6 1608.2L849.6 1607.7L851.6 1607.3L853.6 1607.1L855.6 1606.9L857.6 1607L859.6 1607.1L861.6 1607.4L863.6 1607.8L865.6 1608.2L867.6 1608.7L869.6 1609.3L871.6 1610L873.6 1610.7L875.6 1611.4L877.6 1612.1L879.6 1612.9L881.6 1613.6L883.6 1614.4L885.6 1615.3L887.6 1616.2L889.6 1617.1L891.6 1618.2L893.6 1619.3L895.6 1620.5L897.6 1621.9L899.6 1623.3L901.6 1624.9L903.6 1626.6L905.6 1628.4L907.6 1630.3L909.6 1632.4L911.6 1634.6L913.6 1636.9L915.6 1639.4L917.6 1641.9L919.6 1644.5L921.6 1647.2L923.6 1649.9L925.6 1652.6L927.6 1655.2L929.6 1657.8L931.6 1660.3L933.6 1662.7L935.6 1665.1L937.6 1667.4L939.6 1669.7L941.6 1672L943.6 1674.4L945.6 1676.7L947.6 1679.2L949.6 1681.7L951.6 1684.4L953.6 1687.1L955.6 1689.9L957.6 1692.9L959.6 1695.8L961.6 1698.9L963.6 1701.9L965.6 1705L967.6 1708.1L969.6 1711.1L971.6 1714.1L973.6 1717.1L975.6 1720.1L977.6 1723.1L979.6 1726.1L981.6 1729.1L983.6 1732.1L985.6 1735.2L987.6 1738.2L989.6 1741.3L991.6 1744.4L993.6 1747.6L995.6 1750.9L997.6 1754.2L999.6 1757.7L1001.6 1761.2L1003.6 1764.9L1005.6 1768.5L1007.6 1772.3L1009.6 1776.1L1011.6 1779.9L1013.6 1783.8L1015.6 1787.7L1017.6 1791.6L1019.6 1795.6L1021.6 1799.5L1023.6 1803.5L1025.6 1807.6L1027.6 1811.6L1029.6 1815.6L1031.6 1819.7L1033.6 1823.7L1035.6 1827.8L1037.6 1831.8L1039.6 1835.8L1041.6 1839.8L1043.6 1843.7L1045.6 1847.6L1047.6 1851.5L1049.6 1855.4L1051.6 1859.2L1053.6 1863L1055.6 1866.8L1057.6 1870.6L1059.6 1874.4L1061.6 1878.2L1063.6 1882L1065.6 1885.8L1067.6 1889.5L1069.6 1893.3L1071.6 1897.2L1073.6 1901L1075.6 1904.8L1077.6 1908.6L1079.6 1912.3L1081.6 1916.1L1083.6 1919.9L1085.6 1923.6L1087.6 1927.3L1089.6 1930.9L1091.6 1934.6L1093.6 1938.2L1095.6 1941.7L1097.6 1945.2L1099.6 1948.7L1101.6 1952.1L1103.6 1955.5L1105.6 1958.9L1107.6 1962.2L1109.6 1965.4L1111.6 1968.7L1113.6 1971.8L1115.6 1975L1117.6 1978.1L1119.6 1981.2L1121.6 1984.3L1123.6 1987.4L1125.6 1990.5L1127.6 1993.5L1129.6 1996.6L1131.6 1999.7L1133.6 2002.7L1135.6 2005.8L1137.6 2008.9L1139.6 2012L1141.6 2015L1143.6 2018.1L1145.6 2021.1L1147.6 2024.2L1149.6 2027.1L1151.6 2030.1L1153.6 2033L1155.6 2035.8L1157.6 2038.6L1159.6 2041.4L1161.6 2044.1L1163.6 2046.7L1165.6 2049.3L1167.6 2051.9L1169.6 2054.4L1171.6 2056.9L1173.6 2059.3L1175.6 2061.7L1177.6 2064.1L1179.6 2066.4L1181.6 2068.7L1183.6 2071L1185.6 2073.2L1187.6 2075.5L1189.6 2077.7L1191.6 2080L1193.6 2082.2L1195.6 2084.4L1197.6 2086.7L1199.6 2088.9L1201.6 2091.2L1203.6 2093.5L1205.6 2095.8L1207.6 2098.1L1209.6 2100.4L1211.6 2102.8L1213.6 2105.2L1215.6 2107.6L1217.6 2110.1L1219.6 2112.5L1221.6 2115L1223.6 2117.4L1225.6 2119.9L1227.6 2122.3L1229.6 2124.8L1231.6 2127.2L1233.6 2129.6L1235.6 2132L1237.6 2134.3L1239.6 2136.6L1241.6 2138.9L1243.6 2141.1L1245.6 2143.3L1247.6 2145.5L1249.6 2147.6L1251.6 2149.7L1253.6 2151.7L1255.6 2153.7L1257.6 2155.7L1259.6 2157.6L1261.6 2159.5L1263.6 2161.4L1265.6 2163.2L1267.6 2165L1269.6 2166.8L1271.6 2168.6L1273.6 2170.4L1275.6 2172.1L1277.6 2173.9L1279.6 2175.6L1281.6 2177.3L1283.6 2179.1L1285.6 2180.8L1287.6 2182.5L1289.6 2184.3L1291.6 2186L1293.6 2187.8L1295.6 2189.5L1297.6 2191.3L1299.6 2193L1301.6 2194.8L1303.6 2196.5L1305.6 2198.2L1307.6 2200L1309.6 2201.7L1311.6 2203.4L1313.6 2205L1315.6 2206.7L1317.6 2208.3L1319.6 2209.9L1321.6 2211.5L1323.6 2213.1L1325.6 2214.6L1327.6 2216.1L1329.6 2217.6L1331.6 2219.1L1333.6 2220.5L1335.6 2221.9L1337.6 2223.3L1339.6 2224.7L1341.6 2226.1L1343.6 2227.4L1345.6 2228.8L1347.6 2230.1L1349.6 2231.4L1351.6 2232.7L1353.6 2234L1355.6 2235.2L1357.6 2236.5L1359.6 2237.8L1361.6 2239L1363.6 2240.3L1365.6 2241.5L1367.6 2242.7L1369.6 2243.9L1371.6 2245.1L1373.6 2246.3L1375.6 2247.5L1377.6 2248.6L1379.6 2249.7L1381.6 2250.8L1383.6 2251.9L1385.6 2253L1387.6 2254L1389.6 2255L1391.6 2255.9L1393.6 2256.9L1395.6 2257.8L1397.6 2258.7L1399.6 2259.6L1401.6 2260.5L1403.6 2261.3L1405.6 2262.2L1407.6 2263L1409.6 2263.8L1411.6 2264.6L1413.6 2265.4L1415.6 2266.2L1417.6 2267L1419.6 2267.7L1421.6 2268.5L1423.6 2269.3L1425.6 2270.1L1427.6 2270.8L1429.6 2271.6L1431.6 2272.3L1433.6 2273.1L1435.6 2273.8L1437.6 2274.5L1439.6 2275.2L1441.6 2276L1443.6 2276.7L1445.6 2277.4L1447.6 2278L1449.6 2278.7L1451.6 2279.4L1453.6 2280L1455.6 2280.7L1457.6 2281.3L1459.6 2282L1461.6 2282.6L1463.6 2283.2L1465.6 2283.8L1467.6 2284.4L1469.6 2285.1L1471.6 2285.7L1473.6 2286.3L1475.6 2286.9L1477.6 2287.5L1479.6 2288.1L1481.6 2288.7L1483.6 2289.3L1485.6 2289.9L1487.6 2290.5L1489.6 2291.1L1491.6 2291.7L1493.6 2292.3L1495.6 2292.9L1497.6 2293.6L1499.6 2294.2L1501.6 2294.8L1503.6 2295.4L1505.6 2296L1507.6 2296.6L1509.6 2297.2L1511.6 2297.8L1513.6 2298.4L1515.6 2299L1517.6 2299.5L1519.6 2300.1L1521.6 2300.7L1523.6 2301.3L1525.6 2301.8L1527.6 2302.4L1529.6 2302.9L1531.6 2303.4L1533.6 2304L1535.6 2304.5L1537.6 2305L1539.6 2305.5L1541.6 2306L1543.6 2306.5L1545.6 2307L1547.6 2307.4L1549.6 2307.9L1551.6 2308.3L1553.6 2308.8L1555.6 2309.2L1557.6 2309.6L1559.6 2310.1L1561.6 2310.5L1563.6 2310.9L1565.6 2311.3L1567.6 2311.7L1569.6 2312.2L1571.6 2312.6L1573.6 2313L1575.6 2313.4L1577.6 2313.8L1579.6 2314.3L1581.6 2314.7L1583.6 2315.1" stroke-width="4.8" stroke-dasharray="24 16 0.5 20"/>
<path d="M567.4 2313.6L569.4 2309.7L571.4 2305.9L573.4 2302L575.4 2298.2L577.4 2294.5L579.4 2290.9L581.4 2287.3L583.4 2283.8L585.4 2280.2L587.4 2276.6L589.4 2272.9L591.4 2269.3L593.4 2265.5L595.4 2261.8L597.4 2258L599.4 2254.1L601.4 2250.3L603.4 2246.3L605.4 2242.4L607.4 2238.4L609.4 2234.3L611.4 2230.3L613.4 2226.2L615.4 2222L617.4 2217.8L619.4 2213.6L621.4 2209.4L623.4 2205.1L625.4 2200.7L627.4 2196.4L629.4 2191.9L631.4 2187.5L633.4 2183L635.4 2178.4L637.4 2173.8L639.4 2169L641.4 2164L643.4 2158.9L645.4 2153.7L647.4 2148.2L649.4 2142.7L651.4 2137.2L653.4 2131.7L655.4 2126.3L657.4 2121L659.4 2115.9L661.4 2110.9L663.4 2106L665.4 2101L667.4 2096L669.4 2090.8L671.4 2085.4L673.4 2079.7L675.4 2073.9L677.4 2067.8L679.4 2061.6L681.4 2055.2L683.4 2048.7L685.4 2042L687.4 2035.2L689.4 2028.4L691.4 2021.6L693.4 2014.9L695.4 2008.2L697.4 2001.7L699.4 1995.2L701.4 1988.7L703.4 1982.3L705.4 1975.9L707.4 1969.6L709.4 1963.2L711.4 1956.8L713.4 1950.2L715.4 1943.4L717.4 1936.6L719.4 1929.7L721.4 1922.9L723.4 1916.2L725.4 1909.6L727.4 1903.2L729.4 1897L731.4 1890.9L733.4 1885L735.4 1879.1L737.4 1873.3L739.4 1867.4L741.4 1861.6L743.4 1855.6L745.4 1849.5L747.4 1843.4L749.4 1837.2L751.4 1831.1L753.4 1825.1L755.4 1819.2L757.4 1813.5L759.4 1807.8L761.4 1802.3L763.4 1796.9L765.4 1791.5L767.4 1786.2L769.4 1780.8L771.4 1775.3L773.4 1769.8L775.4 1764.3L777.4 1758.7L779.4 1753.1L781.4 1747.7L783.4 1742.5L785.4 1737.8L787.4 1733.3L789.4 1729L791.4 1724.8L793.4 1720.7L795.4 1716.5L797.4 1712.3L799.4 1707.9L801.4 1703.4L803.4 1698.9L805.4 1694.5L807.4 1690.1L809.4 1685.8L811.4 1681.6L813.4 1677.6L815.4 1673.9L817.4 1670.5L819.4 1667.3L821.4 1664.3L823.4 1661.4L825.4 1658.8L827.4 1656.3L829.4 1653.9L831.4 1651.5L833.4 1649.3L835.4 1647.1L837.4 1645L839.4 1643.1L841.4 1641.4L843.4 1639.9L845.4 1638.7L847.4 1637.7L849.4 1637L851.4 1636.4L853.4 1636L855.4 1635.6L857.4 1635.4L859.4 1635.2L861.4 1635L863.4 1634.8L865.4 1634.6L867.4 1634.4L869.4 1634.2L871.4 1634L873.4 1633.9L875.4 1633.7L877.4 1633.6L879.4 1633.5L881.4 1633.4L883.4 1633.4L885.4 1633.5L887.4 1633.6L889.4 1633.9L891.4 1634.2L893.4 1634.7L895.4 1635.4L897.4 1636.2L899.4 1637.2L901.4 1638.3L903.4 1639.7L905.4 1641.2L907.4 1642.8L909.4 1644.5L911.4 1646.2L913.4 1648L915.4 1649.8L917.4 1651.7L919.4 1653.6L921.4 1655.5L923.4 1657.4L925.4 1659.3L927.4 1661.3L929.4 1663.3L931.4 1665.3L933.4 1667.4L935.4 1669.4L937.4 1671.5L939.4 1673.7L941.4 1675.9L943.4 1678.1L945.4 1680.4L947.4 1682.8L949.4 1685.2L951.4 1687.7L953.4 1690.3L955.4 1693L957.4 1695.7L959.4 1698.5L961.4 1701.3L963.4 1704.1L965.4 1707L967.4 1709.9L969.4 1712.8L971.4 1715.7L973.4 1718.6L975.4 1721.6L977.4 1724.6L979.4 1727.6L981.4 1730.7L983.4 1733.8L985.4 1737L987.4 1740.3L989.4 1743.6L991.4 1747L993.4 1750.5L995.4 1754L997.4 1757.6L999.4 1761.3L1001.4 1765L1003.4 1768.7L1005.4 1772.4L1007.4 1776.2L1009.4 1780.1L1011.4 1783.9L1013.4 1787.8L1015.4 1791.7L1017.4 1795.7L1019.4 1799.6L1021.4 1803.6L1023.4 1807.6L1025.4 1811.7L1027.4 1815.7L1029.4 1819.7L1031.4 1823.8L1033.4 1827.8L1035.4 1831.8L1037.4 1835.8L1039.4 1839.8L1041.4 1843.8L1043.4 1847.7L1045.4 1851.6L1047.4 1855.5L1049.4 1859.3L1051.4 1863.2L1053.4 1867L1055.4 1870.7L1057.4 1874.5L1059.4 1878.3L1061.4 1882.1L1063.4 1885.9L1065.4 1889.7L1067.4 1893.5L1069.4 1897.3L1071.4 1901.1L1073.4 1904.9L1075.4 1908.7L1077.4 1912.5L1079.4 1916.2L1081.4 1920L1083.4 1923.7L1085.4 1927.4L1087.4 1931.1L1089.4 1934.7L1091.4 1938.3L1093.4 1941.9L1095.4 1945.4L1097.4 1948.9L1099.4 1952.3L1101.4 1955.7L1103.4 1959.1L1105.4 1962.4L1107.4 1965.7L1109.4 1968.9L1111.4 1972.1L1113.4 1975.3L1115.4 1978.4L1117.4 1981.5L1119.4 1984.6L1121.4 1987.7L1123.4 1990.8L1125.4 1993.8L1127.4 1996.9L1129.4 2000L1131.4 2003L1133.4 2006.1L1135.4 2009.2L1137.4 2012.3L1139.4 2015.3L1141.4 2018.4L1143.4 2021.4L1145.4 2024.5L1147.4 2027.5L1149.4 2030.4L1151.4 2033.3L1153.4 2036.2L1155.4 2039L1157.4 2041.8L1159.4 2044.5L1161.4 2047.1L1163.4 2049.8L1165.4 2052.3L1167.4 2054.9L1169.4 2057.3L1171.4 2059.8L1173.4 2062.2L1175.4 2064.6L1177.4 2066.9L1179.4 2069.2L1181.4 2071.5L1183.4 2073.8L1185.4 2076L1187.4 2078.3L1189.4 2080.5L1191.4 2082.7L1193.4 2085L1195.4 2087.2L1197.4 2089.4L1199.4 2091.7L1201.4 2094L1203.4 2096.3L1205.4 2098.6L1207.4 2100.9L1209.4 2103.3L1211.4 2105.7L1213.4 2108.1L1215.4 2110.5L1217.4 2113L1219.4 2115.4L1221.4 2117.9L1223.4 2120.4L1225.4 2122.8L1227.4 2125.3L1229.4 2127.7L1231.4 2130.1L1233.4 2132.5L1235.4 2134.8L1237.4 2137.1L1239.4 2139.4L1241.4 2141.7L1243.4 2143.9L1245.4 2146.1L1247.4 2148.2L1249.4 2150.3L1251.4 2152.3L1253.4 2154.3L1255.4 2156.3L1257.4 2158.3L1259.4 2160.2L1261.4 2162L1263.4 2163.9L1265.4 2165.7L1267.4 2167.5L1269.4 2169.3L1271.4 2171.1L1273.4 2172.8L1275.4 2174.6L1277.4 2176.3L1279.4 2178.1L1281.4 2179.8L1283.4 2181.5L1285.4 2183.3L1287.4 2185L1289.4 2186.8L1291.4 2188.5L1293.4 2190.3L1295.4 2192L1297.4 2193.7L1299.4 2195.5L1301.4 2197.2L1303.4 2199L1305.4 2200.7L1307.4 2202.4L1309.4 2204.1L1311.4 2205.8L1313.4 2207.5L1315.4 2209.1L1317.4 2210.7L1319.4 2212.3L1321.4 2213.9L1323.4 2215.5L1325.4 2217L1327.4 2218.5L1329.4 2220L1331.4 2221.4L1333.4 2222.8L1335.4 2224.2L1337.4 2225.6L1339.4 2227L1341.4 2228.4L1343.4 2229.7L1345.4 2231L1347.4 2232.3L1349.4 2233.6L1351.4 2234.9L1353.4 2236.2L1355.4 2237.5L1357.4 2238.7L1359.4 2240L1361.4 2241.3L1363.4 2242.5L1365.4 2243.7L1367.4 2245L1369.4 2246.2L1371.4 2247.3L1373.4 2248.5L1375.4 2249.7L1377.4 2250.8L1379.4 2251.9L1381.4 2253L1383.4 2254.1L1385.4 2255.1L1387.4 2256.1L1389.4 2257.1L1391.4 2258.1L1393.4 2259L1395.4 2259.9L1397.4 2260.8L1399.4 2261.7L1401.4 2262.5L1403.4 2263.4L1405.4 2264.2L1407.4 2265.1L1409.4 2265.9L1411.4 2266.7L1413.4 2267.5L1415.4 2268.3L1417.4 2269L1419.4 2269.8L1421.4 2270.6L1423.4 2271.4L1425.4 2272.1L1427.4 2272.9L1429.4 2273.6L1431.4 2274.4L1433.4 2275.1L1435.4 2275.9L1437.4 2276.6L1439.4 2277.3L1441.4 2278L1443.4 2278.7L1445.4 2279.4L1447.4 2280.1L1449.4 2280.8L1451.4 2281.4L1453.4 2282.1L1455.4 2282.7L1457.4 2283.4L1459.4 2284L1461.4 2284.6L1463.4 2285.2L1465.4 2285.9L1467.4 2286.5L1469.4 2287.1L1471.4 2287.7L1473.4 2288.3L1475.4 2288.9L1477.4 2289.5L1479.4 2290.1L1481.4 2290.7L1483.4 2291.3L1485.4 2291.9L1487.4 2292.5L1489.4 2293.2L1491.4 2293.8L1493.4 2294.4L1495.4 2295L1497.4 2295.6L1499.4 2296.2L1501.4 2296.8L1503.4 2297.4L1505.4 2298L1507.4 2298.6L1509.4 2299.2L1511.4 2299.8L1513.4 2300.4L1515.4 2301L1517.4 2301.6L1519.4 2302.1L1521.4 2302.7L1523.4 2303.3L1525.4 2303.8L1527.4 2304.4L1529.4 2304.9L1531.4 2305.5L1533.4 2306L1535.4 2306.5L1537.4 2307L1539.4 2307.5L1541.4 2308L1543.4 2308.5L1545.4 2309L1547.4 2309.4L1549.4 2309.9L1551.4 2310.3L1553.4 2310.8L1555.4 2311.2L1557.4 2311.6L1559.4 2312.1L1561.4 2312.5L1563.4 2312.9L1565.4 2313.3L1567.4 2313.7L1569.4 2314.2L1571.4 2314.6L1573.4 2315L1575.4 2315.4L1577.4 2315.8L1579.4 2316.3L1581.4 2316.7" stroke-width="4.8" stroke-dasharray="18 15 0.5 17 0.5 20"/>
<path d="M518 2317.9L520 2314.8L522 2311.7L524 2308.5L526 2305.2L528 2301.8L530 2298.2L532 2294.6L534 2290.8L536 2287L538 2283L540 2279L542 2274.9L544 2270.7L546 2266.5L548 2262.2L550 2257.8L552 2253.3L554 2248.8L556 2244.2L558 2239.5L560 2234.8L562 2229.9L564 2225L566 2220L568 2214.9L570 2209.8L572 2204.6L574 2199.3L576 2193.9L578 2188.5L580 2183.1L582 2177.7L584 2172.2L586 2166.8L588 2161.3L590 2155.7L592 2150.1L594 2144.5L596 2138.7L598 2132.9L600 2126.9L602 2120.8L604 2114.6L606 2108.2L608 2101.5L610 2094.7L612 2087.6L614 2080.2L616 2072.6L618 2064.7L620 2056.8L622 2048.9L624 2041.2L626 2033.8L628 2026.7L630 2019.9L632 2013.1L634 2006.4L636 1999.7L638 1992.8L640 1985.6L642 1978.2L644 1970.4L646 1962.3L648 1954L650 1945.7L652 1937.2L654 1928.7L656 1920.2L658 1911.8L660 1903.3L662 1895L664 1886.6L666 1878.4L668 1870.3L670 1862.4L672 1854.5L674 1846.9L676 1839.5L678 1832.2L680 1825L682 1818L684 1811L686 1804.1L688 1797.1L690 1790.2L692 1783.2L694 1776.3L696 1769.5L698 1762.8L700 1756.3L702 1750L704 1743.7L706 1737.6L708 1731.3L710 1724.9L712 1718.3L714 1711.4L716 1704L718 1696.3L720 1688.4L722 1680.4L724 1672.7L726 1665.4L728 1658.6L730 1652.3L732 1646.4L734 1640.9L736 1635.7L738 1630.8L740 1626L742 1621.4L744 1616.9L746 1612.5L748 1608.1L750 1603.7L752 1599.3L754 1595L756 1590.8L758 1586.7L760 1582.6L762 1578.6L764 1574.7L766 1570.9L768 1567.2L770 1563.6L772 1560.2L774 1556.8L776 1553.5L778 1550.4L780 1547.4L782 1544.5L784 1541.7L786 1539L788 1536.5L790 1534L792 1531.7L794 1529.5L796 1527.4L798 1525.4L800 1523.6L802 1521.8L804 1520.1L806 1518.5L808 1517.1L810 1515.7L812 1514.4L814 1513.3L816 1512.3L818 1511.4L820 1510.6L822 1510L824 1509.6L826 1509.4L828 1509.3L830 1509.5L832 1509.9L834 1510.6L836 1511.5L838 1512.6L840 1513.8L842 1515.3L844 1516.8L846 1518.5L848 1520.2L850 1522.1L852 1523.9L854 1525.8L856 1527.7L858 1529.5L860 1531.4L862 1533.2L864 1535L866 1536.7L868 1538.5L870 1540.3L872 1542.1L874 1543.9L876 1545.7L878 1547.4L880 1549.1L882 1550.7L884 1552.2L886 1553.7L888 1555L890 1556.4L892 1557.8L894 1559.3L896 1560.9L898 1562.8L900 1564.9L902 1567.2L904 1569.7L906 1572.3L908 1575L910 1577.8L912 1580.7L914 1583.7L916 1586.7L918 1589.8L920 1593L922 1596.2L924 1599.6L926 1602.9L928 1606.4L930 1609.9L932 1613.5L934 1617.1L936 1620.8L938 1624.5L940 1628.2L942 1632L944 1635.7L946 1639.5L948 1643.3L950 1647.1L952 1650.9L954 1654.8L956 1658.6L958 1662.5L960 1666.4L962 1670.3L964 1674.3L966 1678.2L968 1682.2L970 1686.2L972 1690.2L974 1694.3L976 1698.3L978 1702.2L980 1706.2L982 1710.1L984 1714L986 1717.9L988 1721.7L990 1725.5L992 1729.2L994 1732.9L996 1736.6L998 1740.3L1000 1743.9L1002 1747.5L1004 1751.1L1006 1754.8L1008 1758.4L1010 1762.1L1012 1765.8L1014 1769.6L1016 1773.4L1018 1777.2L1020 1781L1022 1784.9L1024 1788.8L1026 1792.7L1028 1796.7L1030 1800.7L1032 1804.7L1034 1808.7L1036 1812.8L1038 1816.8L1040 1820.9L1042 1824.9L1044 1829L1046 1833L1048 1837L1050 1841.1L1052 1845L1054 1849L1056 1853L1058 1856.9L1060 1860.8L1062 1864.7L1064 1868.6L1066 1872.5L1068 1876.3L1070 1880.2L1072 1884.1L1074 1888L1076 1891.9L1078 1895.8L1080 1899.7L1082 1903.6L1084 1907.5L1086 1911.4L1088 1915.3L1090 1919.1L1092 1922.9L1094 1926.7L1096 1930.4L1098 1934.1L1100 1937.8L1102 1941.4L1104 1945L1106 1948.5L1108 1952L1110 1955.4L1112 1958.8L1114 1962.2L1116 1965.5L1118 1968.7L1120 1972L1122 1975.2L1124 1978.4L1126 1981.6L1128 1984.7L1130 1987.9L1132 1991.1L1134 1994.4L1136 1997.7L1138 2001L1140 2004.4L1142 2007.8L1144 2011.2L1146 2014.6L1148 2017.9L1150 2021.1L1152 2024.3L1154 2027.4L1156 2030.4L1158 2033.4L1160 2036.3L1162 2039.1L1164 2041.9L1166 2044.6L1168 2047.3L1170 2049.9L1172 2052.5L1174 2055L1176 2057.5L1178 2060L1180 2062.4L1182 2064.8L1184 2067.2L1186 2069.5L1188 2071.9L1190 2074.2L1192 2076.5L1194 2078.7L1196 2081L1198 2083.3L1200 2085.6L1202 2087.8L1204 2090.1L1206 2092.4L1208 2094.7L1210 2097.1L1212 2099.4L1214 2101.8L1216 2104.2L1218 2106.6L1220 2109.1L1222 2111.5L1224 2114L1226 2116.4L1228 2118.9L1230 2121.3L1232 2123.8L1234 2126.2L1236 2128.6L1238 2130.9L1240 2133.3L1242 2135.6L1244 2137.8L1246 2140.1L1248 2142.2L1250 2144.4L1252 2146.5L1254 2148.5L1256 2150.6L1258 2152.6L1260 2154.5L1262 2156.4L1264 2158.3L1266 2160.2L1268 2162L1270 2163.8L1272 2165.6L1274 2167.4L1276 2169.1L1278 2170.9L1280 2172.6L1282 2174.4L1284 2176.1L1286 2177.8L1288 2179.6L1290 2181.3L1292 2183.1L1294 2184.8L1296 2186.5L1298 2188.3L1300 2190L1302 2191.8L1304 2193.5L1306 2195.3L1308 2197L1310 2198.7L1312 2200.4L1314 2202.1L1316 2203.8L1318 2205.4L1320 2207L1322 2208.6L1324 2210.2L1326 2211.8L1328 2213.3L1330 2214.8L1332 2216.3L1334 2217.7L1336 2219.2L1338 2220.6L1340 2222L1342 2223.3L1344 2224.7L1346 2226L1348 2227.3L1350 2228.7L1352 2230L1354 2231.2L1356 2232.5L1358 2233.8L1360 2235.1L1362 2236.3L1364 2237.6L1366 2238.8L1368 2240L1370 2241.3L1372 2242.5L1374 2243.7L1376 2244.8L1378 2246L1380 2247.1L1382 2248.2L1384 2249.3L1386 2250.3L1388 2251.4L1390 2252.4L1392 2253.4L1394 2254.3L1396 2255.2L1398 2256.1L1400 2257L1402 2257.9L1404 2258.8L1406 2259.6L1408 2260.4L1410 2261.3L1412 2262.1L1414 2262.9L1416 2263.7L1418 2264.4L1420 2265.2L1422 2266L1424 2266.8L1426 2267.5L1428 2268.3L1430 2269L1432 2269.8L1434 2270.5L1436 2271.3L1438 2272L1440 2272.7L1442 2273.4L1444 2274.2L1446 2274.8L1448 2275.5L1450 2276.2L1452 2276.9L1454 2277.5L1456 2278.2L1458 2278.8L1460 2279.5L1462 2280.1L1464 2280.7L1466 2281.3L1468 2282L1470 2282.6L1472 2283.2L1474 2283.8L1476 2284.4L1478 2285L1480 2285.6L1482 2286.2L1484 2286.8L1486 2287.4L1488 2288L1490 2288.6L1492 2289.2L1494 2289.8L1496 2290.5L1498 2291.1L1500 2291.7L1502 2292.3L1504 2292.9L1506 2293.5L1508 2294.1L1510 2294.7L1512 2295.3L1514 2295.9L1516 2296.5L1518 2297.1L1520 2297.6L1522 2298.2L1524 2298.8L1526 2299.3L1528 2299.9L1530 2300.4L1532 2301L1534 2301.5L1536 2302L1538 2302.5L1540 2303L1542 2303.5L1544 2304L1546 2304.5L1548 2304.9L1550 2305.4L1552 2305.9L1554 2306.3L1556 2306.7L1558 2307.2L1560 2307.6L1562 2308L1564 2308.4L1566 2308.9L1568 2309.3L1570 2309.7L1572 2310.1L1574 2310.5L1576 2310.9L1578 2311.4" stroke-width="4.8" stroke-dasharray="21 27"/>
<path d="M497 2318.9L499 2317.2L501 2315.4L503 2313.5L505 2311.6L507 2309.5L509 2307.3L511 2304.9L513 2302.3L515 2299.5L517 2296.5L519 2293.2L521 2289.8L523 2286.1L525 2282.1L527 2278L529 2273.7L531 2269.3L533 2264.7L535 2260.1L537 2255.3L539 2250.5L541 2245.5L543 2240.5L545 2235.4L547 2230.1L549 2224.7L551 2219.2L553 2213.6L555 2207.9L557 2202.1L559 2196.3L561 2190.4L563 2184.5L565 2178.5L567 2172.4L569 2166.3L571 2160.1L573 2153.8L575 2147.5L577 2141.1L579 2134.6L581 2128L583 2121.4L585 2114.6L587 2107.7L589 2100.8L591 2093.7L593 2086.5L595 2079.2L597 2071.8L599 2064.2L601 2056.5L603 2048.8L605 2041L607 2033.1L609 2025.2L611 2017.3L613 2009.3L615 2001.3L617 1993.3L619 1985.2L621 1977.1L623 1969L625 1960.9L627 1952.8L629 1944.7L631 1936.7L633 1928.7L635 1920.7L637 1912.8L639 1904.8L641 1896.8L643 1888.9L645 1881L647 1873L649 1865.2L651 1857.3L653 1849.4L655 1841.5L657 1833.6L659 1825.6L661 1817.6L663 1809.4L665 1801.1L667 1792.8L669 1784.4L671 1775.9L673 1767.5L675 1759.2L677 1751L679 1742.9L681 1735L683 1727.3L685 1719.7L687 1712.2L689 1704.9L691 1697.7L693 1690.5L695 1683.5L697 1676.5L699 1669.5L701 1662.7L703 1655.9L705 1649.1L707 1642.5L709 1636L711 1629.7L713 1623.4L715 1617.4L717 1611.5L719 1605.8L721 1600.3L723 1594.9L725 1589.6L727 1584.4L729 1579.3L731 1574.2L733 1569.1L735 1564.1L737 1559.2L739 1554.5L741 1549.8L743 1545.4L745 1541.1L747 1537.1L749 1533.2L751 1529.6L753 1526.1L755 1522.8L757 1519.7L759 1516.7L761 1513.9L763 1511.1L765 1508.4L767 1505.8L769 1503.2L771 1500.7L773 1498.2L775 1495.7L777 1493.4L779 1491.1L781 1488.9L783 1486.9L785 1485L787 1483.1L789 1481.4L791 1479.8L793 1478.3L795 1476.9L797 1475.6L799 1474.5L801 1473.5L803 1472.7L805 1472.1L807 1471.6L809 1471.4L811 1471.4L813 1471.6L815 1471.9L817 1472.4L819 1473.1L821 1473.9L823 1474.8L825 1475.9L827 1477.1L829 1478.5L831 1479.9L833 1481.4L835 1483.1L837 1484.8L839 1486.6L841 1488.5L843 1490.4L845 1492.4L847 1494.5L849 1496.6L851 1498.8L853 1501L855 1503.2L857 1505.5L859 1507.8L861 1510.2L863 1512.5L865 1514.9L867 1517.3L869 1519.8L871 1522.2L873 1524.6L875 1527.1L877 1529.5L879 1531.9L881 1534.4L883 1536.9L885 1539.4L887 1541.9L889 1544.5L891 1547.1L893 1549.7L895 1552.4L897 1555.2L899 1557.9L901 1560.7L903 1563.4L905 1566.2L907 1569L909 1571.7L911 1574.5L913 1577.3L915 1580.1L917 1583L919 1585.9L921 1589L923 1592.1L925 1595.3L927 1598.6L929 1602L931 1605.5L933 1609L935 1612.7L937 1616.3L939 1620.1L941 1623.8L943 1627.6L945 1631.4L947 1635.1L949 1638.9L951 1642.7L953 1646.4L955 1650.2L957 1654L959 1657.8L961 1661.7L963 1665.6L965 1669.5L967 1673.4L969 1677.4L971 1681.4L973 1685.4L975 1689.5L977 1693.5L979 1697.6L981 1701.6L983 1705.6L985 1709.6L987 1713.5L989 1717.3L991 1721.1L993 1724.9L995 1728.6L997 1732.3L999 1735.9L1001 1739.5L1003 1743.1L1005 1746.7L1007 1750.3L1009 1753.9L1011 1757.6L1013 1761.2L1015 1764.9L1017 1768.7L1019 1772.5L1021 1776.4L1023 1780.3L1025 1784.2L1027 1788.1L1029 1792L1031 1796L1033 1799.9L1035 1803.9L1037 1808L1039 1812L1041 1816.1L1043 1820.1L1045 1824.2L1047 1828.3L1049 1832.4L1051 1836.4L1053 1840.5L1055 1844.5L1057 1848.4L1059 1852.3L1061 1856.2L1063 1860.1L1065 1864L1067 1867.8L1069 1871.7L1071 1875.5L1073 1879.4L1075 1883.3L1077 1887.2L1079 1891.1L1081 1895L1083 1899L1085 1902.9L1087 1906.8L1089 1910.7L1091 1914.6L1093 1918.4L1095 1922.2L1097 1925.9L1099 1929.7L1101 1933.4L1103 1937L1105 1940.7L1107 1944.2L1109 1947.8L1111 1951.3L1113 1954.7L1115 1958.1L1117 1961.4L1119 1964.7L1121 1968L1123 1971.2L1125 1974.4L1127 1977.6L1129 1980.7L1131 1983.9L1133 1987L1135 1990.1L1137 1993.2L1139 1996.4L1141 1999.5L1143 2002.7L1145 2005.9L1147 2009.1L1149 2012.3L1151 2015.5L1153 2018.6L1155 2021.7L1157 2024.8L1159 2027.8L1161 2030.7L1163 2033.6L1165 2036.4L1167 2039.2L1169 2041.9L1171 2044.6L1173 2047.3L1175 2049.8L1177 2052.4L1179 2054.9L1181 2057.4L1183 2059.8L1185 2062.2L1187 2064.6L1189 2066.9L1191 2069.2L1193 2071.5L1195 2073.8L1197 2076.1L1199 2078.4L1201 2080.6L1203 2082.9L1205 2085.2L1207 2087.4L1209 2089.7L1211 2092L1213 2094.3L1215 2096.7L1217 2099L1219 2101.5L1221 2103.9L1223 2106.3L1225 2108.8L1227 2111.3L1229 2113.8L1231 2116.2L1233 2118.7L1235 2121.2L1237 2123.6L1239 2126L1241 2128.3L1243 2130.7L1245 2133L1247 2135.2L1249 2137.4L1251 2139.6L1253 2141.8L1255 2143.9L1257 2145.9L1259 2147.9L1261 2149.9L1263 2151.9L1265 2153.8L1267 2155.7L1269 2157.5L1271 2159.3L1273 2161.1L1275 2162.9L1277 2164.7L1279 2166.4L1281 2168.2L1283 2169.9L1285 2171.7L1287 2173.4L1289 2175.1L1291 2176.8L1293 2178.6L1295 2180.3L1297 2182.1L1299 2183.8L1301 2185.6L1303 2187.3L1305 2189.1L1307 2190.8L1309 2192.6L1311 2194.3L1313 2196L1315 2197.7L1317 2199.4L1319 2201.1L1321 2202.7L1323 2204.4L1325 2205.9L1327 2207.5L1329 2209.1L1331 2210.6L1333 2212.1L1335 2213.5L1337 2215L1339 2216.4L1341 2217.8L1343 2219.2L1345 2220.5L1347 2221.9L1349 2223.2L1351 2224.5L1353 2225.8L1355 2227.1L1357 2228.4L1359 2229.7L1361 2230.9L1363 2232.2L1365 2233.5L1367 2234.7L1369 2235.9L1371 2237.2L1373 2238.4L1375 2239.6L1377 2240.8L1379 2242L1381 2243.1L1383 2244.2L1385 2245.3L1387 2246.4L1389 2247.4L1391 2248.4L1393 2249.4L1395 2250.4L1397 2251.3L1399 2252.2L1401 2253.1L1403 2254L1405 2254.8L1407 2255.7L1409 2256.5L1411 2257.3L1413 2258.1L1415 2258.9L1417 2259.7L1419 2260.5L1421 2261.3L1423 2262.1L1425 2262.8L1427 2263.6L1429 2264.4L1431 2265.1L1433 2265.9L1435 2266.6L1437 2267.4L1439 2268.1L1441 2268.8L1443 2269.6L1445 2270.3L1447 2271L1449 2271.7L1451 2272.3L1453 2273L1455 2273.7L1457 2274.3L1459 2275L1461 2275.6L1463 2276.2L1465 2276.8L1467 2277.5L1469 2278.1L1471 2278.7L1473 2279.3L1475 2279.9L1477 2280.5L1479 2281.1L1481 2281.7L1483 2282.3L1485 2282.9L1487 2283.5L1489 2284.1L1491 2284.8L1493 2285.4L1495 2286L1497 2286.6L1499 2287.2L1501 2287.8L1503 2288.4L1505 2289L1507 2289.6L1509 2290.2L1511 2290.8L1513 2291.4L1515 2292L1517 2292.6L1519 2293.2L1521 2293.8L1523 2294.3L1525 2294.9L1527 2295.5L1529 2296L1531 2296.6L1533 2297.1L1535 2297.6L1537 2298.1L1539 2298.7L1541 2299.2L1543 2299.7L1545 2300.1L1547 2300.6L1549 2301.1L1551 2301.5L1553 2302L1555 2302.4L1557 2302.9L1559 2303.3L1561 2303.7L1563 2304.1L1565 2304.6L1567 2305L1569 2305.4L1571 2305.8L1573 2306.2L1575 2306.6L1577 2307.1L1579 2307.5L1581 2307.9L1583 2308.3L1585 2308.8" stroke-width="4.8" stroke-linecap="butt"/>
</g>
</g></svg></body></html>
